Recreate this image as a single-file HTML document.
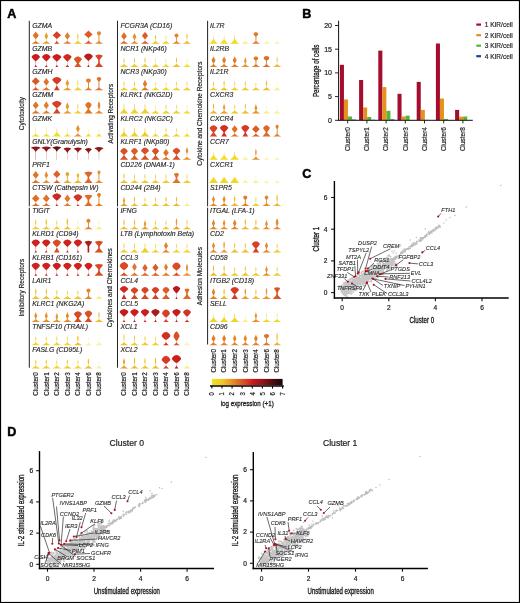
<!DOCTYPE html><html><head><meta charset="utf-8"><style>html,body{margin:0;padding:0;background:#fff}svg{display:block;will-change:transform}text{font-family:"Liberation Sans",sans-serif}</style></head><body><svg width="520" height="603" viewBox="0 0 520 603"><rect x="0.5" y="0.5" width="519" height="602" fill="#fff" stroke="#000" stroke-width="1.2"/>
<text x="7.2" y="17.8" font-size="12.6" font-weight="bold" stroke="#000" stroke-width="0.45" fill="#000">A</text>
<text x="302.3" y="17.8" font-size="12.6" font-weight="bold" stroke="#000" stroke-width="0.45" fill="#000">B</text>
<text x="302.3" y="178.2" font-size="12.6" font-weight="bold" stroke="#000" stroke-width="0.45" fill="#000">C</text>
<text x="7.2" y="435.6" font-size="12.6" font-weight="bold" stroke="#000" stroke-width="0.45" fill="#000">D</text>
<line x1="29.3" y1="20.8" x2="29.3" y2="206.3" stroke="#222" stroke-width="1"/>
<line x1="29.3" y1="207.7" x2="29.3" y2="367.7" stroke="#222" stroke-width="1"/>
<text x="24.2" y="113.6" font-size="6.5" text-anchor="middle" stroke="#2a2a2a" stroke-width="0.2" transform="rotate(-90 24.2 113.6)" fill="#2a2a2a">Cytotoxicity</text>
<text x="24.2" y="287.7" font-size="6.5" text-anchor="middle" stroke="#2a2a2a" stroke-width="0.2" transform="rotate(-90 24.2 287.7)" fill="#2a2a2a">Inhibitory Receptors</text>
<text x="32.2" y="27.7" font-size="6.9" font-style="italic" stroke="#222" stroke-width="0.12" fill="#222">GZMA</text>
<polygon points="40.1,43.8 38.9,43.2 37.9,42.6 37,42 36.4,41.4 35.9,40.7 35.9,40.1 35.9,39.5 36.1,38.9 36.6,38.3 37.1,37.7 37.6,37.1 38.1,36.5 38.6,35.8 38.9,35.6 38.6,35.2 38.1,34.6 37.7,34 37.2,33.4 36.7,32.8 36.2,32.2 35.8,31.6 35.8,31.6 35.3,32.2 34.8,32.8 34.3,33.4 33.8,34 33.4,34.6 32.9,35.2 32.6,35.6 32.9,35.8 33.4,36.5 33.9,37.1 34.4,37.7 34.9,38.3 35.4,38.9 35.6,39.5 35.6,40.1 35.6,40.7 35.1,41.4 34.5,42 33.6,42.6 32.6,43.2 31.4,43.8" fill="#e07327"/>
<polygon points="50.7,43.8 49.5,43.2 48.5,42.6 47.7,42.1 47.1,41.5 46.6,40.9 46.4,40.3 46.4,39.8 46.6,39.2 46.9,38.6 47.2,38 47.4,37.4 47.7,36.9 48,36.3 48,36.2 47.8,35.7 47.5,35.1 47.3,34.5 47,34 46.8,33.4 46.5,32.8 46.3,32.2 46.3,32.2 46,32.8 45.8,33.4 45.6,34 45.3,34.5 45.1,35.1 44.8,35.7 44.6,36.2 44.6,36.3 44.9,36.9 45.1,37.4 45.4,38 45.7,38.6 45.9,39.2 46.2,39.8 46.2,40.3 46,40.9 45.5,41.5 44.9,42.1 44,42.6 43,43.2 41.9,43.8" fill="#e99b2a"/>
<polygon points="59.5,43.8 58.8,43.2 58.1,42.5 57.6,41.9 57.2,41.3 56.9,40.7 56.9,40 56.9,39.4 57.1,38.8 57.8,38.2 58.5,37.5 59.2,36.9 59.9,36.3 60.6,35.7 61,35.3 60.8,35 60.1,34.4 59.5,33.8 58.8,33.2 58.1,32.5 57.5,31.9 56.8,31.3 56.8,31.3 56.2,31.9 55.5,32.5 54.9,33.2 54.2,33.8 53.5,34.4 52.9,35 52.6,35.3 53.1,35.7 53.8,36.3 54.5,36.9 55.2,37.5 55.9,38.2 56.6,38.8 56.7,39.4 56.7,40 56.7,40.7 56.5,41.3 56.1,41.9 55.5,42.5 54.9,43.2 54.1,43.8" fill="#d74024"/>
<polygon points="71.8,43.8 70.6,43.2 69.6,42.6 68.8,42 68.1,41.5 67.6,40.9 67.5,40.3 67.5,39.7 67.9,39.1 68.3,38.5 68.7,37.9 69.1,37.4 69.5,36.8 69.9,36.2 70,36.1 69.7,35.6 69.3,35 68.9,34.4 68.5,33.9 68.1,33.3 67.8,32.7 67.4,32.1 67.4,32.1 67,32.7 66.6,33.3 66.2,33.9 65.8,34.4 65.5,35 65.1,35.6 64.8,36.1 64.8,36.2 65.3,36.8 65.7,37.4 66.1,37.9 66.5,38.5 66.9,39.1 67.3,39.7 67.3,40.3 67.1,40.9 66.6,41.5 66,42 65.1,42.6 64.1,43.2 63,43.8" fill="#e37f28"/>
<polygon points="82.3,43.8 81.2,43.3 80.3,42.7 79.5,42.2 78.9,41.7 78.4,41.1 78,40.6 78,40.1 78.1,39.5 78.2,39 78.3,38.5 78.4,37.9 78.5,37.4 78.5,36.9 78.5,36.5 78.5,36.4 78.5,35.8 78.4,35.3 78.4,34.8 78.3,34.2 78.2,33.7 77.9,33.2 77.9,33.2 77.6,33.7 77.5,34.2 77.4,34.8 77.4,35.3 77.3,35.8 77.3,36.4 77.3,36.5 77.3,36.9 77.4,37.4 77.4,37.9 77.5,38.5 77.6,39 77.7,39.5 77.8,40.1 77.8,40.6 77.4,41.1 77,41.7 76.3,42.2 75.5,42.7 74.6,43.3 73.5,43.8" fill="#f0c928"/>
<polygon points="92.8,43.8 91.5,43.1 90.4,42.5 89.6,41.8 88.9,41.1 88.5,40.5 88.5,39.8 88.5,39.1 88.5,38.5 88.9,37.8 89.6,37.1 90.4,36.5 91.1,35.8 91.8,35.2 92.5,34.5 91.9,33.8 91.2,33.2 90.5,32.5 89.8,31.8 89.1,31.2 88.4,30.5 88.4,30.5 87.8,31.2 87.1,31.8 86.4,32.5 85.7,33.2 85,33.8 84.3,34.5 85.1,35.2 85.8,35.8 86.5,36.5 87.3,37.1 88,37.8 88.3,38.5 88.3,39.1 88.3,39.8 88.3,40.5 88,41.1 87.3,41.8 86.5,42.5 85.4,43.1 84,43.8" fill="#db5c25"/>
<polygon points="103.4,43.8 102.1,43.2 101.1,42.5 100.2,41.9 99.6,41.3 99.4,40.6 99.4,40 99.4,39.4 99.4,38.7 99.4,38.1 99.4,37.5 99.4,36.9 99.4,36.2 99.4,35.6 100.1,35 100.6,34.3 100.9,33.7 101,33.2 101,33.1 100.9,32.4 100.5,31.8 99,31.2 99,31.2 97.5,31.8 97.1,32.4 97,33.1 97,33.2 97.1,33.7 97.4,34.3 97.9,35 98.5,35.6 98.5,36.2 98.5,36.9 98.5,37.5 98.5,38.1 98.5,38.7 98.5,39.4 98.5,40 98.5,40.6 98.4,41.3 97.8,41.9 96.9,42.5 95.8,43.2 94.6,43.8" fill="#e48429"/>
<text x="32.2" y="50.9" font-size="6.9" font-style="italic" stroke="#222" stroke-width="0.12" fill="#222">GZMB</text>
<polygon points="37.1,67 36.7,66.3 36.3,65.7 35.9,65 35.9,64.4 35.9,63.7 35.9,63.1 35.9,62.4 35.9,61.8 36.2,61.1 36.9,60.5 37.6,59.8 38.2,59.2 38.8,58.5 39.3,57.9 39.8,57.2 40,56.9 39.8,56.6 39.4,55.9 38.7,55.3 37.7,54.6 35.8,54 35.8,54 33.8,54.6 32.8,55.3 32.1,55.9 31.7,56.6 31.6,56.9 31.7,57.2 32.2,57.9 32.7,58.5 33.3,59.2 33.9,59.8 34.6,60.5 35.3,61.1 35.6,61.8 35.6,62.4 35.6,63.1 35.6,63.7 35.6,64.4 35.6,65 35.2,65.7 34.8,66.3 34.4,67" fill="#cc1c1c"/>
<polygon points="47.7,67 47.2,66.3 46.8,65.7 46.5,65 46.4,64.4 46.4,63.7 46.4,63.1 46.4,62.4 46.4,61.8 46.7,61.1 47.5,60.5 48.1,59.8 48.8,59.2 49.3,58.5 49.8,57.9 50.3,57.2 50.5,56.9 50.4,56.6 49.9,55.9 49.2,55.3 48.2,54.6 46.3,54 46.3,54 44.3,54.6 43.3,55.3 42.6,55.9 42.2,56.6 42.1,56.9 42.3,57.2 42.7,57.9 43.3,58.5 43.8,59.2 44.4,59.8 45.1,60.5 45.9,61.1 46.2,61.8 46.2,62.4 46.2,63.1 46.2,63.7 46.2,64.4 46.1,65 45.7,65.7 45.3,66.3 44.9,67" fill="#cc1c1c"/>
<polygon points="58.2,67 57.8,66.3 57.4,65.7 57,65.1 56.9,64.4 56.9,63.8 56.9,63.1 56.9,62.5 56.9,61.8 57.4,61.2 58.2,60.5 58.9,59.9 59.5,59.2 60.1,58.6 60.7,58 61.2,57.3 61.3,57 61.2,56.7 60.7,56 60,55.4 58.9,54.7 56.8,54.1 56.8,54.1 54.8,54.7 53.7,55.4 52.9,56 52.5,56.7 52.3,57 52.5,57.3 53,58 53.5,58.6 54.1,59.2 54.8,59.9 55.5,60.5 56.3,61.2 56.7,61.8 56.7,62.5 56.7,63.1 56.7,63.8 56.7,64.4 56.6,65.1 56.3,65.7 55.9,66.3 55.4,67" fill="#cc1c1c"/>
<polygon points="69.4,67 68.7,66.3 68.2,65.7 67.6,65.1 67.5,64.4 67.5,63.8 67.5,63.1 67.5,62.5 67.5,61.8 67.9,61.2 68.6,60.5 69.3,59.9 69.9,59.2 70.4,58.6 71,58 71.4,57.3 71.6,57 71.5,56.7 71,56 70.3,55.4 69.3,54.7 67.4,54.1 67.4,54.1 65.4,54.7 64.4,55.4 63.7,56 63.3,56.7 63.2,57 63.3,57.3 63.8,58 64.3,58.6 64.9,59.2 65.5,59.9 66.1,60.5 66.9,61.2 67.3,61.8 67.3,62.5 67.3,63.1 67.3,63.8 67.3,64.4 67.1,65.1 66.6,65.7 66,66.3 65.4,67" fill="#d0281f"/>
<polygon points="81.7,67 81.2,66.5 80.7,65.9 80.3,65.4 79.9,64.9 79.5,64.3 79.1,63.8 78.8,63.3 79.2,62.7 79.7,62.2 80.2,61.7 80.6,61.1 81,60.6 81.4,60.1 81.8,59.5 81.9,59.3 81.8,59 81.5,58.5 81,57.9 80.4,57.4 79.5,56.9 77.9,56.3 77.9,56.3 76.3,56.9 75.4,57.4 74.8,57.9 74.3,58.5 74,59 73.9,59.3 74,59.5 74.4,60.1 74.8,60.6 75.2,61.1 75.6,61.7 76.1,62.2 76.6,62.7 77,63.3 76.7,63.8 76.3,64.3 75.9,64.9 75.5,65.4 75.1,65.9 74.6,66.5 74.1,67" fill="#da5624"/>
<polygon points="89.6,67 89.3,66.3 88.9,65.6 88.6,65 88.5,64.3 88.5,63.6 88.5,62.9 88.5,62.2 88.5,61.6 88.5,60.9 89.4,60.2 90.1,59.5 90.8,58.9 91.5,58.2 92.1,57.5 92.6,56.8 92.8,56.3 92.8,56.1 92.3,55.5 91.6,54.8 90.5,54.1 88.4,53.4 88.4,53.4 86.4,54.1 85.3,54.8 84.6,55.5 84.1,56.1 84,56.3 84.3,56.8 84.8,57.5 85.4,58.2 86.1,58.9 86.8,59.5 87.5,60.2 88.3,60.9 88.3,61.6 88.3,62.2 88.3,62.9 88.3,63.6 88.3,64.3 88.3,65 88,65.6 87.6,66.3 87.2,67" fill="#c01b1b"/>
<polygon points="103.2,67 102.6,66.4 102,65.8 101.4,65.1 100.9,64.5 100.4,63.9 100,63.3 99.8,62.7 99.8,62 99.8,61.4 99.8,60.8 99.8,60.2 99.9,59.6 100.4,59 100.9,58.3 101.3,57.7 101.8,57.1 102.3,56.5 102.7,56 102.7,55.9 102.2,55.2 99,54.6 99,54.6 95.7,55.2 95.3,55.9 95.3,56 95.7,56.5 96.2,57.1 96.7,57.7 97.1,58.3 97.6,59 98.1,59.6 98.2,60.2 98.2,60.8 98.2,61.4 98.2,62 98.2,62.7 98,63.3 97.6,63.9 97.1,64.5 96.6,65.1 96,65.8 95.4,66.4 94.8,67" fill="#d84524"/>
<text x="32.2" y="74.1" font-size="6.9" font-style="italic" stroke="#222" stroke-width="0.12" fill="#222">GZMH</text>
<polygon points="39.8,90.2 38.6,89.5 37.6,88.9 36.8,88.2 36.2,87.6 35.9,87 35.9,86.3 35.9,85.7 35.9,85 36.4,84.4 37.1,83.7 37.8,83.1 38.5,82.4 39.2,81.8 39.8,81.3 39.6,81.1 39,80.5 38.3,79.9 37.7,79.2 37,78.6 36.4,77.9 35.8,77.3 35.8,77.3 35.1,77.9 34.5,78.6 33.8,79.2 33.2,79.9 32.5,80.5 31.9,81.1 31.8,81.3 32.3,81.8 33,82.4 33.7,83.1 34.4,83.7 35.1,84.4 35.6,85 35.6,85.7 35.6,86.3 35.6,87 35.3,87.6 34.7,88.2 33.9,88.9 32.9,89.5 31.8,90.2" fill="#da5624"/>
<polygon points="50.7,90.2 49.5,89.6 48.4,89 47.6,88.3 46.9,87.7 46.5,87.1 46.4,86.5 46.4,85.9 46.6,85.3 47,84.7 47.5,84.1 47.9,83.5 48.4,82.8 48.9,82.2 49.1,81.9 48.9,81.6 48.4,81 48,80.4 47.6,79.8 47.1,79.2 46.7,78.6 46.3,77.9 46.3,77.9 45.9,78.6 45.4,79.2 45,79.8 44.6,80.4 44.1,81 43.7,81.6 43.5,81.9 43.7,82.2 44.2,82.8 44.6,83.5 45.1,84.1 45.5,84.7 46,85.3 46.2,85.9 46.2,86.5 46.1,87.1 45.6,87.7 45,88.3 44.1,89 43.1,89.6 41.9,90.2" fill="#e07327"/>
<polygon points="59.8,90.2 59.3,89.5 58.9,88.9 58.5,88.2 58.1,87.5 57.7,86.9 57.4,86.2 57.1,85.5 56.9,84.9 57.1,84.2 58,83.5 58.7,82.9 59.4,82.2 60.1,81.5 60.7,80.9 61.2,80.2 61.4,79.8 61.3,79.5 60.9,78.9 60.1,78.2 59,77.5 56.8,76.9 56.8,76.9 54.7,77.5 53.6,78.2 52.8,78.9 52.3,79.5 52.2,79.8 52.5,80.2 53,80.9 53.6,81.5 54.2,82.2 54.9,82.9 55.7,83.5 56.6,84.2 56.7,84.9 56.5,85.5 56.3,86.2 55.9,86.9 55.6,87.5 55.2,88.2 54.8,88.9 54.3,89.5 53.8,90.2" fill="#d63a24"/>
<polygon points="71.8,90.2 70.7,89.6 69.7,89.1 68.9,88.5 68.3,88 67.8,87.5 67.5,86.9 67.7,86.4 67.9,85.8 68.2,85.3 68.5,84.7 68.7,84.2 69,83.6 69.2,83.3 69.1,83.1 68.8,82.5 68.6,82 68.4,81.5 68.1,80.9 67.9,80.4 67.6,79.8 67.4,79.3 67.4,79.3 67.1,79.8 66.9,80.4 66.6,80.9 66.4,81.5 66.1,82 65.9,82.5 65.6,83.1 65.6,83.3 65.8,83.6 66,84.2 66.3,84.7 66.5,85.3 66.8,85.8 67.1,86.4 67.3,86.9 67,87.5 66.5,88 65.8,88.5 65,89.1 64.1,89.6 63,90.2" fill="#e99b2a"/>
<polygon points="82.3,90.2 81.3,89.7 80.4,89.1 79.6,88.6 78.9,88.1 78.4,87.6 78.1,87.1 78,86.5 78,86 78.1,85.5 78.2,85 78.3,84.5 78.3,84 78.3,83.4 78.3,83 78.3,82.9 78.3,82.4 78.3,81.9 78.2,81.4 78.2,80.8 78.1,80.3 77.9,79.8 77.9,79.8 77.7,80.3 77.6,80.8 77.6,81.4 77.5,81.9 77.5,82.4 77.5,82.9 77.5,83 77.5,83.4 77.5,84 77.6,84.5 77.6,85 77.7,85.5 77.8,86 77.8,86.5 77.7,87.1 77.4,87.6 76.9,88.1 76.2,88.6 75.5,89.1 74.6,89.7 73.5,90.2" fill="#f0cf26"/>
<polygon points="92.4,90.2 91.4,89.6 90.5,89 89.7,88.4 89.1,87.8 88.9,87.3 88.9,86.7 88.9,86.1 88.9,85.5 88.9,84.9 88.9,84.3 88.9,83.7 88.9,83.2 89.3,82.6 90.1,82 90.6,81.4 90.9,80.8 90.9,80.5 90.9,80.2 90.7,79.6 90.2,79.1 88.4,78.5 88.4,78.5 86.7,79.1 86.2,79.6 86,80.2 85.9,80.5 86,80.8 86.3,81.4 86.8,82 87.6,82.6 88,83.2 88,83.7 88,84.3 88,84.9 88,85.5 88,86.1 88,86.7 88,87.3 87.8,87.8 87.2,88.4 86.4,89 85.5,89.6 84.4,90.2" fill="#e37f28"/>
<polygon points="103.5,90.2 102.1,89.5 101,88.9 100.1,88.2 99.5,87.5 99.4,86.9 99.4,86.2 99.4,85.5 99.4,84.9 99.4,84.2 99.4,83.5 99.4,82.9 99.4,82.2 99.4,81.5 99.9,80.9 100.6,80.2 101,79.5 101.2,78.9 101.1,78.2 100.6,77.5 99,76.9 99,76.9 97.4,77.5 96.9,78.2 96.8,78.9 97,79.5 97.4,80.2 98.1,80.9 98.5,81.5 98.5,82.2 98.5,82.9 98.5,83.5 98.5,84.2 98.5,84.9 98.5,85.5 98.5,86.2 98.5,86.9 98.5,87.5 97.9,88.2 97,88.9 95.8,89.5 94.5,90.2" fill="#e07327"/>
<text x="32.2" y="97.3" font-size="6.9" font-style="italic" stroke="#222" stroke-width="0.12" fill="#222">GZMM</text>
<polygon points="40.1,113.4 39,112.8 37.9,112.2 37.1,111.6 36.4,111 36,110.4 35.9,109.8 35.9,109.2 36.2,108.6 36.7,108 37.1,107.4 37.6,106.8 38.1,106.2 38.6,105.6 38.8,105.4 38.5,105 38,104.4 37.6,103.8 37.1,103.2 36.6,102.6 36.2,102 35.8,101.4 35.8,101.4 35.3,102 34.9,102.6 34.4,103.2 33.9,103.8 33.5,104.4 33,105 32.8,105.4 32.9,105.6 33.4,106.2 33.9,106.8 34.4,107.4 34.8,108 35.3,108.6 35.6,109.2 35.6,109.8 35.5,110.4 35.1,111 34.4,111.6 33.6,112.2 32.5,112.8 31.4,113.4" fill="#e07327"/>
<polygon points="50.7,113.4 49.5,112.8 48.5,112.2 47.6,111.6 47,111 46.5,110.4 46.4,109.8 46.4,109.2 46.7,108.6 47.1,108 47.5,107.4 48,106.8 48.4,106.2 48.8,105.6 49,105.4 48.7,105 48.3,104.4 47.9,103.8 47.5,103.2 47.1,102.6 46.7,102 46.3,101.4 46.3,101.4 45.9,102 45.5,102.6 45.1,103.2 44.7,103.8 44.3,104.4 43.9,105 43.6,105.4 43.7,105.6 44.2,106.2 44.6,106.8 45,107.4 45.5,108 45.9,108.6 46.2,109.2 46.2,109.8 46.1,110.4 45.6,111 44.9,111.6 44.1,112.2 43.1,112.8 41.9,113.4" fill="#e37f28"/>
<polygon points="60.6,113.4 60,112.7 59.5,112.1 59,111.5 58.5,110.8 58.1,110.2 57.7,109.6 57.3,108.9 57.1,108.3 57.6,107.7 58.4,107.1 59.1,106.4 59.8,105.8 60.4,105.2 60.9,104.5 61.4,103.9 61.5,103.7 61.4,103.3 60.8,102.6 60.1,102 59,101.4 56.8,100.7 56.8,100.7 54.7,101.4 53.6,102 52.8,102.6 52.3,103.3 52.1,103.7 52.3,103.9 52.7,104.5 53.3,105.2 53.9,105.8 54.6,106.4 55.3,107.1 56.1,107.7 56.6,108.3 56.3,108.9 56,109.6 55.6,110.2 55.2,110.8 54.7,111.5 54.2,112.1 53.6,112.7 53,113.4" fill="#d74024"/>
<polygon points="71.8,113.4 70.7,112.8 69.7,112.3 68.9,111.7 68.3,111.2 67.8,110.6 67.5,110.1 67.7,109.6 67.9,109 68.2,108.5 68.5,107.9 68.7,107.4 69,106.8 69.2,106.5 69.1,106.3 68.8,105.7 68.6,105.2 68.4,104.6 68.1,104.1 67.9,103.6 67.6,103 67.4,102.5 67.4,102.5 67.1,103 66.9,103.6 66.6,104.1 66.4,104.6 66.1,105.2 65.9,105.7 65.6,106.3 65.6,106.5 65.8,106.8 66,107.4 66.3,107.9 66.5,108.5 66.8,109 67.1,109.6 67.3,110.1 67,110.6 66.5,111.2 65.8,111.7 65,112.3 64.1,112.8 63,113.4" fill="#e99b2a"/>
<polygon points="82.3,113.4 81.3,112.9 80.5,112.4 79.7,111.9 79.1,111.4 78.6,110.9 78.2,110.5 78,110 78,109.5 78.1,109 78.2,108.5 78.2,108 78.3,107.5 78.3,107.1 78.3,106.6 78.3,106.5 78.3,106.1 78.3,105.6 78.3,105.1 78.2,104.6 78.1,104.1 77.9,103.7 77.9,103.7 77.7,104.1 77.6,104.6 77.6,105.1 77.5,105.6 77.5,106.1 77.5,106.5 77.5,106.6 77.5,107.1 77.5,107.5 77.6,108 77.6,108.5 77.7,109 77.8,109.5 77.8,110 77.6,110.5 77.3,110.9 76.7,111.4 76.1,111.9 75.4,112.4 74.5,112.9 73.5,113.4" fill="#f0cc27"/>
<polygon points="92.6,113.4 92.1,112.8 91.5,112.2 91,111.7 90.5,111.1 90.1,110.5 89.6,110 89.3,109.4 89.1,108.8 89.6,108.3 90,107.7 90.4,107.2 90.8,106.6 91.1,106 91.4,105.5 91.6,105 91.6,104.9 91.4,104.3 91,103.8 90.5,103.2 89.8,102.6 88.4,102.1 88.4,102.1 87.1,102.6 86.4,103.2 85.9,103.8 85.5,104.3 85.3,104.9 85.2,105 85.5,105.5 85.8,106 86.1,106.6 86.5,107.2 86.9,107.7 87.3,108.3 87.8,108.8 87.6,109.4 87.3,110 86.8,110.5 86.4,111.1 85.9,111.7 85.4,112.2 84.8,112.8 84.2,113.4" fill="#e07327"/>
<polygon points="103.4,113.4 102.2,112.8 101.2,112.2 100.4,111.6 99.7,111 99.3,110.4 99.1,109.9 99.2,109.3 99.5,108.7 99.7,108.1 99.9,107.5 100.1,106.9 100.2,106.3 100.3,105.8 100.3,105.7 100.3,105.2 100.2,104.6 100.1,104 99.9,103.4 99.8,102.8 99.5,102.3 99,101.7 99,101.7 98.5,102.3 98.2,102.8 98,103.4 97.9,104 97.8,104.6 97.7,105.2 97.7,105.7 97.7,105.8 97.8,106.3 97.9,106.9 98.1,107.5 98.3,108.1 98.5,108.7 98.7,109.3 98.9,109.9 98.7,110.4 98.3,111 97.6,111.6 96.8,112.2 95.8,112.8 94.6,113.4" fill="#e68a29"/>
<text x="32.2" y="120.5" font-size="6.9" font-style="italic" stroke="#222" stroke-width="0.12" fill="#222">GZMK</text>
<polygon points="40,136.6 39.1,136.1 38.3,135.6 37.6,135.2 37,134.7 36.5,134.2 36.1,133.8 35.9,133.3 35.9,132.8 35.9,132.4 35.9,131.9 35.9,131.4 36,131 36,130.5 36,130 36,129.9 36,129.6 36,129.1 35.9,128.6 35.9,128.2 35.9,127.7 35.8,127.2 35.8,127.2 35.6,127.7 35.6,128.2 35.6,128.6 35.5,129.1 35.5,129.6 35.5,129.9 35.5,130 35.5,130.5 35.5,131 35.6,131.4 35.6,131.9 35.6,132.4 35.6,132.8 35.6,133.3 35.4,133.8 35,134.2 34.5,134.7 33.9,135.2 33.2,135.6 32.4,136.1 31.4,136.6" fill="#f1e021"/>
<polygon points="50.6,136.6 49.6,136 48.7,135.5 47.9,135 47.3,134.5 46.8,134 46.5,133.4 46.4,132.9 46.4,132.4 46.4,131.9 46.5,131.4 46.5,130.9 46.5,130.3 46.5,129.8 46.5,129.4 46.5,129.3 46.5,128.8 46.5,128.3 46.5,127.7 46.4,127.2 46.4,126.7 46.3,126.2 46.3,126.2 46.2,126.7 46.1,127.2 46.1,127.7 46.1,128.3 46.1,128.8 46.1,129.3 46,129.4 46.1,129.8 46.1,130.3 46.1,130.9 46.1,131.4 46.2,131.9 46.2,132.4 46.2,132.9 46.1,133.4 45.8,134 45.3,134.5 44.7,135 43.9,135.5 43,136 42,136.6" fill="#f1e021"/>
<polygon points="61.4,136.6 60.9,136.1 60.3,135.7 59.9,135.3 59.4,134.9 59,134.5 58.6,134 58.3,133.6 58,133.2 57.7,132.8 57.5,132.4 57.3,132 57.1,131.5 57.1,131.1 57.1,130.7 57.1,130.7 57.1,130.3 57.1,129.9 57.1,129.4 57.1,129 57,128.6 56.8,128.2 56.8,128.2 56.7,128.6 56.6,129 56.6,129.4 56.5,129.9 56.5,130.3 56.5,130.7 56.5,130.7 56.5,131.1 56.5,131.5 56.4,132 56.2,132.4 56,132.8 55.7,133.2 55.4,133.6 55.1,134 54.7,134.5 54.3,134.9 53.8,135.3 53.3,135.7 52.8,136.1 52.2,136.6" fill="#f1e021"/>
<polygon points="71.2,136.6 70.4,136.1 69.8,135.7 69.2,135.3 68.7,134.9 68.2,134.5 67.9,134 67.6,133.6 67.5,133.2 67.5,132.8 67.5,132.4 67.5,132 67.5,131.5 67.5,131.1 67.5,130.7 67.6,130.4 67.5,130.3 67.5,129.9 67.5,129.4 67.5,129 67.5,128.6 67.4,128.2 67.4,128.2 67.3,128.6 67.2,129 67.2,129.4 67.2,129.9 67.2,130.3 67.2,130.4 67.2,130.7 67.2,131.1 67.2,131.5 67.3,132 67.3,132.4 67.3,132.8 67.3,133.2 67.1,133.6 66.9,134 66.5,134.5 66.1,134.9 65.6,135.3 65,135.7 64.3,136.1 63.6,136.6" fill="#f1e021"/>
<polygon points="82.3,136.6 81.1,136 80.1,135.4 79.3,134.8 78.6,134.2 78.2,133.6 78,133 78,132.5 78.3,131.9 78.6,131.3 78.9,130.7 79.2,130.1 79.5,129.5 79.8,129 79.8,128.8 79.6,128.4 79.3,127.8 79,127.2 78.7,126.6 78.5,126 78.2,125.4 77.9,124.9 77.9,124.9 77.6,125.4 77.4,126 77.1,126.6 76.8,127.2 76.5,127.8 76.2,128.4 76,128.8 76.1,129 76.4,129.5 76.7,130.1 77,130.7 77.3,131.3 77.6,131.9 77.8,132.5 77.8,133 77.6,133.6 77.2,134.2 76.5,134.8 75.7,135.4 74.7,136 73.5,136.6" fill="#e7902a"/>
<polygon points="91.9,136.6 91.3,136.2 90.8,135.8 90.2,135.4 89.8,135 89.4,134.6 89.1,134.2 88.8,133.9 88.6,133.5 88.5,133.1 88.5,132.7 88.5,132.3 88.6,131.9 88.6,131.5 88.6,131.2 88.6,130.8 88.6,130.7 88.6,130.4 88.6,130 88.6,129.6 88.5,129.2 88.4,128.8 88.4,128.8 88.3,129.2 88.3,129.6 88.3,130 88.3,130.4 88.3,130.7 88.3,130.8 88.3,131.2 88.3,131.5 88.3,131.9 88.3,132.3 88.3,132.7 88.3,133.1 88.3,133.5 88.1,133.9 87.8,134.2 87.5,134.6 87.1,135 86.7,135.4 86.1,135.8 85.6,136.2 84.9,136.6" fill="#f1e021"/>
<polygon points="102.5,136.6 101.9,136.2 101.3,135.8 100.8,135.4 100.3,135 99.9,134.6 99.6,134.2 99.3,133.9 99.1,133.5 99.1,133.1 99.1,132.7 99.1,132.3 99.1,131.9 99.1,131.5 99.2,131.2 99.2,130.8 99.2,130.7 99.2,130.4 99.1,130 99.1,129.6 99.1,129.2 99,128.8 99,128.8 98.9,129.2 98.9,129.6 98.8,130 98.8,130.4 98.8,130.7 98.8,130.8 98.8,131.2 98.8,131.5 98.9,131.9 98.9,132.3 98.9,132.7 98.9,133.1 98.8,133.5 98.6,133.9 98.4,134.2 98,134.6 97.7,135 97.2,135.4 96.7,135.8 96.1,136.2 95.5,136.6" fill="#f1e021"/>
<text x="32.2" y="143.7" font-size="6.9" font-style="italic" stroke="#222" stroke-width="0.12" fill="#222">GNLY(Granulysin)</text>
<polygon points="35.9,159.8 35.9,159.1 35.9,158.4 35.9,157.8 35.9,157.1 35.9,156.4 35.9,155.8 35.9,155.1 35.9,154.4 35.9,153.8 35.9,153.1 35.9,152.4 36,151.8 36.4,151.1 36.9,150.4 37.5,149.8 38.3,149.1 39.3,148.4 40.5,148 40.4,147.8 39.2,147.1 35.8,146.4 35.8,146.4 32.3,147.1 31.1,147.8 30.9,148 32.2,148.4 33.2,149.1 34,149.8 34.6,150.4 35.1,151.1 35.5,151.8 35.6,152.4 35.6,153.1 35.6,153.8 35.6,154.4 35.6,155.1 35.6,155.8 35.6,156.4 35.6,157.1 35.6,157.8 35.6,158.4 35.6,159.1 35.6,159.8" fill="#911618"/>
<polygon points="46.4,159.8 46.4,159.1 46.4,158.4 46.4,157.8 46.4,157.1 46.4,156.4 46.4,155.8 46.4,155.1 46.4,154.4 46.4,153.8 46.4,153.1 46.4,152.4 46.5,151.8 46.9,151.1 47.4,150.4 48,149.8 48.8,149.1 49.9,148.4 51.1,148 50.9,147.8 49.7,147.1 46.3,146.4 46.3,146.4 42.9,147.1 41.7,147.8 41.5,148 42.7,148.4 43.8,149.1 44.6,149.8 45.2,150.4 45.7,151.1 46,151.8 46.2,152.4 46.2,153.1 46.2,153.8 46.2,154.4 46.2,155.1 46.2,155.8 46.2,156.4 46.2,157.1 46.2,157.8 46.2,158.4 46.2,159.1 46.2,159.8" fill="#911618"/>
<polygon points="56.9,159.8 56.9,159.1 56.9,158.4 56.9,157.7 56.9,157 56.9,156.4 56.9,155.7 56.9,155 56.9,154.3 56.9,153.6 56.9,153 56.9,152.3 57,151.6 57.4,150.9 57.8,150.3 58.4,149.6 59.1,148.9 60.1,148.2 61.3,147.8 61.2,147.5 60.1,146.9 56.8,146.2 56.8,146.2 53.6,146.9 52.5,147.5 52.3,147.8 53.5,148.2 54.5,148.9 55.3,149.6 55.8,150.3 56.3,150.9 56.6,151.6 56.7,152.3 56.7,153 56.7,153.6 56.7,154.3 56.7,155 56.7,155.7 56.7,156.4 56.7,157 56.7,157.7 56.7,158.4 56.7,159.1 56.7,159.8" fill="#6a1112"/>
<polygon points="67.5,159.8 67.5,159.1 67.5,158.5 67.5,157.9 67.5,157.3 67.5,156.7 67.5,156.1 67.5,155.5 67.5,154.9 67.5,154.2 67.5,153.6 67.5,153 67.8,152.4 68.1,151.8 68.5,151.2 69.1,150.6 69.7,150 70.7,149.3 71.4,149.1 71.1,148.7 70.1,148.1 67.4,147.5 67.4,147.5 64.7,148.1 63.6,148.7 63.4,149.1 64.1,149.3 65,150 65.7,150.6 66.2,151.2 66.6,151.8 67,152.4 67.2,153 67.3,153.6 67.3,154.2 67.3,154.9 67.3,155.5 67.3,156.1 67.3,156.7 67.3,157.3 67.3,157.9 67.3,158.5 67.3,159.1 67.3,159.8" fill="#911618"/>
<polygon points="78,159.8 78,159.1 78,158.5 78,157.9 78,157.3 78,156.7 78,156 78,155.4 78,154.8 78,154.2 78,153.6 78,152.9 78.3,152.3 78.6,151.7 79,151.1 79.6,150.5 80.2,149.9 81.2,149.2 81.9,149 81.7,148.6 80.6,148 77.9,147.4 77.9,147.4 75.2,148 74.1,148.6 73.9,149 74.7,149.2 75.6,149.9 76.3,150.5 76.8,151.1 77.2,151.7 77.5,152.3 77.8,152.9 77.8,153.6 77.8,154.2 77.8,154.8 77.8,155.4 77.8,156 77.8,156.7 77.8,157.3 77.8,157.9 77.8,158.5 77.8,159.1 77.8,159.8" fill="#911618"/>
<polygon points="88.5,159.8 88.5,159.2 88.5,158.6 88.5,158 88.5,157.4 88.5,156.8 88.5,156.2 88.5,155.7 88.5,155.1 88.5,154.5 88.5,153.9 88.7,153.3 88.9,152.7 89.2,152.1 89.6,151.6 90,151 90.6,150.4 91.5,149.8 91.9,149.6 91.7,149.2 90.8,148.6 88.4,148 88.4,148 86.1,148.6 85.2,149.2 84.9,149.6 85.4,149.8 86.3,150.4 86.9,151 87.3,151.6 87.7,152.1 88,152.7 88.2,153.3 88.3,153.9 88.3,154.5 88.3,155.1 88.3,155.7 88.3,156.2 88.3,156.8 88.3,157.4 88.3,158 88.3,158.6 88.3,159.2 88.3,159.8" fill="#8b1517"/>
<polygon points="99.1,159.8 99.1,159.1 99.1,158.5 99.1,157.8 99.1,157.2 99.1,156.6 99.1,155.9 99.1,155.3 99.1,154.6 99.1,154 99.1,153.4 99.1,152.7 99.3,152.1 99.7,151.5 100.2,150.8 100.7,150.2 101.5,149.5 102.5,148.9 103.5,148.6 103.3,148.3 102.1,147.6 99,147 99,147 95.9,147.6 94.7,148.3 94.5,148.6 95.5,148.9 96.5,149.5 97.2,150.2 97.8,150.8 98.3,151.5 98.7,152.1 98.9,152.7 98.9,153.4 98.9,154 98.9,154.6 98.9,155.3 98.9,155.9 98.9,156.6 98.9,157.2 98.9,157.8 98.9,158.5 98.9,159.1 98.9,159.8" fill="#911618"/>
<text x="32.2" y="166.8" font-size="6.9" font-style="italic" stroke="#222" stroke-width="0.12" fill="#222">PRF1</text>
<polygon points="40.1,182.9 39,182.3 37.9,181.7 37.1,181.1 36.4,180.5 36,179.9 35.9,179.3 35.9,178.8 36.2,178.2 36.7,177.6 37.1,177 37.6,176.4 38.1,175.8 38.6,175.2 38.8,175 38.5,174.6 38,174 37.6,173.4 37.1,172.8 36.6,172.2 36.2,171.6 35.8,171 35.8,171 35.3,171.6 34.9,172.2 34.4,172.8 33.9,173.4 33.5,174 33,174.6 32.8,175 32.9,175.2 33.4,175.8 33.9,176.4 34.4,177 34.8,177.6 35.3,178.2 35.6,178.8 35.6,179.3 35.5,179.9 35.1,180.5 34.4,181.1 33.6,181.7 32.5,182.3 31.4,182.9" fill="#e07327"/>
<polygon points="50.7,182.9 49.5,182.4 48.5,181.8 47.7,181.2 47,180.6 46.6,180 46.4,179.4 46.4,178.8 46.6,178.3 46.9,177.7 47.2,177.1 47.5,176.5 47.8,175.9 48,175.3 48.1,175.2 47.9,174.7 47.6,174.2 47.3,173.6 47.1,173 46.8,172.4 46.6,171.8 46.3,171.2 46.3,171.2 46,171.8 45.8,172.4 45.5,173 45.2,173.6 45,174.2 44.7,174.7 44.5,175.2 44.5,175.3 44.8,175.9 45.1,176.5 45.4,177.1 45.7,177.7 46,178.3 46.2,178.8 46.2,179.4 46,180 45.6,180.6 44.9,181.2 44.1,181.8 43.1,182.4 41.9,182.9" fill="#e7902a"/>
<polygon points="60.4,182.9 59.4,182.3 58.5,181.7 57.8,181 57.3,180.4 57,179.8 56.9,179.1 56.9,178.5 57,177.9 57.6,177.3 58.2,176.6 58.8,176 59.4,175.4 60,174.7 60.4,174.3 60.2,174.1 59.7,173.5 59.1,172.8 58.5,172.2 58,171.6 57.4,170.9 56.8,170.3 56.8,170.3 56.3,170.9 55.7,171.6 55.1,172.2 54.5,172.8 54,173.5 53.4,174.1 53.2,174.3 53.6,174.7 54.3,175.4 54.9,176 55.5,176.6 56.1,177.3 56.7,177.9 56.7,178.5 56.7,179.1 56.7,179.8 56.4,180.4 55.8,181 55.1,181.7 54.3,182.3 53.2,182.9" fill="#dd6225"/>
<polygon points="71.8,182.9 70.7,182.4 69.7,181.8 68.9,181.3 68.3,180.8 67.8,180.2 67.8,179.7 67.8,179.1 67.8,178.6 67.8,178 67.8,177.5 67.8,176.9 67.8,176.4 68.3,175.9 68.7,175.3 69,174.8 69.2,174.2 69.2,174 69.1,173.7 69,173.1 68.6,172.6 67.4,172 67.4,172 66.1,172.6 65.8,173.1 65.6,173.7 65.6,174 65.6,174.2 65.7,174.8 66,175.3 66.4,175.9 66.9,176.4 66.9,176.9 66.9,177.5 66.9,178 66.9,178.6 66.9,179.1 66.9,179.7 66.9,180.2 66.5,180.8 65.8,181.3 65,181.8 64.1,182.4 63,182.9" fill="#eba629"/>
<polygon points="82.3,182.9 81.3,182.5 80.5,182 79.7,181.5 79.1,181 78.6,180.5 78.4,180.1 78.4,179.6 78.4,179.1 78.4,178.6 78.4,178.2 78.4,177.7 78.6,177.2 78.9,176.7 79,176.2 79.2,175.8 79.2,175.4 79.2,175.3 79.2,174.8 79,174.3 78.8,173.8 77.9,173.4 77.9,173.4 77.1,173.8 76.8,174.3 76.7,174.8 76.6,175.3 76.6,175.4 76.7,175.8 76.8,176.2 77,176.7 77.2,177.2 77.5,177.7 77.5,178.2 77.5,178.6 77.5,179.1 77.5,179.6 77.5,180.1 77.2,180.5 76.7,181 76.1,181.5 75.3,182 74.5,182.5 73.5,182.9" fill="#edb729"/>
<polygon points="92.6,182.9 92.1,182.4 91.5,181.8 91,181.2 90.5,180.7 90.1,180.1 89.6,179.5 89.3,179 89.2,178.4 89.2,177.9 89.2,177.3 89.3,176.7 89.7,176.2 90.2,175.6 90.7,175 91.1,174.5 91.6,173.9 92.1,173.3 92.3,173 92.3,172.8 91.8,172.2 88.4,171.6 88.4,171.6 85.1,172.2 84.6,172.8 84.5,173 84.8,173.3 85.3,173.9 85.8,174.5 86.2,175 86.7,175.6 87.1,176.2 87.6,176.7 87.6,177.3 87.6,177.9 87.6,178.4 87.6,179 87.3,179.5 86.8,180.1 86.4,180.7 85.9,181.2 85.4,181.8 84.8,182.4 84.2,182.9" fill="#de6726"/>
<polygon points="103.4,182.9 102.1,182.3 101.1,181.7 100.2,181 99.6,180.4 99.4,179.8 99.4,179.1 99.4,178.5 99.4,177.9 99.4,177.3 99.4,176.6 99.4,176 99.4,175.4 99.4,174.7 99.8,174.1 100.2,173.5 100.4,172.8 100.5,172.3 100.5,172.2 100.4,171.6 100.1,170.9 99,170.3 99,170.3 97.9,170.9 97.6,171.6 97.5,172.2 97.5,172.3 97.6,172.8 97.8,173.5 98.2,174.1 98.5,174.7 98.5,175.4 98.5,176 98.5,176.6 98.5,177.3 98.5,177.9 98.5,178.5 98.5,179.1 98.5,179.8 98.4,180.4 97.8,181 96.9,181.7 95.8,182.3 94.6,182.9" fill="#e7902a"/>
<text x="32.2" y="190" font-size="6.9" font-style="italic" stroke="#222" stroke-width="0.12" fill="#222">CTSW (Cathepsin W)</text>
<polygon points="40.1,206.1 39,205.6 38,205 37.2,204.4 36.5,203.8 36,203.2 35.9,202.7 35.9,202.1 36.5,201.5 37.1,200.9 37.7,200.3 38.3,199.8 38.9,199.2 39.5,198.6 39.5,198.5 39.1,198 38.5,197.5 38,196.9 37.4,196.3 36.9,195.7 36.3,195.1 35.8,194.6 35.8,194.6 35.2,195.1 34.6,195.7 34.1,196.3 33.5,196.9 33,197.5 32.4,198 31.9,198.5 32,198.6 32.6,199.2 33.2,199.8 33.8,200.3 34.4,200.9 35,201.5 35.6,202.1 35.6,202.7 35.5,203.2 35,203.8 34.3,204.4 33.5,205 32.5,205.6 31.4,206.1" fill="#df6d26"/>
<polygon points="50.7,206.1 49.5,205.6 48.5,205 47.7,204.4 47.1,203.8 46.6,203.2 46.4,202.7 46.5,202.1 47,201.5 47.6,200.9 48.1,200.3 48.6,199.8 49.2,199.2 49.7,198.6 49.8,198.5 49.3,198 48.8,197.5 48.3,196.9 47.8,196.3 47.3,195.7 46.8,195.1 46.3,194.6 46.3,194.6 45.8,195.1 45.3,195.7 44.8,196.3 44.3,196.9 43.8,197.5 43.2,198 42.8,198.5 42.8,198.6 43.4,199.2 43.9,199.8 44.5,200.3 45,200.9 45.6,201.5 46.1,202.1 46.2,202.7 46,203.2 45.5,203.8 44.9,204.4 44,205 43,205.6 41.9,206.1" fill="#e07327"/>
<polygon points="58.3,206.1 57.9,205.5 57.4,204.8 57,204.2 56.9,203.5 56.9,202.9 56.9,202.3 56.9,201.6 56.9,201 57.4,200.3 58.2,199.7 58.9,199 59.5,198.4 60.1,197.7 60.7,197.1 61.2,196.5 61.3,196.2 61.2,195.8 60.7,195.2 60,194.5 58.9,193.9 56.8,193.2 56.8,193.2 54.8,193.9 53.7,194.5 52.9,195.2 52.5,195.8 52.3,196.2 52.5,196.5 53,197.1 53.5,197.7 54.1,198.4 54.8,199 55.5,199.7 56.3,200.3 56.7,201 56.7,201.6 56.7,202.3 56.7,202.9 56.7,203.5 56.6,204.2 56.2,204.8 55.8,205.5 55.3,206.1" fill="#d0281f"/>
<polygon points="71.8,206.1 70.6,205.6 69.6,205 68.8,204.4 68.1,203.8 67.7,203.2 67.5,202.7 67.5,202.1 68,201.5 68.5,200.9 68.9,200.3 69.4,199.8 69.9,199.2 70.3,198.6 70.4,198.5 70,198 69.5,197.5 69.1,196.9 68.7,196.3 68.2,195.7 67.8,195.1 67.4,194.6 67.4,194.6 66.9,195.1 66.5,195.7 66.1,196.3 65.6,196.9 65.2,197.5 64.8,198 64.4,198.5 64.4,198.6 64.9,199.2 65.4,199.8 65.8,200.3 66.3,200.9 66.7,201.5 67.2,202.1 67.3,202.7 67.1,203.2 66.6,203.8 65.9,204.4 65.1,205 64.1,205.6 63,206.1" fill="#e27928"/>
<polygon points="79.5,206.1 79,205.5 78.6,204.9 78.2,204.3 78,203.7 78,203.1 78,202.5 78,201.9 78.3,201.3 79,200.7 79.7,200.1 80.3,199.5 80.8,198.9 81.3,198.3 81.8,197.8 82.2,197.2 82.2,197.1 82,196.6 81.5,196 80.8,195.4 79.8,194.8 77.9,194.2 77.9,194.2 76,194.8 75,195.4 74.3,196 73.8,196.6 73.6,197.1 73.6,197.2 74,197.8 74.5,198.3 75,198.9 75.5,199.5 76.1,200.1 76.8,200.7 77.5,201.3 77.8,201.9 77.8,202.5 77.8,203.1 77.8,203.7 77.6,204.3 77.2,204.9 76.8,205.5 76.3,206.1" fill="#d43422"/>
<polygon points="92.7,206.1 92.1,205.6 91.6,205 91,204.4 90.5,203.8 90.1,203.3 89.6,202.7 89.3,202.1 89.2,201.6 89.2,201 89.2,200.4 89.2,199.8 89.7,199.3 90.1,198.7 90.6,198.1 91,197.6 91.5,197 91.9,196.4 92.2,196 92.2,195.8 91.7,195.3 88.4,194.7 88.4,194.7 85.2,195.3 84.7,195.8 84.6,196 85,196.4 85.4,197 85.9,197.6 86.3,198.1 86.8,198.7 87.2,199.3 87.6,199.8 87.6,200.4 87.6,201 87.6,201.6 87.6,202.1 87.3,202.7 86.8,203.3 86.4,203.8 85.9,204.4 85.3,205 84.8,205.6 84.1,206.1" fill="#df6d26"/>
<polygon points="103.4,206.1 102.1,205.5 101,204.8 100.1,204.1 99.5,203.5 99.4,202.8 99.4,202.1 99.4,201.5 99.4,200.8 99.4,200.1 99.4,199.5 99.4,198.8 99.4,198.2 99.4,197.5 99.8,196.8 100.4,196.2 100.7,195.5 100.9,194.8 100.8,194.2 100.4,193.5 99,192.8 99,192.8 97.6,193.5 97.2,194.2 97.1,194.8 97.2,195.5 97.6,196.2 98.2,196.8 98.5,197.5 98.5,198.2 98.5,198.8 98.5,199.5 98.5,200.1 98.5,200.8 98.5,201.5 98.5,202.1 98.5,202.8 98.5,203.5 97.9,204.1 97,204.8 95.9,205.5 94.6,206.1" fill="#e37f28"/>
<text x="32.2" y="213.2" font-size="6.9" font-style="italic" stroke="#222" stroke-width="0.12" fill="#222">TIGIT</text>
<polygon points="40.1,229.3 39.2,228.8 38.3,228.3 37.6,227.9 36.9,227.4 36.4,226.9 36,226.4 35.9,225.9 35.9,225.4 36,225 36.1,224.5 36.2,224 36.3,223.5 36.3,223 36.3,222.5 36.4,222.5 36.3,222 36.3,221.6 36.2,221.1 36.2,220.6 36,220.1 35.8,219.6 35.8,219.6 35.5,220.1 35.3,220.6 35.3,221.1 35.2,221.6 35.2,222 35.1,222.5 35.2,222.5 35.2,223 35.2,223.5 35.3,224 35.4,224.5 35.5,225 35.6,225.4 35.6,225.9 35.5,226.4 35.1,226.9 34.6,227.4 33.9,227.9 33.2,228.3 32.3,228.8 31.4,229.3" fill="#f0cc27"/>
<polygon points="50.7,229.3 49.6,228.8 48.7,228.3 48,227.8 47.3,227.2 46.8,226.7 46.5,226.2 46.4,225.7 46.5,225.2 46.7,224.7 46.8,224.1 46.9,223.6 47,223.1 47,222.6 47,222.1 47,222.1 47,221.5 46.9,221 46.9,220.5 46.8,220 46.6,219.5 46.3,218.9 46.3,218.9 46,219.5 45.8,220 45.7,220.5 45.6,221 45.6,221.5 45.6,222.1 45.6,222.1 45.6,222.6 45.6,223.1 45.7,223.6 45.8,224.1 45.9,224.7 46.1,225.2 46.2,225.7 46.1,226.2 45.8,226.7 45.3,227.2 44.6,227.8 43.8,228.3 42.9,228.8 41.9,229.3" fill="#f0c528"/>
<polygon points="61.2,229.3 60.3,228.9 59.5,228.4 58.8,228 58.2,227.5 57.6,227.1 57.3,226.6 57,226.2 56.9,225.7 56.9,225.3 57.1,224.8 57.2,224.3 57.2,223.9 57.3,223.4 57.3,223 57.3,222.8 57.3,222.5 57.3,222.1 57.2,221.6 57.2,221.2 57.1,220.7 56.8,220.3 56.8,220.3 56.6,220.7 56.5,221.2 56.4,221.6 56.4,222.1 56.4,222.5 56.4,222.8 56.4,223 56.4,223.4 56.4,223.9 56.5,224.3 56.6,224.8 56.7,225.3 56.7,225.7 56.7,226.2 56.4,226.6 56,227.1 55.5,227.5 54.9,228 54.2,228.4 53.3,228.9 52.4,229.3" fill="#f0cf26"/>
<polygon points="71.8,229.3 70.7,228.8 69.7,228.2 68.9,227.7 68.2,227.1 67.8,226.6 67.5,226 67.5,225.5 67.7,224.9 67.8,224.4 68,223.8 68,223.2 68.1,222.7 68.1,222.1 68.2,221.8 68.1,221.6 68.1,221 68.1,220.5 68,219.9 67.9,219.4 67.7,218.8 67.4,218.3 67.4,218.3 67,218.8 66.9,219.4 66.8,219.9 66.7,220.5 66.6,221 66.6,221.6 66.6,221.8 66.6,222.1 66.6,222.7 66.7,223.2 66.8,223.8 66.9,224.4 67.1,224.9 67.3,225.5 67.3,226 67,226.6 66.5,227.1 65.8,227.7 65,228.2 64.1,228.8 63,229.3" fill="#efc028"/>
<polygon points="81.7,229.3 80.9,228.9 80.2,228.4 79.6,228 79.1,227.5 78.6,227.1 78.3,226.6 78,226.2 78,225.7 78,225.3 78.1,224.8 78.1,224.3 78.2,223.9 78.2,223.4 78.2,223 78.2,222.8 78.2,222.5 78.2,222.1 78.2,221.6 78.1,221.2 78.1,220.7 77.9,220.3 77.9,220.3 77.8,220.7 77.7,221.2 77.7,221.6 77.6,222.1 77.6,222.5 77.6,222.8 77.6,223 77.6,223.4 77.7,223.9 77.7,224.3 77.8,224.8 77.8,225.3 77.8,225.7 77.8,226.2 77.5,226.6 77.2,227.1 76.8,227.5 76.2,228 75.6,228.4 74.9,228.9 74.1,229.3" fill="#f1e021" fill-opacity="0.55"/>
<polygon points="92.8,229.3 91.8,228.8 90.9,228.3 90.1,227.7 89.4,227.2 88.9,226.7 88.9,226.1 88.9,225.6 88.9,225.1 88.9,224.5 88.9,224 88.9,223.5 88.9,222.9 89.6,222.4 90,221.9 90.3,221.3 90.4,220.8 90.4,220.7 90.4,220.3 90.2,219.7 89.8,219.2 88.4,218.7 88.4,218.7 87.1,219.2 86.7,219.7 86.5,220.3 86.4,220.7 86.5,220.8 86.6,221.3 86.9,221.9 87.3,222.4 88,222.9 88,223.5 88,224 88,224.5 88,225.1 88,225.6 88,226.1 88,226.7 87.5,227.2 86.8,227.7 86,228.3 85.1,228.8 84,229.3" fill="#e48429"/>
<polygon points="102.8,229.3 101.9,228.8 101.1,228.3 100.4,227.8 99.9,227.2 99.4,226.7 99.1,226.2 99.1,225.7 99.1,225.2 99.1,224.7 99.2,224.1 99.2,223.6 99.3,223.1 99.3,222.6 99.3,222.1 99.3,222.1 99.3,221.5 99.3,221 99.2,220.5 99.2,220 99.1,219.5 99,218.9 99,218.9 98.9,219.5 98.8,220 98.8,220.5 98.7,221 98.7,221.5 98.7,222.1 98.7,222.1 98.7,222.6 98.7,223.1 98.7,223.6 98.8,224.1 98.8,224.7 98.9,225.2 98.9,225.7 98.8,226.2 98.5,226.7 98.1,227.2 97.6,227.8 96.9,228.3 96.1,228.8 95.2,229.3" fill="#f1e021" fill-opacity="0.55"/>
<text x="32.2" y="236.4" font-size="6.9" font-style="italic" stroke="#222" stroke-width="0.12" fill="#222">KLRD1 (CD94)</text>
<polygon points="37.1,252.5 36.7,251.9 36.3,251.2 35.9,250.6 35.9,249.9 35.9,249.3 35.9,248.6 35.9,247.9 35.9,247.3 36.2,246.6 36.9,246 37.6,245.3 38.2,244.7 38.8,244 39.3,243.4 39.8,242.7 40,242.4 39.8,242.1 39.4,241.4 38.7,240.8 37.7,240.1 35.8,239.5 35.8,239.5 33.8,240.1 32.8,240.8 32.1,241.4 31.7,242.1 31.6,242.4 31.7,242.7 32.2,243.4 32.7,244 33.3,244.7 33.9,245.3 34.6,246 35.3,246.6 35.6,247.3 35.6,247.9 35.6,248.6 35.6,249.3 35.6,249.9 35.6,250.6 35.2,251.2 34.8,251.9 34.4,252.5" fill="#ce221e"/>
<polygon points="47.7,252.5 47.2,251.9 46.8,251.2 46.5,250.6 46.4,249.9 46.4,249.3 46.4,248.6 46.4,247.9 46.4,247.3 46.7,246.6 47.5,246 48.1,245.3 48.8,244.7 49.3,244 49.8,243.4 50.3,242.7 50.5,242.4 50.4,242.1 49.9,241.4 49.2,240.8 48.2,240.1 46.3,239.5 46.3,239.5 44.3,240.1 43.3,240.8 42.6,241.4 42.2,242.1 42.1,242.4 42.3,242.7 42.7,243.4 43.3,244 43.8,244.7 44.4,245.3 45.1,246 45.9,246.6 46.2,247.3 46.2,247.9 46.2,248.6 46.2,249.3 46.2,249.9 46.1,250.6 45.7,251.2 45.3,251.9 44.9,252.5" fill="#ce221e"/>
<polygon points="59.8,252.5 59.4,251.9 58.9,251.2 58.5,250.6 58.1,249.9 57.8,249.3 57.5,248.6 57.2,248 57,247.3 57.3,246.7 58.1,246.1 58.7,245.4 59.3,244.8 59.9,244.1 60.4,243.5 60.9,242.8 61,242.5 60.9,242.2 60.5,241.5 59.8,240.9 58.8,240.3 56.8,239.6 56.8,239.6 54.9,240.3 53.9,240.9 53.2,241.5 52.7,242.2 52.6,242.5 52.8,242.8 53.2,243.5 53.8,244.1 54.3,244.8 54.9,245.4 55.6,246.1 56.3,246.7 56.7,247.3 56.5,248 56.2,248.6 55.9,249.3 55.5,249.9 55.2,250.6 54.7,251.2 54.3,251.9 53.8,252.5" fill="#d84b24"/>
<polygon points="68.8,252.5 68.3,251.9 67.9,251.2 67.6,250.6 67.5,249.9 67.5,249.3 67.5,248.6 67.5,247.9 67.5,247.3 67.8,246.6 68.6,246 69.2,245.3 69.8,244.7 70.4,244 70.9,243.4 71.4,242.7 71.6,242.4 71.5,242.1 71,241.4 70.3,240.8 69.3,240.1 67.4,239.5 67.4,239.5 65.4,240.1 64.4,240.8 63.7,241.4 63.3,242.1 63.2,242.4 63.4,242.7 63.8,243.4 64.3,244 64.9,244.7 65.5,245.3 66.2,246 67,246.6 67.3,247.3 67.3,247.9 67.3,248.6 67.3,249.3 67.3,249.9 67.2,250.6 66.8,251.2 66.4,251.9 66,252.5" fill="#ce221e"/>
<polygon points="79.3,252.5 78.9,251.9 78.5,251.2 78.1,250.6 78,249.9 78,249.3 78,248.6 78,247.9 78,247.3 78.3,246.6 79.1,246 79.8,245.3 80.4,244.7 80.9,244 81.5,243.4 81.9,242.7 82.1,242.4 82,242.1 81.6,241.4 80.9,240.8 79.9,240.1 77.9,239.5 77.9,239.5 76,240.1 75,240.8 74.3,241.4 73.8,242.1 73.7,242.4 73.9,242.7 74.4,243.4 74.9,244 75.4,244.7 76.1,245.3 76.7,246 77.5,246.6 77.8,247.3 77.8,247.9 77.8,248.6 77.8,249.3 77.8,249.9 77.7,250.6 77.4,251.2 77,251.9 76.5,252.5" fill="#ce221e"/>
<polygon points="89.2,252.5 89.2,251.9 89.2,251.3 89.2,250.8 89.2,250.2 89.2,249.6 89.2,249 89.2,248.4 89.2,247.8 89.2,247.2 89.2,246.7 89.2,246.1 89.6,245.5 90.1,244.9 90.5,244.3 91,243.7 91.4,243.1 91.9,242.6 92.2,242.1 92.2,242 91.7,241.4 88.4,240.8 88.4,240.8 85.2,241.4 84.7,242 84.6,242.1 85,242.6 85.5,243.1 85.9,243.7 86.4,244.3 86.8,244.9 87.3,245.5 87.6,246.1 87.6,246.7 87.6,247.2 87.6,247.8 87.6,248.4 87.6,249 87.6,249.6 87.6,250.2 87.6,250.8 87.6,251.3 87.6,251.9 87.6,252.5" fill="#ae191a"/>
<polygon points="103.5,252.5 102.8,251.9 102.2,251.3 101.7,250.8 101.1,250.2 100.6,249.6 100.2,249 99.8,248.4 99.8,247.8 99.8,247.2 99.8,246.7 99.8,246.1 100.2,245.5 100.7,244.9 101.2,244.3 101.7,243.7 102.1,243.1 102.6,242.6 103,242.1 103,242 102.4,241.4 99,240.8 99,240.8 95.5,241.4 95,242 95,242.1 95.3,242.6 95.8,243.1 96.3,243.7 96.8,244.3 97.3,244.9 97.8,245.5 98.2,246.1 98.2,246.7 98.2,247.2 98.2,247.8 98.2,248.4 97.8,249 97.3,249.6 96.9,250.2 96.3,250.8 95.7,251.3 95.1,251.9 94.5,252.5" fill="#d84b24"/>
<text x="32.2" y="259.6" font-size="6.9" font-style="italic" stroke="#222" stroke-width="0.12" fill="#222">KLRB1 (CD161)</text>
<polygon points="37.1,275.7 36.7,275 36.3,274.4 35.9,273.7 35.9,273.1 35.9,272.4 35.9,271.8 35.9,271.1 35.9,270.5 36.2,269.8 36.9,269.2 37.6,268.5 38.2,267.9 38.8,267.2 39.3,266.6 39.8,265.9 40,265.6 39.8,265.3 39.4,264.6 38.7,264 37.7,263.3 35.8,262.7 35.8,262.7 33.8,263.3 32.8,264 32.1,264.6 31.7,265.3 31.6,265.6 31.7,265.9 32.2,266.6 32.7,267.2 33.3,267.9 33.9,268.5 34.6,269.2 35.3,269.8 35.6,270.5 35.6,271.1 35.6,271.8 35.6,272.4 35.6,273.1 35.6,273.7 35.2,274.4 34.8,275 34.4,275.7" fill="#ce221e"/>
<polygon points="47.7,275.7 47.2,275 46.8,274.4 46.5,273.7 46.4,273.1 46.4,272.4 46.4,271.8 46.4,271.1 46.4,270.5 46.7,269.8 47.5,269.2 48.1,268.5 48.8,267.9 49.3,267.2 49.8,266.6 50.3,265.9 50.5,265.6 50.4,265.3 49.9,264.6 49.2,264 48.2,263.3 46.3,262.7 46.3,262.7 44.3,263.3 43.3,264 42.6,264.6 42.2,265.3 42.1,265.6 42.3,265.9 42.7,266.6 43.3,267.2 43.8,267.9 44.4,268.5 45.1,269.2 45.9,269.8 46.2,270.5 46.2,271.1 46.2,271.8 46.2,272.4 46.2,273.1 46.1,273.7 45.7,274.4 45.3,275 44.9,275.7" fill="#ce221e"/>
<polygon points="58.2,275.7 57.8,275 57.4,274.4 57,273.7 56.9,273.1 56.9,272.4 56.9,271.8 56.9,271.1 56.9,270.5 57.2,269.8 58,269.2 58.7,268.5 59.3,267.9 59.9,267.2 60.4,266.6 60.8,265.9 61,265.6 60.9,265.3 60.5,264.6 59.8,264 58.8,263.3 56.8,262.7 56.8,262.7 54.9,263.3 53.9,264 53.2,264.6 52.7,265.3 52.6,265.6 52.8,265.9 53.3,266.6 53.8,267.2 54.4,267.9 55,268.5 55.6,269.2 56.4,269.8 56.7,270.5 56.7,271.1 56.7,271.8 56.7,272.4 56.7,273.1 56.6,273.7 56.3,274.4 55.9,275 55.4,275.7" fill="#cc1c1c"/>
<polygon points="68.8,275.7 68.3,275 67.9,274.4 67.6,273.7 67.5,273.1 67.5,272.4 67.5,271.8 67.5,271.1 67.5,270.5 67.8,269.8 68.6,269.2 69.2,268.5 69.8,267.9 70.4,267.2 70.9,266.6 71.4,265.9 71.6,265.6 71.5,265.3 71,264.6 70.3,264 69.3,263.3 67.4,262.7 67.4,262.7 65.4,263.3 64.4,264 63.7,264.6 63.3,265.3 63.2,265.6 63.4,265.9 63.8,266.6 64.3,267.2 64.9,267.9 65.5,268.5 66.2,269.2 67,269.8 67.3,270.5 67.3,271.1 67.3,271.8 67.3,272.4 67.3,273.1 67.2,273.7 66.8,274.4 66.4,275 66,275.7" fill="#ce221e"/>
<polygon points="79.3,275.7 78.9,275 78.5,274.4 78.1,273.7 78,273.1 78,272.4 78,271.8 78,271.1 78,270.5 78.3,269.8 79.1,269.2 79.8,268.5 80.4,267.9 80.9,267.2 81.5,266.6 81.9,265.9 82.1,265.6 82,265.3 81.6,264.6 80.9,264 79.9,263.3 77.9,262.7 77.9,262.7 76,263.3 75,264 74.3,264.6 73.8,265.3 73.7,265.6 73.9,265.9 74.4,266.6 74.9,267.2 75.4,267.9 76.1,268.5 76.7,269.2 77.5,269.8 77.8,270.5 77.8,271.1 77.8,271.8 77.8,272.4 77.8,273.1 77.7,273.7 77.4,274.4 77,275 76.5,275.7" fill="#ce221e"/>
<polygon points="89.8,275.7 89.4,275 89,274.4 88.6,273.7 88.5,273.1 88.5,272.4 88.5,271.8 88.5,271.1 88.5,270.5 88.8,269.8 89.6,269.2 90.2,268.5 90.8,267.9 91.3,267.2 91.8,266.6 92.3,265.9 92.4,265.6 92.4,265.3 91.9,264.6 91.3,264 90.3,263.3 88.4,262.7 88.4,262.7 86.6,263.3 85.6,264 85,264.6 84.5,265.3 84.4,265.6 84.6,265.9 85.1,266.6 85.6,267.2 86.1,267.9 86.7,268.5 87.3,269.2 88.1,269.8 88.3,270.5 88.3,271.1 88.3,271.8 88.3,272.4 88.3,273.1 88.3,273.7 87.9,274.4 87.5,275 87,275.7" fill="#ce221e"/>
<polygon points="103.5,275.7 102.8,275.1 102.2,274.5 101.7,273.9 101.1,273.4 100.6,272.8 100.2,272.2 99.8,271.6 99.8,271 99.8,270.4 99.8,269.8 99.8,269.3 100.2,268.7 100.7,268.1 101.2,267.5 101.7,266.9 102.1,266.3 102.6,265.8 103,265.3 103,265.2 102.4,264.6 99,264 99,264 95.5,264.6 95,265.2 95,265.3 95.3,265.8 95.8,266.3 96.3,266.9 96.8,267.5 97.3,268.1 97.8,268.7 98.2,269.3 98.2,269.8 98.2,270.4 98.2,271 98.2,271.6 97.8,272.2 97.3,272.8 96.9,273.4 96.3,273.9 95.7,274.5 95.1,275.1 94.5,275.7" fill="#d84b24"/>
<text x="32.2" y="282.8" font-size="6.9" font-style="italic" stroke="#222" stroke-width="0.12" fill="#222">LAIR1</text>
<polygon points="40.1,298.9 39.1,298.4 38.2,297.9 37.4,297.3 36.8,296.8 36.3,296.3 35.9,295.8 35.9,295.3 35.9,294.7 36.1,294.2 36.2,293.7 36.3,293.2 36.4,292.7 36.4,292.1 36.4,291.7 36.4,291.6 36.4,291.1 36.3,290.6 36.3,290.1 36.2,289.6 36,289 35.8,288.5 35.8,288.5 35.5,289 35.3,289.6 35.2,290.1 35.2,290.6 35.1,291.1 35.1,291.6 35.1,291.7 35.1,292.1 35.1,292.7 35.2,293.2 35.3,293.7 35.4,294.2 35.6,294.7 35.6,295.3 35.6,295.8 35.2,296.3 34.7,296.8 34.1,297.3 33.3,297.9 32.4,298.4 31.4,298.9" fill="#efc028"/>
<polygon points="50.7,298.9 49.6,298.4 48.7,297.9 48,297.3 47.3,296.8 46.8,296.3 46.5,295.8 46.4,295.3 46.4,294.7 46.6,294.2 46.7,293.7 46.8,293.2 46.8,292.7 46.9,292.1 46.9,291.7 46.9,291.6 46.9,291.1 46.8,290.6 46.8,290.1 46.7,289.6 46.6,289 46.3,288.5 46.3,288.5 46,289 45.9,289.6 45.8,290.1 45.8,290.6 45.7,291.1 45.7,291.6 45.7,291.7 45.7,292.1 45.7,292.7 45.8,293.2 45.9,293.7 46,294.2 46.2,294.7 46.2,295.3 46.1,295.8 45.8,296.3 45.3,296.8 44.6,297.3 43.8,297.9 42.9,298.4 41.9,298.9" fill="#efc028"/>
<polygon points="61.2,298.9 60.3,298.4 59.5,298 58.8,297.5 58.2,297.1 57.6,296.6 57.3,296.2 57,295.7 56.9,295.3 56.9,294.8 57.1,294.4 57.2,293.9 57.3,293.5 57.3,293 57.4,292.6 57.4,292.4 57.4,292.1 57.3,291.7 57.3,291.2 57.2,290.8 57.1,290.3 56.8,289.8 56.8,289.8 56.6,290.3 56.5,290.8 56.4,291.2 56.3,291.7 56.3,292.1 56.3,292.4 56.3,292.6 56.3,293 56.4,293.5 56.4,293.9 56.5,294.4 56.7,294.8 56.7,295.3 56.7,295.7 56.4,296.2 56,296.6 55.5,297.1 54.9,297.5 54.2,298 53.3,298.4 52.4,298.9" fill="#f0cc27"/>
<polygon points="71.8,298.9 70.9,298.5 70.2,298.1 69.5,297.6 68.9,297.2 68.4,296.8 68,296.4 67.6,296 67.5,295.5 67.5,295.1 67.5,294.7 67.7,294.3 67.7,293.9 67.8,293.4 67.8,293 67.9,292.7 67.8,292.6 67.8,292.2 67.8,291.8 67.7,291.3 67.6,290.9 67.4,290.5 67.4,290.5 67.1,290.9 67,291.3 67,291.8 66.9,292.2 66.9,292.6 66.9,292.7 66.9,293 66.9,293.4 67,293.9 67.1,294.3 67.2,294.7 67.3,295.1 67.3,295.5 67.1,296 66.8,296.4 66.4,296.8 65.9,297.2 65.3,297.6 64.6,298.1 63.8,298.5 63,298.9" fill="#f0cc27"/>
<polygon points="82.3,298.9 81.5,298.5 80.7,298.1 80,297.6 79.4,297.2 78.9,296.8 78.5,296.4 78.2,296 78,295.5 78,295.1 78.1,294.7 78.2,294.3 78.3,293.9 78.4,293.4 78.4,293 78.5,292.7 78.4,292.6 78.4,292.2 78.4,291.8 78.3,291.3 78.2,290.9 77.9,290.5 77.9,290.5 77.6,290.9 77.5,291.3 77.4,291.8 77.4,292.2 77.4,292.6 77.4,292.7 77.4,293 77.4,293.4 77.5,293.9 77.6,294.3 77.7,294.7 77.8,295.1 77.8,295.5 77.6,296 77.3,296.4 76.9,296.8 76.4,297.2 75.8,297.6 75.1,298.1 74.4,298.5 73.5,298.9" fill="#f0c928"/>
<polygon points="92.8,298.9 91.8,298.4 90.9,297.9 90.1,297.3 89.5,296.8 89,296.3 88.9,295.8 88.9,295.3 88.9,294.7 88.9,294.2 88.9,293.7 88.9,293.2 89.1,292.7 89.7,292.1 90.1,291.6 90.3,291.1 90.4,290.6 90.4,290.5 90.4,290.1 90.2,289.6 89.8,289 88.4,288.5 88.4,288.5 87.1,289 86.7,289.6 86.5,290.1 86.4,290.5 86.5,290.6 86.6,291.1 86.8,291.6 87.2,292.1 87.8,292.7 88,293.2 88,293.7 88,294.2 88,294.7 88,295.3 88,295.8 87.9,296.3 87.4,296.8 86.8,297.3 86,297.9 85.1,298.4 84,298.9" fill="#e48429"/>
<polygon points="102.6,298.9 101.8,298.4 101.2,298 100.6,297.5 100.1,297.1 99.7,296.6 99.3,296.2 99.1,295.7 99.1,295.3 99.1,294.8 99.1,294.4 99.2,293.9 99.2,293.5 99.2,293 99.2,292.6 99.2,292.4 99.2,292.1 99.2,291.7 99.2,291.2 99.2,290.8 99.1,290.3 99,289.8 99,289.8 98.9,290.3 98.8,290.8 98.8,291.2 98.8,291.7 98.8,292.1 98.8,292.4 98.8,292.6 98.8,293 98.8,293.5 98.8,293.9 98.9,294.4 98.9,294.8 98.9,295.3 98.9,295.7 98.6,296.2 98.3,296.6 97.9,297.1 97.4,297.5 96.8,298 96.1,298.4 95.4,298.9" fill="#f1e021" fill-opacity="0.55"/>
<text x="32.2" y="306" font-size="6.9" font-style="italic" stroke="#222" stroke-width="0.12" fill="#222">KLRC1 (NKG2A)</text>
<polygon points="40.1,322.1 39.1,321.6 38.3,321.1 37.5,320.6 36.9,320.1 36.3,319.6 36,319.1 36.2,318.6 36.4,318.1 36.6,317.6 36.8,317.1 37,316.6 37.2,316.1 37.1,315.6 36.9,315.1 36.7,314.6 36.5,314.1 36.3,313.6 36.1,313.1 35.9,312.6 35.8,312.1 35.8,312.1 35.6,312.6 35.4,313.1 35.2,313.6 35,314.1 34.8,314.6 34.6,315.1 34.4,315.6 34.2,316.1 34.5,316.6 34.7,317.1 34.9,317.6 35.1,318.1 35.3,318.6 35.5,319.1 35.2,319.6 34.6,320.1 34,320.6 33.2,321.1 32.4,321.6 31.4,322.1" fill="#e7902a"/>
<polygon points="50.7,322.1 49.7,321.6 48.8,321.1 48,320.6 47.4,320.1 46.9,319.6 46.6,319.1 46.8,318.6 47,318.1 47.2,317.6 47.4,317.1 47.6,316.6 47.8,316.1 47.6,315.6 47.4,315.1 47.2,314.6 47,314.1 46.9,313.6 46.7,313.1 46.5,312.6 46.3,312.1 46.3,312.1 46.1,312.6 45.9,313.1 45.7,313.6 45.5,314.1 45.4,314.6 45.2,315.1 45,315.6 44.8,316.1 45,316.6 45.2,317.1 45.4,317.6 45.6,318.1 45.8,318.6 46,319.1 45.7,319.6 45.2,320.1 44.5,320.6 43.8,321.1 42.9,321.6 41.9,322.1" fill="#e7902a"/>
<polygon points="61.2,322.1 60.3,321.6 59.5,321.1 58.7,320.7 58.1,320.2 57.6,319.8 57.2,319.3 57.4,318.8 57.6,318.4 57.7,317.9 57.9,317.4 58.1,317 58.1,316.8 58,316.5 57.9,316 57.7,315.6 57.6,315.1 57.4,314.6 57.3,314.2 57.1,313.7 57,313.2 56.8,312.8 56.8,312.8 56.7,313.2 56.5,313.7 56.4,314.2 56.2,314.6 56.1,315.1 55.9,315.6 55.8,316 55.6,316.5 55.5,316.8 55.6,317 55.8,317.4 55.9,317.9 56.1,318.4 56.2,318.8 56.4,319.3 56.1,319.8 55.6,320.2 54.9,320.7 54.2,321.1 53.4,321.6 52.4,322.1" fill="#e8962a"/>
<polygon points="71.8,322.1 70.8,321.6 69.9,321.1 69.1,320.6 68.5,320.1 68,319.6 67.7,319.1 67.9,318.6 68.1,318.1 68.3,317.6 68.5,317.1 68.8,316.6 69,316.1 68.8,315.6 68.6,315.1 68.4,314.6 68.2,314.1 68,313.6 67.8,313.1 67.6,312.6 67.4,312.1 67.4,312.1 67.2,312.6 67,313.1 66.8,313.6 66.6,314.1 66.4,314.6 66.2,315.1 66,315.6 65.8,316.1 66,316.6 66.2,317.1 66.4,317.6 66.6,318.1 66.8,318.6 67.1,319.1 66.8,319.6 66.3,320.1 65.6,320.6 64.9,321.1 64,321.6 63,322.1" fill="#e68a29"/>
<polygon points="81.9,322.1 81.4,321.5 80.9,321 80.4,320.4 79.9,319.9 79.5,319.4 79.1,318.8 78.8,318.3 79,317.7 79.6,317.2 80.1,316.6 80.5,316.1 81,315.5 81.4,315 81.7,314.4 81.9,314.1 81.9,313.9 81.6,313.4 81.1,312.8 80.4,312.3 79.6,311.7 77.9,311.2 77.9,311.2 76.3,311.7 75.4,312.3 74.7,312.8 74.3,313.4 74,313.9 73.9,314.1 74.1,314.4 74.5,315 74.9,315.5 75.3,316.1 75.8,316.6 76.3,317.2 76.8,317.7 77,318.3 76.7,318.8 76.3,319.4 75.9,319.9 75.4,320.4 75,321 74.4,321.5 73.9,322.1" fill="#d84b24"/>
<polygon points="92.4,322.1 91.9,321.5 91.3,320.9 90.8,320.3 90.4,319.8 89.9,319.2 89.5,318.6 89.2,318 89.1,317.5 89.7,316.9 90.2,316.3 90.7,315.7 91.1,315.1 91.6,314.6 92,314 92.2,313.4 92.2,313.4 92,312.8 91.6,312.2 90.9,311.7 90.1,311.1 88.4,310.5 88.4,310.5 86.8,311.1 86,311.7 85.3,312.2 84.9,312.8 84.7,313.4 84.6,313.4 84.9,314 85.3,314.6 85.8,315.1 86.2,315.7 86.7,316.3 87.2,316.9 87.8,317.5 87.7,318 87.4,318.6 87,319.2 86.5,319.8 86.1,320.3 85.6,320.9 85,321.5 84.4,322.1" fill="#d95024"/>
<polygon points="103.4,322.1 102.3,321.6 101.4,321 100.7,320.5 100,320 99.5,319.5 99.2,319 99.1,318.4 99.1,317.9 99.3,317.4 99.4,316.9 99.5,316.4 99.5,315.9 99.6,315.3 99.6,314.9 99.6,314.8 99.6,314.3 99.5,313.8 99.5,313.3 99.4,312.7 99.3,312.2 99,311.7 99,311.7 98.7,312.2 98.6,312.7 98.5,313.3 98.5,313.8 98.4,314.3 98.4,314.8 98.4,314.9 98.4,315.3 98.4,315.9 98.5,316.4 98.6,316.9 98.7,317.4 98.9,317.9 98.9,318.4 98.8,319 98.5,319.5 98,320 97.3,320.5 96.5,321 95.6,321.6 94.6,322.1" fill="#eeba28"/>
<text x="32.2" y="329.2" font-size="6.9" font-style="italic" stroke="#222" stroke-width="0.12" fill="#222">TNFSF10 (TRAIL)</text>
<polygon points="40.1,345.3 39.2,344.8 38.4,344.4 37.7,343.9 37.1,343.5 36.6,343 36.2,342.6 35.9,342.1 35.9,341.7 35.9,341.2 36,340.7 36.1,340.3 36.2,339.8 36.2,339.4 36.2,338.9 36.2,338.8 36.2,338.5 36.2,338 36.1,337.6 36.1,337.1 36,336.7 35.8,336.2 35.8,336.2 35.5,336.7 35.4,337.1 35.4,337.6 35.3,338 35.3,338.5 35.3,338.8 35.3,338.9 35.3,339.4 35.3,339.8 35.4,340.3 35.5,340.7 35.6,341.2 35.6,341.7 35.6,342.1 35.3,342.6 34.9,343 34.4,343.5 33.8,343.9 33.1,344.4 32.3,344.8 31.4,345.3" fill="#f0d524"/>
<polygon points="50.7,345.3 49.8,344.8 49,344.4 48.2,343.9 47.6,343.5 47.1,343 46.7,342.6 46.4,342.1 46.4,341.7 46.4,341.2 46.5,340.7 46.6,340.3 46.7,339.8 46.7,339.4 46.8,338.9 46.8,338.8 46.8,338.5 46.7,338 46.7,337.6 46.6,337.1 46.5,336.7 46.3,336.2 46.3,336.2 46.1,336.7 46,337.1 45.9,337.6 45.8,338 45.8,338.5 45.8,338.8 45.8,338.9 45.8,339.4 45.9,339.8 45.9,340.3 46,340.7 46.2,341.2 46.2,341.7 46.1,342.1 45.9,342.6 45.5,343 45,343.5 44.3,343.9 43.6,344.4 42.8,344.8 41.9,345.3" fill="#f0d225"/>
<polygon points="61.2,345.3 60.3,344.8 59.5,344.4 58.8,343.9 58.2,343.5 57.6,343 57.3,342.6 57,342.1 56.9,341.7 56.9,341.2 57.1,340.7 57.2,340.3 57.2,339.8 57.3,339.4 57.3,338.9 57.3,338.8 57.3,338.5 57.3,338 57.2,337.6 57.2,337.1 57.1,336.7 56.8,336.2 56.8,336.2 56.6,336.7 56.5,337.1 56.4,337.6 56.4,338 56.4,338.5 56.4,338.8 56.4,338.9 56.4,339.4 56.4,339.8 56.5,340.3 56.6,340.7 56.7,341.2 56.7,341.7 56.7,342.1 56.4,342.6 56,343 55.5,343.5 54.9,343.9 54.2,344.4 53.3,344.8 52.4,345.3" fill="#f0d524"/>
<polygon points="71.8,345.3 70.9,344.8 70,344.4 69.3,343.9 68.7,343.5 68.2,343 67.8,342.6 67.5,342.1 67.5,341.7 67.5,341.2 67.6,340.7 67.7,340.3 67.8,339.8 67.8,339.4 67.8,338.9 67.9,338.8 67.8,338.5 67.8,338 67.8,337.6 67.7,337.1 67.6,336.7 67.4,336.2 67.4,336.2 67.1,336.7 67,337.1 67,337.6 66.9,338 66.9,338.5 66.9,338.8 66.9,338.9 66.9,339.4 67,339.8 67,340.3 67.1,340.7 67.3,341.2 67.3,341.7 67.2,342.1 66.9,342.6 66.6,343 66,343.5 65.4,343.9 64.7,344.4 63.9,344.8 63,345.3" fill="#f0d524"/>
<polygon points="82.3,345.3 81.3,344.8 80.5,344.3 79.7,343.8 79.1,343.3 78.6,342.8 78.2,342.4 78,341.9 78,341.4 78.2,340.9 78.4,340.4 78.5,339.9 78.6,339.4 78.6,339 78.6,338.5 78.6,338.4 78.6,338 78.6,337.5 78.5,337 78.4,336.5 78.2,336 77.9,335.6 77.9,335.6 77.6,336 77.4,336.5 77.3,337 77.3,337.5 77.2,338 77.2,338.4 77.2,338.5 77.2,339 77.3,339.4 77.3,339.9 77.5,340.4 77.6,340.9 77.8,341.4 77.8,341.9 77.6,342.4 77.3,342.8 76.7,343.3 76.1,343.8 75.4,344.3 74.5,344.8 73.5,345.3" fill="#efc028"/>
<polygon points="92,345.3 91.4,344.9 90.7,344.4 90.2,344 89.7,343.6 89.3,343.2 88.9,342.8 88.7,342.3 88.5,341.9 88.5,341.5 88.5,341.1 88.6,340.7 88.6,340.2 88.7,339.8 88.7,339.4 88.7,339.1 88.7,339 88.7,338.6 88.7,338.1 88.6,337.7 88.6,337.3 88.4,336.9 88.4,336.9 88.3,337.3 88.3,337.7 88.2,338.1 88.2,338.6 88.2,339 88.2,339.1 88.2,339.4 88.2,339.8 88.3,340.2 88.3,340.7 88.3,341.1 88.3,341.5 88.3,341.9 88.2,342.3 88,342.8 87.6,343.2 87.2,343.6 86.7,344 86.2,344.4 85.5,344.9 84.8,345.3" fill="#f1e021" fill-opacity="0.42"/>
<polygon points="102.6,345.3 101.9,344.9 101.3,344.4 100.7,344 100.2,343.6 99.8,343.2 99.5,342.8 99.2,342.3 99.1,341.9 99.1,341.5 99.1,341.1 99.1,340.7 99.2,340.2 99.2,339.8 99.2,339.4 99.2,339.1 99.2,339 99.2,338.6 99.2,338.1 99.2,337.7 99.1,337.3 99,336.9 99,336.9 98.9,337.3 98.8,337.7 98.8,338.1 98.8,338.6 98.8,339 98.8,339.1 98.8,339.4 98.8,339.8 98.8,340.2 98.8,340.7 98.9,341.1 98.9,341.5 98.9,341.9 98.8,342.3 98.5,342.8 98.2,343.2 97.8,343.6 97.3,344 96.7,344.4 96.1,344.9 95.4,345.3" fill="#f1e021" fill-opacity="0.42"/>
<text x="32.2" y="352.4" font-size="6.9" font-style="italic" stroke="#222" stroke-width="0.12" fill="#222">FASLG (CD95L)</text>
<polygon points="40.1,368.5 39.2,368 38.4,367.6 37.7,367.1 37.1,366.7 36.6,366.2 36.2,365.7 35.9,365.3 35.9,364.8 35.9,364.4 36.1,363.9 36.2,363.5 36.3,363 36.3,362.6 36.3,362.1 36.4,361.9 36.3,361.7 36.3,361.2 36.2,360.8 36.2,360.3 36,359.9 35.8,359.4 35.8,359.4 35.5,359.9 35.3,360.3 35.3,360.8 35.2,361.2 35.2,361.7 35.1,361.9 35.2,362.1 35.2,362.6 35.2,363 35.3,363.5 35.4,363.9 35.6,364.4 35.6,364.8 35.6,365.3 35.3,365.7 34.9,366.2 34.4,366.7 33.8,367.1 33.1,367.6 32.3,368 31.4,368.5" fill="#f0cf26"/>
<polygon points="50.7,368.5 49.8,368 49,367.6 48.2,367.1 47.6,366.7 47.1,366.2 46.7,365.7 46.4,365.3 46.4,364.8 46.4,364.4 46.6,363.9 46.7,363.5 46.8,363 46.9,362.6 46.9,362.1 46.9,361.9 46.9,361.7 46.8,361.2 46.8,360.8 46.7,360.3 46.6,359.9 46.3,359.4 46.3,359.4 46,359.9 45.9,360.3 45.8,360.8 45.7,361.2 45.7,361.7 45.7,361.9 45.7,362.1 45.7,362.6 45.8,363 45.9,363.5 46,363.9 46.2,364.4 46.2,364.8 46.1,365.3 45.9,365.7 45.5,366.2 45,366.7 44.3,367.1 43.6,367.6 42.8,368 41.9,368.5" fill="#f0cc27"/>
<polygon points="61.2,368.5 60.4,368 59.6,367.6 58.9,367.2 58.3,366.8 57.8,366.4 57.4,365.9 57.1,365.5 56.9,365.1 56.9,364.7 57,364.3 57.1,363.9 57.2,363.4 57.3,363 57.3,362.6 57.3,362.3 57.3,362.2 57.3,361.8 57.2,361.3 57.2,360.9 57.1,360.5 56.8,360.1 56.8,360.1 56.6,360.5 56.5,360.9 56.4,361.3 56.4,361.8 56.4,362.2 56.4,362.3 56.4,362.6 56.4,363 56.5,363.4 56.5,363.9 56.7,364.3 56.7,364.7 56.7,365.1 56.6,365.5 56.2,365.9 55.8,366.4 55.3,366.8 54.7,367.2 54,367.6 53.3,368 52.4,368.5" fill="#f1d724"/>
<polygon points="71.8,368.5 70.9,368 70,367.6 69.3,367.1 68.7,366.7 68.2,366.2 67.8,365.7 67.5,365.3 67.5,364.8 67.5,364.4 67.7,363.9 67.8,363.5 67.9,363 67.9,362.6 68,362.1 68,361.9 68,361.7 67.9,361.2 67.9,360.8 67.8,360.3 67.7,359.9 67.4,359.4 67.4,359.4 67.1,359.9 67,360.3 66.9,360.8 66.8,361.2 66.8,361.7 66.8,361.9 66.8,362.1 66.8,362.6 66.9,363 66.9,363.5 67.1,363.9 67.3,364.4 67.3,364.8 67.2,365.3 66.9,365.7 66.6,366.2 66,366.7 65.4,367.1 64.7,367.6 63.9,368 63,368.5" fill="#f0cc27"/>
<polygon points="82.3,368.5 81.5,368 80.7,367.6 80,367.2 79.4,366.8 78.9,366.4 78.5,365.9 78.2,365.5 78,365.1 78,364.7 78.1,364.3 78.2,363.9 78.3,363.4 78.3,363 78.4,362.6 78.4,362.3 78.4,362.2 78.4,361.8 78.3,361.3 78.3,360.9 78.1,360.5 77.9,360.1 77.9,360.1 77.7,360.5 77.6,360.9 77.5,361.3 77.5,361.8 77.4,362.2 77.4,362.3 77.4,362.6 77.5,363 77.5,363.4 77.6,363.9 77.8,364.3 77.8,364.7 77.8,365.1 77.6,365.5 77.3,365.9 76.9,366.4 76.4,366.8 75.8,367.2 75.1,367.6 74.4,368 73.5,368.5" fill="#f0d524"/>
<polygon points="92.8,368.5 91.9,368 91,367.5 90.3,367 89.6,366.5 89.1,366 88.7,365.5 88.5,365.1 88.5,364.6 88.8,364.1 88.9,363.6 89.1,363.1 89.1,362.6 89.2,362.1 89.2,361.7 89.2,361.6 89.2,361.2 89.2,360.7 89.1,360.2 89,359.7 88.8,359.2 88.4,358.8 88.4,358.8 88.1,359.2 87.9,359.7 87.8,360.2 87.7,360.7 87.7,361.2 87.7,361.6 87.7,361.7 87.7,362.1 87.8,362.6 87.8,363.1 88,363.6 88.1,364.1 88.3,364.6 88.3,365.1 88.2,365.5 87.8,366 87.3,366.5 86.6,367 85.9,367.5 85,368 84,368.5" fill="#efc028"/>
<polygon points="102.6,368.5 101.9,368.1 101.4,367.7 100.8,367.3 100.4,366.9 100,366.5 99.6,366.1 99.3,365.8 99.1,365.4 99.1,365 99.1,364.6 99.1,364.2 99.2,363.8 99.2,363.4 99.2,363.1 99.2,362.7 99.2,362.6 99.2,362.3 99.2,361.9 99.2,361.5 99.1,361.1 99,360.7 99,360.7 98.9,361.1 98.8,361.5 98.8,361.9 98.8,362.3 98.8,362.6 98.8,362.7 98.8,363.1 98.8,363.4 98.8,363.8 98.9,364.2 98.9,364.6 98.9,365 98.8,365.4 98.6,365.8 98.4,366.1 98,366.5 97.6,366.9 97.1,367.3 96.6,367.7 96,368.1 95.4,368.5" fill="#f1e021" fill-opacity="0.42"/>
<text x="38" y="372.3" font-size="7" text-anchor="end" textLength="23.5" lengthAdjust="spacingAndGlyphs" stroke="#1a1a1a" stroke-width="0.2" transform="rotate(-90 38 372.3)" fill="#1a1a1a">Cluster0</text>
<text x="48.6" y="372.3" font-size="7" text-anchor="end" textLength="23.5" lengthAdjust="spacingAndGlyphs" stroke="#1a1a1a" stroke-width="0.2" transform="rotate(-90 48.6 372.3)" fill="#1a1a1a">Cluster1</text>
<text x="59.1" y="372.3" font-size="7" text-anchor="end" textLength="23.5" lengthAdjust="spacingAndGlyphs" stroke="#1a1a1a" stroke-width="0.2" transform="rotate(-90 59.1 372.3)" fill="#1a1a1a">Cluster2</text>
<text x="69.7" y="372.3" font-size="7" text-anchor="end" textLength="23.5" lengthAdjust="spacingAndGlyphs" stroke="#1a1a1a" stroke-width="0.2" transform="rotate(-90 69.7 372.3)" fill="#1a1a1a">Cluster3</text>
<text x="80.2" y="372.3" font-size="7" text-anchor="end" textLength="23.5" lengthAdjust="spacingAndGlyphs" stroke="#1a1a1a" stroke-width="0.2" transform="rotate(-90 80.2 372.3)" fill="#1a1a1a">Cluster4</text>
<text x="90.7" y="372.3" font-size="7" text-anchor="end" textLength="23.5" lengthAdjust="spacingAndGlyphs" stroke="#1a1a1a" stroke-width="0.2" transform="rotate(-90 90.7 372.3)" fill="#1a1a1a">Cluster6</text>
<text x="101.3" y="372.3" font-size="7" text-anchor="end" textLength="23.5" lengthAdjust="spacingAndGlyphs" stroke="#1a1a1a" stroke-width="0.2" transform="rotate(-90 101.3 372.3)" fill="#1a1a1a">Cluster8</text>
<line x1="117.5" y1="20.8" x2="117.5" y2="206.3" stroke="#222" stroke-width="1"/>
<line x1="117.5" y1="207.7" x2="117.5" y2="367.7" stroke="#222" stroke-width="1"/>
<text x="112.7" y="113.6" font-size="6.5" text-anchor="middle" stroke="#2a2a2a" stroke-width="0.2" transform="rotate(-90 112.7 113.6)" fill="#2a2a2a">Activating Receptors</text>
<text x="112.5" y="287.7" font-size="6.5" text-anchor="middle" stroke="#2a2a2a" stroke-width="0.2" transform="rotate(-90 112.5 287.7)" fill="#2a2a2a">Cytokines and Chemokines</text>
<text x="120.4" y="27.7" font-size="6.9" font-style="italic" stroke="#222" stroke-width="0.12" fill="#222">FCGR3A (CD16)</text>
<polygon points="128.4,43.8 127.2,43.2 126.3,42.6 125.4,42.1 124.8,41.5 124.3,40.9 124.1,40.3 124.1,39.8 124.6,39.2 125,38.6 125.5,38 125.9,37.4 126.3,36.9 126.8,36.3 126.8,36.2 126.4,35.7 126,35.1 125.6,34.5 125.2,34 124.8,33.4 124.4,32.8 124,32.2 124,32.2 123.6,32.8 123.2,33.4 122.8,34 122.4,34.5 122,35.1 121.6,35.7 121.2,36.2 121.2,36.3 121.7,36.9 122.1,37.4 122.5,38 123,38.6 123.4,39.2 123.9,39.8 123.9,40.3 123.7,40.9 123.2,41.5 122.6,42.1 121.7,42.6 120.8,43.2 119.6,43.8" fill="#df6d26"/>
<polygon points="138.9,43.8 137.8,43.3 136.9,42.7 136.1,42.2 135.4,41.6 134.9,41.1 134.6,40.5 134.8,40 135.1,39.4 135.3,38.9 135.6,38.3 135.9,37.8 136.1,37.3 136.3,36.9 136.2,36.7 136,36.2 135.7,35.6 135.5,35.1 135.2,34.5 135,34 134.7,33.4 134.5,32.9 134.5,32.9 134.3,33.4 134,34 133.8,34.5 133.5,35.1 133.3,35.6 133,36.2 132.8,36.7 132.7,36.9 132.9,37.3 133.1,37.8 133.4,38.3 133.7,38.9 133.9,39.4 134.2,40 134.4,40.5 134.1,41.1 133.6,41.6 132.9,42.2 132.1,42.7 131.2,43.3 130.1,43.8" fill="#e7902a"/>
<polygon points="149.4,43.8 148.2,43.2 147.2,42.6 146.3,42 145.7,41.4 145.2,40.8 145.1,40.2 145.1,39.6 145.4,39 145.9,38.4 146.4,37.8 146.9,37.2 147.4,36.6 147.9,36 148.1,35.8 147.8,35.4 147.3,34.8 146.9,34.2 146.4,33.6 145.9,33 145.5,32.4 145,31.8 145,31.8 144.5,32.4 144.1,33 143.6,33.6 143.1,34.2 142.7,34.8 142.2,35.4 141.9,35.8 142.1,36 142.6,36.6 143.1,37.2 143.6,37.8 144.1,38.4 144.6,39 144.9,39.6 144.9,40.2 144.8,40.8 144.3,41.4 143.7,42 142.8,42.6 141.8,43.2 140.6,43.8" fill="#db5c25"/>
<polygon points="159.9,43.8 159,43.3 158.2,42.9 157.4,42.4 156.8,42 156.3,41.5 155.9,41.1 155.6,40.6 155.6,40.2 155.6,39.7 155.8,39.3 155.9,38.8 156,38.4 156.1,37.9 156.1,37.5 156.1,37.3 156.1,37 156.1,36.6 156,36.1 155.9,35.7 155.8,35.2 155.5,34.8 155.5,34.8 155.2,35.2 155.1,35.7 155,36.1 154.9,36.6 154.9,37 154.9,37.3 154.9,37.5 154.9,37.9 155,38.4 155.1,38.8 155.2,39.3 155.4,39.7 155.4,40.2 155.4,40.6 155.1,41.1 154.7,41.5 154.2,42 153.6,42.4 152.8,42.9 152,43.3 151.1,43.8" fill="#f0c528"/>
<polygon points="170,43.8 169.2,43.4 168.5,43 167.9,42.5 167.4,42.1 166.9,41.7 166.5,41.3 166.2,40.9 166.1,40.4 166.1,40 166.1,39.6 166.2,39.2 166.3,38.8 166.3,38.4 166.4,37.9 166.4,37.6 166.4,37.5 166.3,37.1 166.3,36.7 166.3,36.3 166.2,35.8 166,35.4 166,35.4 165.8,35.8 165.7,36.3 165.7,36.7 165.7,37.1 165.6,37.5 165.6,37.6 165.6,37.9 165.7,38.4 165.7,38.8 165.8,39.2 165.9,39.6 165.9,40 165.9,40.4 165.8,40.9 165.5,41.3 165.1,41.7 164.6,42.1 164.1,42.5 163.5,43 162.8,43.4 162,43.8" fill="#f0cf26"/>
<polygon points="180.9,43.8 179.9,43.3 178.9,42.8 178.2,42.2 177.5,41.7 177,41.2 176.9,40.7 176.9,40.2 176.9,39.7 176.9,39.1 176.9,38.6 176.9,38.1 177.1,37.6 177.7,37.1 178.1,36.5 178.4,36 178.5,35.5 178.5,35.4 178.5,35 178.3,34.5 177.8,33.9 176.5,33.4 176.5,33.4 175.2,33.9 174.7,34.5 174.5,35 174.5,35.4 174.5,35.5 174.6,36 174.9,36.5 175.3,37.1 175.9,37.6 176.1,38.1 176.1,38.6 176.1,39.1 176.1,39.7 176.1,40.2 176.1,40.7 176,41.2 175.5,41.7 174.8,42.2 174.1,42.8 173.1,43.3 172.1,43.8" fill="#e48429"/>
<polygon points="191.4,43.8 190.4,43.3 189.4,42.8 188.7,42.2 188,41.7 187.5,41.2 187.2,40.7 187.1,40.2 187.1,39.7 187.3,39.1 187.4,38.6 187.4,38.1 187.5,37.6 187.5,37.1 187.5,36.6 187.5,36.5 187.5,36 187.5,35.5 187.4,35 187.4,34.5 187.2,33.9 187,33.4 187,33.4 186.8,33.9 186.6,34.5 186.6,35 186.5,35.5 186.5,36 186.5,36.5 186.5,36.6 186.5,37.1 186.5,37.6 186.6,38.1 186.6,38.6 186.7,39.1 186.9,39.7 186.9,40.2 186.8,40.7 186.5,41.2 186,41.7 185.3,42.2 184.6,42.8 183.6,43.3 182.6,43.8" fill="#eeba28"/>
<text x="120.4" y="50.9" font-size="6.9" font-style="italic" stroke="#222" stroke-width="0.12" fill="#222">NCR1 (NKp46)</text>
<polygon points="128.4,67 127.5,66.5 126.7,66.1 125.9,65.6 125.3,65.2 124.8,64.7 124.4,64.3 124.1,63.8 124.1,63.4 124.1,62.9 124.3,62.5 124.4,62 124.5,61.6 124.5,61.1 124.5,60.7 124.5,60.5 124.5,60.2 124.5,59.8 124.4,59.3 124.4,58.9 124.3,58.4 124,57.9 124,57.9 123.7,58.4 123.6,58.9 123.6,59.3 123.5,59.8 123.5,60.2 123.5,60.5 123.5,60.7 123.5,61.1 123.5,61.6 123.6,62 123.7,62.5 123.9,62.9 123.9,63.4 123.9,63.8 123.6,64.3 123.2,64.7 122.7,65.2 122.1,65.6 121.3,66.1 120.5,66.5 119.6,67" fill="#f0c928"/>
<polygon points="138.9,67 138,66.5 137.2,66.1 136.4,65.6 135.8,65.2 135.3,64.7 134.9,64.3 134.6,63.8 134.6,63.4 134.6,62.9 134.8,62.5 134.9,62 135,61.6 135,61.1 135,60.7 135,60.5 135,60.2 135,59.8 134.9,59.3 134.9,58.9 134.8,58.4 134.5,57.9 134.5,57.9 134.2,58.4 134.1,58.9 134.1,59.3 134,59.8 134,60.2 134,60.5 134,60.7 134,61.1 134,61.6 134.1,62 134.2,62.5 134.4,62.9 134.4,63.4 134.4,63.8 134.1,64.3 133.7,64.7 133.2,65.2 132.6,65.6 131.8,66.1 131,66.5 130.1,67" fill="#f0c928"/>
<polygon points="149.4,67 148.4,66.5 147.6,66 146.8,65.5 146.2,65 145.7,64.6 145.3,64.1 145.1,63.6 145.1,63.1 145.2,62.6 145.4,62.1 145.5,61.7 145.5,61.2 145.6,60.7 145.6,60.2 145.6,60.1 145.6,59.7 145.5,59.2 145.5,58.7 145.4,58.3 145.3,57.8 145,57.3 145,57.3 144.7,57.8 144.6,58.3 144.5,58.7 144.5,59.2 144.4,59.7 144.4,60.1 144.4,60.2 144.4,60.7 144.5,61.2 144.5,61.7 144.6,62.1 144.8,62.6 144.9,63.1 144.9,63.6 144.7,64.1 144.3,64.6 143.8,65 143.2,65.5 142.4,66 141.6,66.5 140.6,67" fill="#f0c928"/>
<polygon points="159.7,67 158.8,66.5 158,66.1 157.4,65.6 156.8,65.2 156.3,64.7 155.9,64.3 155.6,63.8 155.6,63.4 155.6,62.9 155.7,62.5 155.7,62 155.8,61.6 155.8,61.1 155.8,60.7 155.8,60.5 155.8,60.2 155.8,59.8 155.7,59.3 155.7,58.9 155.6,58.4 155.5,57.9 155.5,57.9 155.4,58.4 155.3,58.9 155.3,59.3 155.2,59.8 155.2,60.2 155.2,60.5 155.2,60.7 155.2,61.1 155.2,61.6 155.3,62 155.3,62.5 155.4,62.9 155.4,63.4 155.4,63.8 155.1,64.3 154.7,64.7 154.2,65.2 153.6,65.6 153,66.1 152.2,66.5 151.3,67" fill="#f0d225"/>
<polygon points="170,67 169.2,66.6 168.5,66.2 167.9,65.7 167.4,65.3 166.9,64.9 166.5,64.5 166.2,64.1 166.1,63.6 166.1,63.2 166.1,62.8 166.2,62.4 166.2,62 166.3,61.5 166.3,61.1 166.3,60.8 166.3,60.7 166.3,60.3 166.3,59.9 166.2,59.4 166.1,59 166,58.6 166,58.6 165.9,59 165.8,59.4 165.7,59.9 165.7,60.3 165.7,60.7 165.7,60.8 165.7,61.1 165.7,61.5 165.8,62 165.8,62.4 165.9,62.8 165.9,63.2 165.9,63.6 165.8,64.1 165.5,64.5 165.1,64.9 164.6,65.3 164.1,65.7 163.5,66.2 162.8,66.6 162,67" fill="#f0d524"/>
<polygon points="180.9,67 179.9,66.5 179.1,66 178.3,65.5 177.7,65 177.2,64.6 176.8,64.1 176.6,63.6 176.6,63.1 176.7,62.6 176.8,62.1 176.9,61.7 177,61.2 177,60.7 177,60.2 177,60.1 177,59.7 177,59.2 176.9,58.7 176.9,58.3 176.8,57.8 176.5,57.3 176.5,57.3 176.2,57.8 176.1,58.3 176.1,58.7 176,59.2 176,59.7 176,60.1 176,60.2 176,60.7 176,61.2 176.1,61.7 176.2,62.1 176.3,62.6 176.4,63.1 176.4,63.6 176.2,64.1 175.8,64.6 175.3,65 174.7,65.5 173.9,66 173.1,66.5 172.1,67" fill="#efc028"/>
<polygon points="190.8,67 190.1,66.6 189.4,66.2 188.8,65.7 188.3,65.3 187.9,64.9 187.5,64.5 187.2,64.1 187.1,63.6 187.1,63.2 187.1,62.8 187.1,62.4 187.2,62 187.2,61.5 187.2,61.1 187.2,60.8 187.2,60.7 187.2,60.3 187.2,59.9 187.2,59.4 187.1,59 187,58.6 187,58.6 186.9,59 186.8,59.4 186.8,59.9 186.8,60.3 186.8,60.7 186.8,60.8 186.8,61.1 186.8,61.5 186.8,62 186.9,62.4 186.9,62.8 186.9,63.2 186.9,63.6 186.8,64.1 186.5,64.5 186.1,64.9 185.7,65.3 185.2,65.7 184.6,66.2 183.9,66.6 183.2,67" fill="#f1dd22"/>
<text x="120.4" y="74.1" font-size="6.9" font-style="italic" stroke="#222" stroke-width="0.12" fill="#222">NCR3 (NKp30)</text>
<polygon points="128.4,90.2 127.5,89.7 126.7,89.3 125.9,88.8 125.3,88.4 124.8,87.9 124.4,87.5 124.1,87 124.1,86.6 124.1,86.1 124.3,85.7 124.3,85.2 124.4,84.8 124.5,84.3 124.5,83.8 124.5,83.7 124.5,83.4 124.4,82.9 124.4,82.5 124.3,82 124.2,81.6 124,81.1 124,81.1 123.8,81.6 123.7,82 123.6,82.5 123.6,82.9 123.5,83.4 123.5,83.7 123.5,83.8 123.5,84.3 123.6,84.8 123.7,85.2 123.7,85.7 123.9,86.1 123.9,86.6 123.9,87 123.6,87.5 123.2,87.9 122.7,88.4 122.1,88.8 121.3,89.3 120.5,89.7 119.6,90.2" fill="#f0cc27"/>
<polygon points="138.9,90.2 138,89.7 137.2,89.3 136.4,88.8 135.8,88.4 135.3,87.9 134.9,87.5 134.6,87 134.6,86.6 134.6,86.1 134.8,85.7 134.8,85.2 134.9,84.8 135,84.3 135,83.8 135,83.7 135,83.4 134.9,82.9 134.9,82.5 134.8,82 134.7,81.6 134.5,81.1 134.5,81.1 134.3,81.6 134.2,82 134.1,82.5 134.1,82.9 134,83.4 134,83.7 134,83.8 134,84.3 134.1,84.8 134.2,85.2 134.2,85.7 134.4,86.1 134.4,86.6 134.4,87 134.1,87.5 133.7,87.9 133.2,88.4 132.6,88.8 131.8,89.3 131,89.7 130.1,90.2" fill="#f0cc27"/>
<polygon points="149.4,90.2 148.4,89.7 147.4,89.1 146.7,88.6 146,88.1 145.5,87.6 145.3,87.1 145.6,86.5 145.9,86 146.2,85.5 146.5,85 146.8,84.5 147.1,84 147.2,83.8 147,83.4 146.7,82.9 146.4,82.4 146.1,81.9 145.9,81.4 145.6,80.8 145.3,80.3 145,79.8 145,79.8 144.7,80.3 144.4,80.8 144.1,81.4 143.9,81.9 143.6,82.4 143.3,82.9 143,83.4 142.8,83.8 142.9,84 143.2,84.5 143.5,85 143.8,85.5 144.1,86 144.4,86.5 144.7,87.1 144.5,87.6 144,88.1 143.3,88.6 142.6,89.1 141.6,89.7 140.6,90.2" fill="#e27928"/>
<polygon points="159.7,90.2 158.9,89.8 158.2,89.3 157.5,88.9 156.9,88.5 156.4,88.1 156.1,87.7 155.8,87.2 155.6,86.8 155.6,86.4 155.6,86 155.7,85.6 155.7,85.2 155.8,84.7 155.8,84.3 155.8,84 155.8,83.9 155.8,83.5 155.8,83.1 155.7,82.6 155.6,82.2 155.5,81.8 155.5,81.8 155.4,82.2 155.3,82.6 155.2,83.1 155.2,83.5 155.2,83.9 155.2,84 155.2,84.3 155.2,84.7 155.3,85.2 155.3,85.6 155.4,86 155.4,86.4 155.4,86.8 155.2,87.2 154.9,87.7 154.6,88.1 154.1,88.5 153.5,88.9 152.8,89.3 152.1,89.8 151.3,90.2" fill="#f0d524"/>
<polygon points="170.2,90.2 169.4,89.8 168.7,89.3 168,88.9 167.4,88.5 166.9,88.1 166.6,87.7 166.3,87.2 166.1,86.8 166.1,86.4 166.1,86 166.2,85.6 166.2,85.2 166.3,84.7 166.3,84.3 166.3,84 166.3,83.9 166.3,83.5 166.3,83.1 166.2,82.6 166.1,82.2 166,81.8 166,81.8 165.9,82.2 165.8,82.6 165.7,83.1 165.7,83.5 165.7,83.9 165.7,84 165.7,84.3 165.7,84.7 165.8,85.2 165.8,85.6 165.9,86 165.9,86.4 165.9,86.8 165.7,87.2 165.4,87.7 165.1,88.1 164.6,88.5 164,88.9 163.3,89.3 162.6,89.8 161.8,90.2" fill="#f0d524"/>
<polygon points="180.9,90.2 180,89.7 179.2,89.3 178.4,88.8 177.8,88.4 177.3,87.9 176.9,87.5 176.6,87 176.6,86.6 176.6,86.1 176.7,85.7 176.8,85.2 176.9,84.8 176.9,84.3 176.9,83.8 176.9,83.7 176.9,83.4 176.9,82.9 176.8,82.5 176.8,82 176.7,81.6 176.5,81.1 176.5,81.1 176.3,81.6 176.2,82 176.2,82.5 176.1,82.9 176.1,83.4 176.1,83.7 176.1,83.8 176.1,84.3 176.1,84.8 176.2,85.2 176.3,85.7 176.4,86.1 176.4,86.6 176.4,87 176.1,87.5 175.7,87.9 175.2,88.4 174.6,88.8 173.8,89.3 173,89.7 172.1,90.2" fill="#f0cf26"/>
<polygon points="191.4,90.2 190.5,89.7 189.7,89.3 188.9,88.8 188.3,88.4 187.8,87.9 187.4,87.5 187.1,87 187.1,86.6 187.1,86.1 187.2,85.7 187.3,85.2 187.4,84.8 187.4,84.3 187.4,83.8 187.4,83.7 187.4,83.4 187.4,82.9 187.3,82.5 187.3,82 187.2,81.6 187,81.1 187,81.1 186.8,81.6 186.7,82 186.7,82.5 186.6,82.9 186.6,83.4 186.6,83.7 186.6,83.8 186.6,84.3 186.6,84.8 186.7,85.2 186.8,85.7 186.9,86.1 186.9,86.6 186.9,87 186.6,87.5 186.2,87.9 185.7,88.4 185.1,88.8 184.3,89.3 183.5,89.7 182.6,90.2" fill="#f0cf26"/>
<text x="120.4" y="97.3" font-size="6.9" font-style="italic" stroke="#222" stroke-width="0.12" fill="#222">KLRK1 (NKG2D)</text>
<polygon points="128.5,113.4 127.9,112.9 127.3,112.4 126.7,111.9 126.3,111.4 125.8,110.9 125.4,110.5 125.1,110 124.8,109.5 124.5,109 124.3,108.5 124.3,108 124.4,107.5 124.4,107.1 124.4,106.9 124.4,106.6 124.3,106.1 124.3,105.6 124.3,105.1 124.3,104.6 124.2,104.1 124,103.7 124,103.7 123.8,104.1 123.7,104.6 123.7,105.1 123.7,105.6 123.7,106.1 123.6,106.6 123.6,106.9 123.6,107.1 123.6,107.5 123.7,108 123.7,108.5 123.5,109 123.2,109.5 122.9,110 122.6,110.5 122.2,110.9 121.7,111.4 121.3,111.9 120.7,112.4 120.1,112.9 119.5,113.4" fill="#f0cf26"/>
<polygon points="139,113.4 138.4,112.9 137.8,112.4 137.2,111.9 136.8,111.4 136.3,110.9 135.9,110.5 135.6,110 135.3,109.5 135,109 134.8,108.5 134.8,108 134.9,107.5 134.9,107.1 134.9,106.9 134.9,106.6 134.8,106.1 134.8,105.6 134.8,105.1 134.8,104.6 134.7,104.1 134.5,103.7 134.5,103.7 134.3,104.1 134.2,104.6 134.2,105.1 134.2,105.6 134.2,106.1 134.1,106.6 134.1,106.9 134.1,107.1 134.1,107.5 134.2,108 134.2,108.5 134,109 133.7,109.5 133.4,110 133.1,110.5 132.7,110.9 132.2,111.4 131.8,111.9 131.2,112.4 130.6,112.9 130,113.4" fill="#f0cf26"/>
<polygon points="149.8,113.4 149.1,112.9 148.5,112.4 147.9,111.9 147.4,111.4 146.9,110.9 146.5,110.5 146.1,110 145.8,109.5 145.6,109 145.3,108.5 145.3,108 145.4,107.5 145.4,107.1 145.4,106.9 145.4,106.6 145.3,106.1 145.3,105.6 145.3,105.1 145.3,104.6 145.2,104.1 145,103.7 145,103.7 144.8,104.1 144.7,104.6 144.7,105.1 144.7,105.6 144.7,106.1 144.6,106.6 144.6,106.9 144.6,107.1 144.6,107.5 144.7,108 144.7,108.5 144.4,109 144.2,109.5 143.9,110 143.5,110.5 143.1,110.9 142.6,111.4 142.1,111.9 141.5,112.4 140.9,112.9 140.2,113.4" fill="#f0cc27"/>
<polygon points="159.7,113.4 158.9,113 158.2,112.5 157.5,112.1 156.9,111.7 156.4,111.3 156.1,110.9 155.8,110.4 155.6,110 155.6,109.6 155.6,109.2 155.6,108.8 155.7,108.3 155.7,107.9 155.7,107.5 155.7,107.2 155.7,107.1 155.7,106.7 155.7,106.2 155.7,105.8 155.6,105.4 155.5,105 155.5,105 155.4,105.4 155.3,105.8 155.3,106.2 155.3,106.7 155.3,107.1 155.3,107.2 155.3,107.5 155.3,107.9 155.3,108.3 155.4,108.8 155.4,109.2 155.4,109.6 155.4,110 155.2,110.4 154.9,110.9 154.6,111.3 154.1,111.7 153.5,112.1 152.8,112.5 152.1,113 151.3,113.4" fill="#f0d524"/>
<polygon points="170.4,113.4 169.5,112.9 168.7,112.5 167.9,112 167.3,111.6 166.8,111.1 166.4,110.7 166.1,110.2 166.1,109.8 166.1,109.3 166.3,108.8 166.3,108.4 166.4,107.9 166.5,107.5 166.5,107 166.5,106.9 166.5,106.6 166.4,106.1 166.4,105.7 166.3,105.2 166.2,104.8 166,104.3 166,104.3 165.8,104.8 165.7,105.2 165.6,105.7 165.6,106.1 165.5,106.6 165.5,106.9 165.5,107 165.5,107.5 165.6,107.9 165.7,108.4 165.7,108.8 165.9,109.3 165.9,109.8 165.9,110.2 165.6,110.7 165.2,111.1 164.7,111.6 164.1,112 163.3,112.5 162.5,112.9 161.6,113.4" fill="#f0cc27"/>
<polygon points="180.9,113.4 180,112.9 179.2,112.5 178.4,112 177.8,111.6 177.3,111.1 176.9,110.7 176.6,110.2 176.6,109.8 176.6,109.3 176.7,108.8 176.8,108.4 176.8,107.9 176.8,107.5 176.9,107 176.9,106.9 176.9,106.6 176.8,106.1 176.8,105.7 176.7,105.2 176.7,104.8 176.5,104.3 176.5,104.3 176.3,104.8 176.3,105.2 176.2,105.7 176.2,106.1 176.1,106.6 176.1,106.9 176.1,107 176.2,107.5 176.2,107.9 176.2,108.4 176.3,108.8 176.4,109.3 176.4,109.8 176.4,110.2 176.1,110.7 175.7,111.1 175.2,111.6 174.6,112 173.8,112.5 173,112.9 172.1,113.4" fill="#f0cf26"/>
<polygon points="190.8,113.4 190.1,113 189.4,112.5 188.8,112.1 188.3,111.7 187.9,111.3 187.5,110.9 187.2,110.4 187.1,110 187.1,109.6 187.1,109.2 187.1,108.8 187.2,108.3 187.2,107.9 187.2,107.5 187.2,107.2 187.2,107.1 187.2,106.7 187.2,106.2 187.2,105.8 187.1,105.4 187,105 187,105 186.9,105.4 186.8,105.8 186.8,106.2 186.8,106.7 186.8,107.1 186.8,107.2 186.8,107.5 186.8,107.9 186.8,108.3 186.9,108.8 186.9,109.2 186.9,109.6 186.9,110 186.8,110.4 186.5,110.9 186.1,111.3 185.7,111.7 185.2,112.1 184.6,112.5 183.9,113 183.2,113.4" fill="#f1da23"/>
<text x="120.4" y="120.5" font-size="6.9" font-style="italic" stroke="#222" stroke-width="0.12" fill="#222">KLRC2 (NKG2C)</text>
<polygon points="128.5,136.6 127.9,136.1 127.4,135.7 126.9,135.2 126.4,134.8 126,134.3 125.6,133.8 125.2,133.4 124.9,132.9 124.7,132.5 124.5,132 124.3,131.6 124.3,131.1 124.4,130.7 124.4,130.4 124.4,130.2 124.4,129.8 124.3,129.3 124.3,128.9 124.3,128.4 124.2,128 124,127.5 124,127.5 123.8,128 123.7,128.4 123.7,128.9 123.7,129.3 123.6,129.8 123.6,130.2 123.6,130.4 123.6,130.7 123.7,131.1 123.7,131.6 123.5,132 123.3,132.5 123.1,132.9 122.8,133.4 122.4,133.8 122,134.3 121.6,134.8 121.1,135.2 120.6,135.7 120.1,136.1 119.5,136.6" fill="#f0cf26"/>
<polygon points="139,136.6 138.4,136.1 137.9,135.7 137.4,135.2 136.9,134.8 136.5,134.3 136.1,133.8 135.7,133.4 135.4,132.9 135.2,132.5 135,132 134.8,131.6 134.8,131.1 134.9,130.7 134.9,130.4 134.9,130.2 134.9,129.8 134.8,129.3 134.8,128.9 134.8,128.4 134.7,128 134.5,127.5 134.5,127.5 134.3,128 134.2,128.4 134.2,128.9 134.2,129.3 134.1,129.8 134.1,130.2 134.1,130.4 134.1,130.7 134.2,131.1 134.2,131.6 134,132 133.8,132.5 133.6,132.9 133.3,133.4 132.9,133.8 132.5,134.3 132.1,134.8 131.6,135.2 131.1,135.7 130.6,136.1 130,136.6" fill="#f0cf26"/>
<polygon points="149.8,136.6 149.2,136.1 148.6,135.7 148,135.2 147.5,134.8 147.1,134.3 146.7,133.8 146.3,133.4 146,132.9 145.7,132.5 145.5,132 145.3,131.6 145.3,131.1 145.4,130.7 145.4,130.4 145.4,130.2 145.4,129.8 145.3,129.3 145.3,128.9 145.3,128.4 145.2,128 145,127.5 145,127.5 144.8,128 144.7,128.4 144.7,128.9 144.7,129.3 144.6,129.8 144.6,130.2 144.6,130.4 144.6,130.7 144.7,131.1 144.7,131.6 144.5,132 144.3,132.5 144,132.9 143.7,133.4 143.3,133.8 142.9,134.3 142.5,134.8 142,135.2 141.4,135.7 140.8,136.1 140.2,136.6" fill="#f0cc27"/>
<polygon points="159.5,136.6 158.8,136.2 158.1,135.8 157.5,135.4 157,135 156.6,134.6 156.2,134.2 155.9,133.9 155.7,133.5 155.6,133.1 155.6,132.7 155.6,132.3 155.7,131.9 155.7,131.5 155.7,131.2 155.7,130.8 155.7,130.7 155.7,130.4 155.7,130 155.7,129.6 155.6,129.2 155.5,128.8 155.5,128.8 155.4,129.2 155.3,129.6 155.3,130 155.3,130.4 155.3,130.7 155.3,130.8 155.3,131.2 155.3,131.5 155.3,131.9 155.4,132.3 155.4,132.7 155.4,133.1 155.3,133.5 155.1,133.9 154.8,134.2 154.4,134.6 154,135 153.5,135.4 152.9,135.8 152.2,136.2 151.5,136.6" fill="#f1d724"/>
<polygon points="170.4,136.6 169.5,136.1 168.7,135.7 167.9,135.2 167.3,134.8 166.8,134.3 166.4,133.8 166.1,133.4 166.1,132.9 166.1,132.5 166.3,132 166.3,131.6 166.4,131.1 166.5,130.7 166.5,130.2 166.5,130 166.5,129.8 166.4,129.3 166.4,128.9 166.3,128.4 166.2,128 166,127.5 166,127.5 165.8,128 165.7,128.4 165.6,128.9 165.6,129.3 165.5,129.8 165.5,130 165.5,130.2 165.5,130.7 165.6,131.1 165.7,131.6 165.7,132 165.9,132.5 165.9,132.9 165.9,133.4 165.6,133.8 165.2,134.3 164.7,134.8 164.1,135.2 163.3,135.7 162.5,136.1 161.6,136.6" fill="#f0cc27"/>
<polygon points="180.9,136.6 180,136.1 179.2,135.7 178.4,135.2 177.8,134.8 177.3,134.3 176.9,133.8 176.6,133.4 176.6,132.9 176.6,132.5 176.7,132 176.8,131.6 176.8,131.1 176.8,130.7 176.9,130.2 176.9,130 176.9,129.8 176.8,129.3 176.8,128.9 176.7,128.4 176.7,128 176.5,127.5 176.5,127.5 176.3,128 176.3,128.4 176.2,128.9 176.2,129.3 176.1,129.8 176.1,130 176.1,130.2 176.2,130.7 176.2,131.1 176.2,131.6 176.3,132 176.4,132.5 176.4,132.9 176.4,133.4 176.1,133.8 175.7,134.3 175.2,134.8 174.6,135.2 173.8,135.7 173,136.1 172.1,136.6" fill="#f0d225"/>
<polygon points="190.8,136.6 190.1,136.1 189.4,135.7 188.8,135.3 188.3,134.9 187.9,134.5 187.5,134 187.2,133.6 187.1,133.2 187.1,132.8 187.1,132.4 187.1,132 187.2,131.5 187.2,131.1 187.2,130.7 187.2,130.4 187.2,130.3 187.2,129.9 187.2,129.4 187.2,129 187.1,128.6 187,128.2 187,128.2 186.9,128.6 186.8,129 186.8,129.4 186.8,129.9 186.8,130.3 186.8,130.4 186.8,130.7 186.8,131.1 186.8,131.5 186.9,132 186.9,132.4 186.9,132.8 186.9,133.2 186.8,133.6 186.5,134 186.1,134.5 185.7,134.9 185.2,135.3 184.6,135.7 183.9,136.1 183.2,136.6" fill="#f1da23"/>
<text x="120.4" y="143.7" font-size="6.9" font-style="italic" stroke="#222" stroke-width="0.12" fill="#222">KLRF1 (NKp80)</text>
<polygon points="128.3,159.8 127.6,159.2 127,158.6 126.4,158 125.9,157.4 125.4,156.8 125,156.2 124.6,155.7 124.3,155.1 124.7,154.5 125.3,153.9 125.9,153.3 126.5,152.7 127.1,152.1 127.6,151.6 127.8,151.4 127.7,151 127.3,150.4 126.9,149.8 126.2,149.2 125.4,148.6 124,148 124,148 122.6,148.6 121.8,149.2 121.1,149.8 120.7,150.4 120.3,151 120.2,151.4 120.4,151.6 120.9,152.1 121.5,152.7 122.1,153.3 122.7,153.9 123.3,154.5 123.7,155.1 123.4,155.7 123,156.2 122.6,156.8 122.1,157.4 121.6,158 121,158.6 120.4,159.2 119.7,159.8" fill="#d95024"/>
<polygon points="138.8,159.8 138.1,159.2 137.5,158.6 136.9,158 136.4,157.4 135.9,156.8 135.5,156.2 135.1,155.7 134.8,155.1 135.2,154.5 135.7,153.9 136.3,153.3 136.8,152.7 137.4,152.1 137.9,151.6 138,151.4 137.9,151 137.6,150.4 137.1,149.8 136.6,149.2 135.8,148.6 134.5,148 134.5,148 133.2,148.6 132.4,149.2 131.9,149.8 131.4,150.4 131.1,151 131,151.4 131.1,151.6 131.6,152.1 132.2,152.7 132.7,153.3 133.3,153.9 133.8,154.5 134.2,155.1 133.9,155.7 133.5,156.2 133.1,156.8 132.6,157.4 132.1,158 131.5,158.6 130.9,159.2 130.2,159.8" fill="#db5c25"/>
<polygon points="149.3,159.8 148.6,159.1 148,158.5 147.4,157.9 146.8,157.3 146.3,156.7 145.9,156.1 145.5,155.5 145.2,154.9 145.4,154.2 146.1,153.6 146.8,153 147.4,152.4 148.1,151.8 148.7,151.2 149,150.8 148.9,150.6 148.6,150 148.1,149.3 147.4,148.7 146.6,148.1 145,147.5 145,147.5 143.4,148.1 142.6,148.7 141.9,149.3 141.4,150 141.1,150.6 141,150.8 141.3,151.2 141.9,151.8 142.6,152.4 143.2,153 143.9,153.6 144.6,154.2 144.8,154.9 144.5,155.5 144.1,156.1 143.7,156.7 143.2,157.3 142.6,157.9 142,158.5 141.4,159.1 140.7,159.8" fill="#d95024"/>
<polygon points="159.8,159.8 159.1,159.2 158.5,158.6 157.9,158 157.4,157.4 156.9,156.8 156.5,156.2 156.1,155.7 155.8,155.1 156.2,154.5 156.7,153.9 157.3,153.3 157.8,152.7 158.4,152.1 158.9,151.6 159,151.4 158.9,151 158.6,150.4 158.1,149.8 157.6,149.2 156.8,148.6 155.5,148 155.5,148 154.2,148.6 153.4,149.2 152.9,149.8 152.4,150.4 152.1,151 152,151.4 152.1,151.6 152.6,152.1 153.2,152.7 153.7,153.3 154.3,153.9 154.8,154.5 155.2,155.1 154.9,155.7 154.5,156.2 154.1,156.8 153.6,157.4 153.1,158 152.5,158.6 151.9,159.2 151.2,159.8" fill="#d95024"/>
<polygon points="170.4,159.8 169.3,159.2 168.4,158.7 167.6,158.1 166.9,157.6 166.4,157 166.1,156.5 166.5,155.9 166.9,155.4 167.3,154.8 167.7,154.3 168.1,153.8 168.5,153.2 168.8,152.8 168.7,152.7 168.3,152.1 167.9,151.6 167.5,151 167.1,150.5 166.8,149.9 166.4,149.4 166,148.8 166,148.8 165.6,149.4 165.2,149.9 164.9,150.5 164.5,151 164.1,151.6 163.7,152.1 163.3,152.7 163.2,152.8 163.5,153.2 163.9,153.8 164.3,154.3 164.7,154.8 165.1,155.4 165.5,155.9 165.9,156.5 165.6,157 165.1,157.6 164.4,158.1 163.6,158.7 162.7,159.2 161.6,159.8" fill="#e07327"/>
<polygon points="180.8,159.8 180.1,159.2 179.5,158.6 178.9,158 178.4,157.4 177.9,156.8 177.4,156.2 177,155.6 176.7,155 177,154.4 177.7,153.8 178.3,153.2 178.9,152.6 179.5,152 180.1,151.4 180.3,151.1 180.2,150.8 179.9,150.2 179.4,149.6 178.8,149 178,148.4 176.5,147.8 176.5,147.8 175,148.4 174.2,149 173.6,149.6 173.1,150.2 172.8,150.8 172.7,151.1 172.9,151.4 173.5,152 174.1,152.6 174.7,153.2 175.3,153.8 176,154.4 176.3,155 176,155.6 175.6,156.2 175.1,156.8 174.6,157.4 174.1,158 173.5,158.6 172.9,159.2 172.2,159.8" fill="#d95024"/>
<polygon points="191.4,159.8 190.1,159.1 189,158.5 188.2,157.8 187.5,157.2 187.1,156.5 187.1,155.9 187.1,155.2 187.1,154.6 187.2,153.9 187.4,153.3 187.7,152.7 187.9,152 188.1,151.4 188.3,150.8 188.3,150.7 188.1,150.1 187.8,149.4 187.6,148.8 187.4,148.1 187.2,147.5 187,146.8 187,146.8 186.8,147.5 186.6,148.1 186.4,148.8 186.2,149.4 185.9,150.1 185.7,150.7 185.7,150.8 185.9,151.4 186.1,152 186.3,152.7 186.6,153.3 186.8,153.9 186.9,154.6 186.9,155.2 186.9,155.9 186.9,156.5 186.5,157.2 185.8,157.8 185,158.5 183.9,159.1 182.6,159.8" fill="#e7902a"/>
<text x="120.4" y="166.8" font-size="6.9" font-style="italic" stroke="#222" stroke-width="0.12" fill="#222">CD226 (DNAM-1)</text>
<polygon points="128.4,182.9 127.4,182.5 126.6,182 125.8,181.5 125.2,181 124.7,180.5 124.3,180 124.1,179.5 124.1,179.1 124.2,178.6 124.4,178.1 124.5,177.6 124.5,177.1 124.6,176.6 124.6,176.1 124.6,176.1 124.6,175.7 124.5,175.2 124.5,174.7 124.4,174.2 124.3,173.7 124,173.2 124,173.2 123.7,173.7 123.6,174.2 123.5,174.7 123.5,175.2 123.4,175.7 123.4,176.1 123.4,176.1 123.4,176.6 123.5,177.1 123.5,177.6 123.6,178.1 123.8,178.6 123.9,179.1 123.9,179.5 123.7,180 123.3,180.5 122.8,181 122.2,181.5 121.4,182 120.6,182.5 119.6,182.9" fill="#efc028"/>
<polygon points="138.9,182.9 138,182.5 137.2,182 136.4,181.6 135.8,181.1 135.3,180.7 134.9,180.2 134.6,179.8 134.6,179.3 134.6,178.9 134.8,178.4 134.8,178 134.9,177.5 135,177.1 135,176.6 135,176.4 135,176.2 134.9,175.7 134.9,175.3 134.8,174.8 134.7,174.3 134.5,173.9 134.5,173.9 134.3,174.3 134.2,174.8 134.1,175.3 134.1,175.7 134,176.2 134,176.4 134,176.6 134,177.1 134.1,177.5 134.2,178 134.2,178.4 134.4,178.9 134.4,179.3 134.4,179.8 134.1,180.2 133.7,180.7 133.2,181.1 132.6,181.6 131.8,182 131,182.5 130.1,182.9" fill="#f0cc27"/>
<polygon points="149.4,182.9 148.5,182.5 147.7,182 146.9,181.6 146.3,181.1 145.8,180.7 145.4,180.2 145.1,179.8 145.1,179.3 145.1,178.9 145.3,178.4 145.3,178 145.4,177.5 145.5,177.1 145.5,176.6 145.5,176.4 145.5,176.2 145.4,175.7 145.4,175.3 145.3,174.8 145.2,174.3 145,173.9 145,173.9 144.8,174.3 144.7,174.8 144.6,175.3 144.6,175.7 144.5,176.2 144.5,176.4 144.5,176.6 144.5,177.1 144.6,177.5 144.7,178 144.7,178.4 144.9,178.9 144.9,179.3 144.9,179.8 144.6,180.2 144.2,180.7 143.7,181.1 143.1,181.6 142.3,182 141.5,182.5 140.6,182.9" fill="#f0c928"/>
<polygon points="159.9,182.9 159,182.5 158.2,182 157.4,181.6 156.8,181.1 156.3,180.7 155.9,180.2 155.6,179.8 155.6,179.3 155.6,178.9 155.8,178.4 155.8,178 155.9,177.5 156,177.1 156,176.6 156,176.4 156,176.2 155.9,175.7 155.9,175.3 155.8,174.8 155.7,174.3 155.5,173.9 155.5,173.9 155.3,174.3 155.2,174.8 155.1,175.3 155.1,175.7 155,176.2 155,176.4 155,176.6 155,177.1 155.1,177.5 155.2,178 155.2,178.4 155.4,178.9 155.4,179.3 155.4,179.8 155.1,180.2 154.7,180.7 154.2,181.1 153.6,181.6 152.8,182 152,182.5 151.1,182.9" fill="#f0cc27"/>
<polygon points="170.4,182.9 169.5,182.5 168.7,182 167.9,181.6 167.3,181.1 166.8,180.7 166.4,180.2 166.1,179.8 166.1,179.3 166.1,178.9 166.3,178.4 166.3,178 166.4,177.5 166.5,177.1 166.5,176.6 166.5,176.4 166.5,176.2 166.4,175.7 166.4,175.3 166.3,174.8 166.2,174.3 166,173.9 166,173.9 165.8,174.3 165.7,174.8 165.6,175.3 165.6,175.7 165.5,176.2 165.5,176.4 165.5,176.6 165.5,177.1 165.6,177.5 165.7,178 165.7,178.4 165.9,178.9 165.9,179.3 165.9,179.8 165.6,180.2 165.2,180.7 164.7,181.1 164.1,181.6 163.3,182 162.5,182.5 161.6,182.9" fill="#f0c928"/>
<polygon points="180.8,182.9 180.3,182.4 179.8,181.9 179.3,181.4 178.8,180.9 178.4,180.4 178,179.9 177.7,179.4 177.3,178.9 177.3,178.5 177.3,178 177.4,177.5 177.6,177 177.9,176.5 178.1,176 178.4,175.5 178.7,175 178.9,174.5 179,174.3 178.9,174 178.5,173.5 176.5,173 176.5,173 174.5,173.5 174.1,174 174,174.3 174.1,174.5 174.3,175 174.6,175.5 174.9,176 175.1,176.5 175.4,177 175.6,177.5 175.7,178 175.7,178.5 175.7,178.9 175.3,179.4 175,179.9 174.6,180.4 174.2,180.9 173.7,181.4 173.2,181.9 172.7,182.4 172.2,182.9" fill="#e07327"/>
<polygon points="191.4,182.9 190.5,182.5 189.7,182 188.9,181.6 188.3,181.1 187.8,180.7 187.4,180.2 187.1,179.8 187.1,179.3 187.1,178.9 187.2,178.4 187.3,178 187.4,177.5 187.4,177.1 187.4,176.6 187.4,176.4 187.4,176.2 187.4,175.7 187.3,175.3 187.3,174.8 187.2,174.3 187,173.9 187,173.9 186.8,174.3 186.7,174.8 186.7,175.3 186.6,175.7 186.6,176.2 186.6,176.4 186.6,176.6 186.6,177.1 186.6,177.5 186.7,178 186.8,178.4 186.9,178.9 186.9,179.3 186.9,179.8 186.6,180.2 186.2,180.7 185.7,181.1 185.1,181.6 184.3,182 183.5,182.5 182.6,182.9" fill="#f0cc27"/>
<text x="120.4" y="190" font-size="6.9" font-style="italic" stroke="#222" stroke-width="0.12" fill="#222">CD244 (2B4)</text>
<polygon points="128.4,206.1 127.5,205.7 126.6,205.2 125.9,204.7 125.3,204.3 124.8,203.8 124.4,203.3 124.5,202.9 124.7,202.4 124.8,201.9 125,201.5 125.1,201 125.2,200.8 125.1,200.5 125,200.1 124.8,199.6 124.7,199.1 124.6,198.7 124.4,198.2 124.3,197.8 124.1,197.3 124,196.8 124,196.8 123.9,197.3 123.7,197.8 123.6,198.2 123.4,198.7 123.3,199.1 123.2,199.6 123,200.1 122.9,200.5 122.8,200.8 122.9,201 123,201.5 123.2,201.9 123.3,202.4 123.5,202.9 123.6,203.3 123.2,203.8 122.7,204.3 122.1,204.7 121.4,205.2 120.5,205.7 119.6,206.1" fill="#eaa129"/>
<polygon points="138.9,206.1 137.9,205.6 137.1,205.2 136.3,204.7 135.7,204.2 135.2,203.7 134.8,203.2 134.6,202.7 134.6,202.2 134.7,201.8 134.9,201.3 135,200.8 135,200.3 135.1,199.8 135.1,199.3 135.1,199.3 135.1,198.8 135,198.4 135,197.9 134.9,197.4 134.8,196.9 134.5,196.4 134.5,196.4 134.2,196.9 134.1,197.4 134,197.9 134,198.4 133.9,198.8 133.9,199.3 133.9,199.3 133.9,199.8 134,200.3 134,200.8 134.1,201.3 134.3,201.8 134.4,202.2 134.4,202.7 134.2,203.2 133.8,203.7 133.3,204.2 132.7,204.7 131.9,205.2 131.1,205.6 130.1,206.1" fill="#efc028"/>
<polygon points="149.4,206.1 148.5,205.7 147.7,205.2 146.9,204.8 146.3,204.3 145.8,203.9 145.4,203.4 145.1,203 145.1,202.5 145.1,202.1 145.3,201.6 145.3,201.2 145.4,200.7 145.5,200.3 145.5,199.8 145.5,199.6 145.5,199.3 145.4,198.9 145.4,198.4 145.3,198 145.2,197.5 145,197.1 145,197.1 144.8,197.5 144.7,198 144.6,198.4 144.6,198.9 144.5,199.3 144.5,199.6 144.5,199.8 144.5,200.3 144.6,200.7 144.7,201.2 144.7,201.6 144.9,202.1 144.9,202.5 144.9,203 144.6,203.4 144.2,203.9 143.7,204.3 143.1,204.8 142.3,205.2 141.5,205.7 140.6,206.1" fill="#f0c928"/>
<polygon points="159.9,206.1 159,205.7 158.2,205.2 157.4,204.8 156.8,204.3 156.3,203.9 155.9,203.4 155.6,203 155.6,202.5 155.6,202.1 155.8,201.6 155.8,201.2 155.9,200.7 156,200.3 156,199.8 156,199.6 156,199.3 155.9,198.9 155.9,198.4 155.8,198 155.7,197.5 155.5,197.1 155.5,197.1 155.3,197.5 155.2,198 155.1,198.4 155.1,198.9 155,199.3 155,199.6 155,199.8 155,200.3 155.1,200.7 155.2,201.2 155.2,201.6 155.4,202.1 155.4,202.5 155.4,203 155.1,203.4 154.7,203.9 154.2,204.3 153.6,204.8 152.8,205.2 152,205.7 151.1,206.1" fill="#f0c928"/>
<polygon points="170.4,206.1 169.4,205.6 168.6,205.2 167.8,204.7 167.2,204.2 166.7,203.7 166.3,203.2 166.1,202.7 166.1,202.2 166.2,201.8 166.4,201.3 166.5,200.8 166.5,200.3 166.6,199.8 166.6,199.3 166.6,199.3 166.6,198.8 166.5,198.4 166.5,197.9 166.4,197.4 166.3,196.9 166,196.4 166,196.4 165.7,196.9 165.6,197.4 165.5,197.9 165.5,198.4 165.4,198.8 165.4,199.3 165.4,199.3 165.4,199.8 165.5,200.3 165.5,200.8 165.6,201.3 165.8,201.8 165.9,202.2 165.9,202.7 165.7,203.2 165.3,203.7 164.8,204.2 164.2,204.7 163.4,205.2 162.6,205.6 161.6,206.1" fill="#efc028"/>
<polygon points="180.9,206.1 179.9,205.6 179.1,205.2 178.3,204.7 177.7,204.2 177.2,203.7 176.8,203.2 176.6,202.7 176.6,202.2 176.7,201.8 176.9,201.3 177,200.8 177,200.3 177.1,199.8 177.1,199.3 177.1,199.3 177.1,198.8 177,198.4 177,197.9 176.9,197.4 176.8,196.9 176.5,196.4 176.5,196.4 176.2,196.9 176.1,197.4 176,197.9 176,198.4 175.9,198.8 175.9,199.3 175.9,199.3 175.9,199.8 176,200.3 176,200.8 176.1,201.3 176.3,201.8 176.4,202.2 176.4,202.7 176.2,203.2 175.8,203.7 175.3,204.2 174.7,204.7 173.9,205.2 173.1,205.6 172.1,206.1" fill="#eeba28"/>
<polygon points="190.6,206.1 189.9,205.7 189.3,205.3 188.7,204.9 188.2,204.5 187.8,204 187.5,203.6 187.2,203.2 187.1,202.8 187.1,202.4 187.1,201.9 187.1,201.5 187.2,201.1 187.2,200.7 187.2,200.3 187.2,199.9 187.2,199.8 187.2,199.4 187.2,199 187.2,198.6 187.1,198.2 187,197.8 187,197.8 186.9,198.2 186.8,198.6 186.8,199 186.8,199.4 186.8,199.8 186.8,199.9 186.8,200.3 186.8,200.7 186.8,201.1 186.9,201.5 186.9,201.9 186.9,202.4 186.9,202.8 186.8,203.2 186.5,203.6 186.2,204 185.8,204.5 185.3,204.9 184.7,205.3 184.1,205.7 183.4,206.1" fill="#f1e021" fill-opacity="0.5"/>
<text x="120.4" y="213.2" font-size="6.9" font-style="italic" stroke="#222" stroke-width="0.12" fill="#222">IFNG</text>
<polygon points="128.4,229.3 127.4,228.8 126.6,228.3 125.8,227.9 125.2,227.4 124.7,226.9 124.3,226.4 124.1,225.9 124.1,225.4 124.2,225 124.4,224.5 124.5,224 124.5,223.5 124.6,223 124.6,222.5 124.6,222.5 124.6,222 124.5,221.6 124.5,221.1 124.4,220.6 124.3,220.1 124,219.6 124,219.6 123.7,220.1 123.6,220.6 123.5,221.1 123.5,221.6 123.4,222 123.4,222.5 123.4,222.5 123.4,223 123.5,223.5 123.5,224 123.6,224.5 123.8,225 123.9,225.4 123.9,225.9 123.7,226.4 123.3,226.9 122.8,227.4 122.2,227.9 121.4,228.3 120.6,228.8 119.6,229.3" fill="#eeba28"/>
<polygon points="138.9,229.3 137.9,228.8 137.1,228.3 136.3,227.9 135.7,227.4 135.2,226.9 134.8,226.4 134.6,225.9 134.6,225.4 134.7,225 134.9,224.5 135,224 135,223.5 135.1,223 135.1,222.5 135.1,222.5 135.1,222 135,221.6 135,221.1 134.9,220.6 134.8,220.1 134.5,219.6 134.5,219.6 134.2,220.1 134.1,220.6 134,221.1 134,221.6 133.9,222 133.9,222.5 133.9,222.5 133.9,223 134,223.5 134,224 134.1,224.5 134.3,225 134.4,225.4 134.4,225.9 134.2,226.4 133.8,226.9 133.3,227.4 132.7,227.9 131.9,228.3 131.1,228.8 130.1,229.3" fill="#eeba28"/>
<polygon points="149.4,229.3 148.5,228.9 147.6,228.4 146.9,227.9 146.3,227.5 145.8,227 145.4,226.5 145.6,226.1 145.7,225.6 145.9,225.1 146.1,224.7 146.2,224.2 146.3,224 146.2,223.7 146.1,223.3 145.9,222.8 145.8,222.3 145.6,221.9 145.5,221.4 145.3,220.9 145.2,220.5 145,220 145,220 144.8,220.5 144.7,220.9 144.5,221.4 144.4,221.9 144.2,222.3 144.1,222.8 143.9,223.3 143.8,223.7 143.7,224 143.8,224.2 143.9,224.7 144.1,225.1 144.3,225.6 144.4,226.1 144.6,226.5 144.2,227 143.7,227.5 143.1,227.9 142.4,228.4 141.5,228.9 140.6,229.3" fill="#e99b2a"/>
<polygon points="159.9,229.3 159,228.9 158.2,228.4 157.4,228 156.8,227.5 156.3,227.1 155.9,226.6 155.6,226.2 155.6,225.7 155.6,225.3 155.8,224.8 155.8,224.3 155.9,223.9 156,223.4 156,223 156,222.8 156,222.5 155.9,222.1 155.9,221.6 155.8,221.2 155.7,220.7 155.5,220.3 155.5,220.3 155.3,220.7 155.2,221.2 155.1,221.6 155.1,222.1 155,222.5 155,222.8 155,223 155,223.4 155.1,223.9 155.2,224.3 155.2,224.8 155.4,225.3 155.4,225.7 155.4,226.2 155.1,226.6 154.7,227.1 154.2,227.5 153.6,228 152.8,228.4 152,228.9 151.1,229.3" fill="#f0c928"/>
<polygon points="170.4,229.3 169.5,228.9 168.7,228.4 167.9,228 167.3,227.5 166.8,227.1 166.4,226.6 166.1,226.2 166.1,225.7 166.1,225.3 166.3,224.8 166.3,224.3 166.4,223.9 166.5,223.4 166.5,223 166.5,222.8 166.5,222.5 166.4,222.1 166.4,221.6 166.3,221.2 166.2,220.7 166,220.3 166,220.3 165.8,220.7 165.7,221.2 165.6,221.6 165.6,222.1 165.5,222.5 165.5,222.8 165.5,223 165.5,223.4 165.6,223.9 165.7,224.3 165.7,224.8 165.9,225.3 165.9,225.7 165.9,226.2 165.6,226.6 165.2,227.1 164.7,227.5 164.1,228 163.3,228.4 162.5,228.9 161.6,229.3" fill="#f0c928"/>
<polygon points="180.9,229.3 179.8,228.8 178.8,228.2 178,227.7 177.4,227.1 176.9,226.6 176.6,226 176.6,225.5 176.8,224.9 177,224.4 177.1,223.8 177.1,223.2 177.2,222.7 177.2,222.1 177.2,221.8 177.2,221.6 177.2,221 177.2,220.5 177.1,219.9 177,219.4 176.8,218.8 176.5,218.3 176.5,218.3 176.2,218.8 176,219.4 175.9,219.9 175.8,220.5 175.8,221 175.8,221.6 175.8,221.8 175.8,222.1 175.8,222.7 175.9,223.2 175.9,223.8 176,224.4 176.2,224.9 176.4,225.5 176.4,226 176.1,226.6 175.6,227.1 175,227.7 174.2,228.2 173.2,228.8 172.1,229.3" fill="#e99b2a"/>
<polygon points="191.4,229.3 190.4,228.8 189.6,228.3 188.8,227.9 188.2,227.4 187.7,226.9 187.3,226.4 187.1,225.9 187.1,225.4 187.2,225 187.3,224.5 187.4,224 187.4,223.5 187.5,223 187.5,222.5 187.5,222.5 187.5,222 187.4,221.6 187.4,221.1 187.3,220.6 187.2,220.1 187,219.6 187,219.6 186.8,220.1 186.7,220.6 186.6,221.1 186.6,221.6 186.5,222 186.5,222.5 186.5,222.5 186.5,223 186.6,223.5 186.6,224 186.7,224.5 186.8,225 186.9,225.4 186.9,225.9 186.7,226.4 186.3,226.9 185.8,227.4 185.2,227.9 184.4,228.3 183.6,228.8 182.6,229.3" fill="#efc028"/>
<text x="120.4" y="236.4" font-size="6.9" font-style="italic" stroke="#222" stroke-width="0.12" fill="#222">LTB (Lymphotoxin Beta)</text>
<polygon points="128.4,252.5 127.4,252 126.6,251.5 125.8,251.1 125.2,250.6 124.7,250.1 124.3,249.6 124.1,249.1 124.1,248.6 124.2,248.1 124.3,247.7 124.4,247.2 124.4,246.7 124.5,246.2 124.5,245.7 124.5,245.7 124.5,245.2 124.4,244.7 124.4,244.3 124.3,243.8 124.2,243.3 124,242.8 124,242.8 123.8,243.3 123.7,243.8 123.6,244.3 123.6,244.7 123.5,245.2 123.5,245.7 123.5,245.7 123.5,246.2 123.6,246.7 123.6,247.2 123.7,247.7 123.8,248.1 123.9,248.6 123.9,249.1 123.7,249.6 123.3,250.1 122.8,250.6 122.2,251.1 121.4,251.5 120.6,252 119.6,252.5" fill="#f0cc27"/>
<polygon points="138.9,252.5 137.9,252 137.1,251.5 136.3,251.1 135.7,250.6 135.2,250.1 134.8,249.6 134.6,249.1 134.6,248.6 134.7,248.1 134.8,247.7 134.9,247.2 134.9,246.7 135,246.2 135,245.7 135,245.7 135,245.2 134.9,244.7 134.9,244.3 134.8,243.8 134.7,243.3 134.5,242.8 134.5,242.8 134.3,243.3 134.2,243.8 134.1,244.3 134.1,244.7 134,245.2 134,245.7 134,245.7 134,246.2 134.1,246.7 134.1,247.2 134.2,247.7 134.3,248.1 134.4,248.6 134.4,249.1 134.2,249.6 133.8,250.1 133.3,250.6 132.7,251.1 131.9,251.5 131.1,252 130.1,252.5" fill="#f0cc27"/>
<polygon points="149.6,252.5 149,252 148.4,251.5 147.8,251.1 147.3,250.6 146.9,250.1 146.5,249.6 146.1,249.1 145.8,248.6 145.5,248.1 145.3,247.7 145.3,247.2 145.4,246.7 145.4,246.2 145.4,246 145.4,245.7 145.3,245.2 145.3,244.7 145.3,244.3 145.3,243.8 145.2,243.3 145,242.8 145,242.8 144.8,243.3 144.7,243.8 144.7,244.3 144.7,244.7 144.7,245.2 144.6,245.7 144.6,246 144.6,246.2 144.6,246.7 144.7,247.2 144.7,247.7 144.5,248.1 144.2,248.6 143.9,249.1 143.5,249.6 143.1,250.1 142.7,250.6 142.2,251.1 141.6,251.5 141,252 140.4,252.5" fill="#f0cc27"/>
<polygon points="159.9,252.5 159,252.1 158.2,251.6 157.4,251.2 156.8,250.7 156.3,250.2 155.9,249.8 155.6,249.3 155.6,248.9 155.6,248.4 155.7,248 155.8,247.5 155.9,247.1 155.9,246.6 155.9,246.2 155.9,246 155.9,245.7 155.9,245.3 155.8,244.8 155.8,244.4 155.7,243.9 155.5,243.5 155.5,243.5 155.3,243.9 155.2,244.4 155.2,244.8 155.1,245.3 155.1,245.7 155.1,246 155.1,246.2 155.1,246.6 155.1,247.1 155.2,247.5 155.3,248 155.4,248.4 155.4,248.9 155.4,249.3 155.1,249.8 154.7,250.2 154.2,250.7 153.6,251.2 152.8,251.6 152,252.1 151.1,252.5" fill="#f0cf26"/>
<polygon points="170.4,252.5 169.3,252 168.4,251.4 167.6,250.9 167,250.4 166.5,249.8 166.1,249.3 166.4,248.8 166.7,248.3 167,247.7 167.3,247.2 167.6,246.7 167.9,246.1 168,245.9 167.9,245.6 167.6,245.1 167.3,244.5 167.1,244 166.8,243.5 166.5,242.9 166.3,242.4 166,241.9 166,241.9 165.7,242.4 165.5,242.9 165.2,243.5 164.9,244 164.7,244.5 164.4,245.1 164.1,245.6 164,245.9 164.1,246.1 164.4,246.7 164.7,247.2 165,247.7 165.3,248.3 165.6,248.8 165.9,249.3 165.5,249.8 165,250.4 164.4,250.9 163.6,251.4 162.7,252 161.6,252.5" fill="#e48429"/>
<polygon points="180.9,252.5 180,252.1 179.2,251.6 178.4,251.2 177.8,250.7 177.3,250.2 176.9,249.8 176.6,249.3 176.6,248.9 176.6,248.4 176.7,248 176.8,247.5 176.9,247.1 176.9,246.6 176.9,246.2 176.9,246 176.9,245.7 176.9,245.3 176.8,244.8 176.8,244.4 176.7,243.9 176.5,243.5 176.5,243.5 176.3,243.9 176.2,244.4 176.2,244.8 176.1,245.3 176.1,245.7 176.1,246 176.1,246.2 176.1,246.6 176.1,247.1 176.2,247.5 176.3,248 176.4,248.4 176.4,248.9 176.4,249.3 176.1,249.8 175.7,250.2 175.2,250.7 174.6,251.2 173.8,251.6 173,252.1 172.1,252.5" fill="#f0cf26"/>
<polygon points="191.4,252.5 190.5,252.1 189.7,251.6 188.9,251.2 188.3,250.7 187.8,250.2 187.4,249.8 187.1,249.3 187.1,248.9 187.1,248.4 187.2,248 187.3,247.5 187.4,247.1 187.4,246.6 187.4,246.2 187.4,246 187.4,245.7 187.4,245.3 187.3,244.8 187.3,244.4 187.2,243.9 187,243.5 187,243.5 186.8,243.9 186.7,244.4 186.7,244.8 186.6,245.3 186.6,245.7 186.6,246 186.6,246.2 186.6,246.6 186.6,247.1 186.7,247.5 186.8,248 186.9,248.4 186.9,248.9 186.9,249.3 186.6,249.8 186.2,250.2 185.7,250.7 185.1,251.2 184.3,251.6 183.5,252.1 182.6,252.5" fill="#f0d225"/>
<text x="120.4" y="259.6" font-size="6.9" font-style="italic" stroke="#222" stroke-width="0.12" fill="#222">CCL3</text>
<polygon points="128.3,275.7 127,275 125.9,274.3 125,273.6 124.4,273 124.1,272.3 124.1,271.6 124.1,270.9 124.1,270.2 125,269.5 125.9,268.9 126.7,268.2 127.3,267.5 127.9,266.8 128.3,266.1 128.3,266 128.2,265.4 127.9,264.7 127.4,264.1 126.8,263.4 125.9,262.7 124,262 124,262 122.1,262.7 121.2,263.4 120.6,264.1 120.1,264.7 119.8,265.4 119.7,266 119.7,266.1 120.1,266.8 120.7,267.5 121.3,268.2 122.1,268.9 123,269.5 123.9,270.2 123.9,270.9 123.9,271.6 123.9,272.3 123.6,273 123,273.6 122.1,274.3 121,275 119.7,275.7" fill="#d84b24"/>
<polygon points="138.9,275.7 137.6,275.1 136.6,274.4 135.7,273.8 135.1,273.2 134.6,272.5 134.6,271.9 134.6,271.3 134.6,270.6 135,270 135.4,269.4 135.8,268.8 136.2,268.1 136.6,267.5 136.9,267.1 136.8,266.9 136.4,266.2 136,265.6 135.6,265 135.3,264.3 134.9,263.7 134.5,263.1 134.5,263.1 134.1,263.7 133.7,264.3 133.4,265 133,265.6 132.6,266.2 132.2,266.9 132.1,267.1 132.4,267.5 132.8,268.1 133.2,268.8 133.6,269.4 134,270 134.4,270.6 134.4,271.3 134.4,271.9 134.4,272.5 133.9,273.2 133.3,273.8 132.4,274.4 131.4,275.1 130.1,275.7" fill="#e07327"/>
<polygon points="149.4,275.7 148.2,275.1 147.2,274.5 146.4,273.9 145.7,273.4 145.3,272.8 145.1,272.2 145.1,271.6 145.5,271 145.9,270.4 146.3,269.8 146.8,269.3 147.2,268.7 147.6,268.1 147.7,268 147.4,267.5 147,266.9 146.6,266.3 146.2,265.8 145.8,265.2 145.4,264.6 145,264 145,264 144.6,264.6 144.2,265.2 143.8,265.8 143.4,266.3 143,266.9 142.6,267.5 142.3,268 142.4,268.1 142.8,268.7 143.2,269.3 143.7,269.8 144.1,270.4 144.5,271 144.9,271.6 144.9,272.2 144.7,272.8 144.3,273.4 143.6,273.9 142.8,274.5 141.8,275.1 140.6,275.7" fill="#dd6225"/>
<polygon points="159.9,275.7 158.7,275.1 157.7,274.5 156.8,273.9 156.2,273.3 155.7,272.7 155.6,272.1 155.6,271.5 155.9,270.9 156.4,270.3 156.9,269.7 157.4,269.1 157.9,268.5 158.4,267.9 158.6,267.7 158.3,267.3 157.8,266.7 157.4,266.1 156.9,265.5 156.4,264.9 156,264.3 155.5,263.7 155.5,263.7 155,264.3 154.6,264.9 154.1,265.5 153.6,266.1 153.2,266.7 152.7,267.3 152.4,267.7 152.6,267.9 153.1,268.5 153.6,269.1 154.1,269.7 154.6,270.3 155.1,270.9 155.4,271.5 155.4,272.1 155.3,272.7 154.8,273.3 154.2,273.9 153.3,274.5 152.3,275.1 151.1,275.7" fill="#db5c25"/>
<polygon points="170.4,275.7 169.2,275.1 168.1,274.5 167.3,273.8 166.6,273.2 166.2,272.6 166.1,272 166.1,271.4 166.1,270.8 166.5,270.1 166.8,269.5 167.1,268.9 167.4,268.3 167.7,267.7 167.9,267.3 167.8,267 167.5,266.4 167.2,265.8 166.9,265.2 166.6,264.6 166.3,263.9 166,263.3 166,263.3 165.7,263.9 165.4,264.6 165.1,265.2 164.8,265.8 164.5,266.4 164.2,267 164.1,267.3 164.3,267.7 164.6,268.3 164.9,268.9 165.2,269.5 165.5,270.1 165.9,270.8 165.9,271.4 165.9,272 165.8,272.6 165.4,273.2 164.7,273.8 163.9,274.5 162.8,275.1 161.6,275.7" fill="#e27928"/>
<polygon points="180.8,275.7 179.5,275 178.4,274.4 177.6,273.7 177,273 176.6,272.4 176.6,271.7 176.6,271 176.6,270.4 177.8,269.7 178.6,269.1 179.3,268.4 179.9,267.7 180.4,267.1 180.7,266.4 180.5,265.7 180.2,265.1 179.8,264.4 179.1,263.7 178.3,263.1 176.5,262.4 176.5,262.4 174.7,263.1 173.9,263.7 173.2,264.4 172.8,265.1 172.5,265.7 172.3,266.4 172.6,267.1 173.1,267.7 173.7,268.4 174.4,269.1 175.2,269.7 176.4,270.4 176.4,271 176.4,271.7 176.4,272.4 176,273 175.4,273.7 174.6,274.4 173.5,275 172.2,275.7" fill="#d84b24"/>
<polygon points="191.4,275.7 190.2,275.1 189.2,274.5 188.4,273.9 187.7,273.4 187.3,272.8 187.1,272.2 187.2,271.6 187.5,271 187.6,270.4 187.8,269.8 187.9,269.3 187.9,268.7 188,268.1 188,267.9 188,267.5 187.9,266.9 187.9,266.3 187.8,265.8 187.6,265.2 187.4,264.6 187,264 187,264 186.6,264.6 186.4,265.2 186.2,265.8 186.1,266.3 186.1,266.9 186,267.5 186,267.9 186,268.1 186.1,268.7 186.1,269.3 186.2,269.8 186.4,270.4 186.5,271 186.8,271.6 186.9,272.2 186.7,272.8 186.3,273.4 185.6,273.9 184.8,274.5 183.8,275.1 182.6,275.7" fill="#e7902a"/>
<text x="120.4" y="282.8" font-size="6.9" font-style="italic" stroke="#222" stroke-width="0.12" fill="#222">CCL4</text>
<polygon points="126.5,298.9 126.1,298.2 125.7,297.6 125.3,296.9 125,296.3 124.7,295.6 124.4,295 124.2,294.3 124.1,293.7 124.1,293 124.7,292.4 125.5,291.7 126.3,291.1 127,290.4 127.7,289.8 128.3,289.2 128.3,289.1 128,288.5 127.4,287.8 126.7,287.2 125.7,286.5 124,285.9 124,285.9 122.3,286.5 121.3,287.2 120.6,287.8 120,288.5 119.7,289.1 119.7,289.2 120.3,289.8 121,290.4 121.7,291.1 122.5,291.7 123.3,292.4 123.9,293 123.9,293.7 123.8,294.3 123.6,295 123.3,295.6 123,296.3 122.7,296.9 122.3,297.6 121.9,298.2 121.5,298.9" fill="#d0281f"/>
<polygon points="138,298.9 137.5,298.3 137,297.7 136.5,297.1 136,296.5 135.7,296 135.3,295.4 135,294.8 134.7,294.2 135.2,293.6 135.8,293 136.4,292.5 137,291.9 137.6,291.3 138.1,290.7 138.3,290.5 138.2,290.1 137.8,289.5 137.4,288.9 136.7,288.4 135.9,287.8 134.5,287.2 134.5,287.2 133.1,287.8 132.3,288.4 131.6,288.9 131.2,289.5 130.8,290.1 130.7,290.5 130.9,290.7 131.4,291.3 132,291.9 132.6,292.5 133.2,293 133.8,293.6 134.3,294.2 134,294.8 133.7,295.4 133.3,296 133,296.5 132.5,297.1 132,297.7 131.5,298.3 131,298.9" fill="#d84524"/>
<polygon points="149,298.9 148.4,298.3 147.8,297.7 147.2,297.1 146.7,296.5 146.3,295.9 145.9,295.3 145.5,294.7 145.2,294.1 145.5,293.5 146.2,292.9 146.8,292.3 147.4,291.7 148,291.1 148.6,290.5 148.8,290.2 148.7,289.9 148.4,289.3 147.9,288.7 147.3,288.1 146.5,287.5 145,286.9 145,286.9 143.5,287.5 142.7,288.1 142.1,288.7 141.6,289.3 141.3,289.9 141.2,290.2 141.4,290.5 142,291.1 142.6,291.7 143.2,292.3 143.8,292.9 144.5,293.5 144.8,294.1 144.5,294.7 144.1,295.3 143.7,295.9 143.3,296.5 142.8,297.1 142.2,297.7 141.6,298.3 141,298.9" fill="#d84524"/>
<polygon points="159.1,298.9 158.5,298.3 158,297.7 157.5,297.1 157.1,296.5 156.6,295.9 156.3,295.3 155.9,294.7 155.7,294.1 156,293.5 156.7,292.9 157.3,292.3 157.9,291.7 158.5,291.1 159.1,290.5 159.3,290.2 159.2,289.9 158.9,289.3 158.4,288.7 157.8,288.1 157,287.5 155.5,286.9 155.5,286.9 154,287.5 153.2,288.1 152.6,288.7 152.1,289.3 151.8,289.9 151.7,290.2 151.9,290.5 152.5,291.1 153.1,291.7 153.7,292.3 154.3,292.9 155,293.5 155.3,294.1 155.1,294.7 154.7,295.3 154.4,295.9 153.9,296.5 153.5,297.1 153,297.7 152.5,298.3 151.9,298.9" fill="#d74024"/>
<polygon points="170.2,298.9 169.5,298.3 168.9,297.7 168.3,297.1 167.8,296.5 167.3,295.9 166.9,295.3 166.5,294.7 166.2,294.1 166.5,293.5 167.1,292.9 167.7,292.3 168.3,291.7 168.9,291.1 169.4,290.5 169.6,290.2 169.5,289.9 169.2,289.3 168.7,288.7 168.2,288.1 167.4,287.5 166,286.9 166,286.9 164.6,287.5 163.8,288.1 163.3,288.7 162.8,289.3 162.5,289.9 162.4,290.2 162.6,290.5 163.1,291.1 163.7,291.7 164.3,292.3 164.9,292.9 165.5,293.5 165.8,294.1 165.5,294.7 165.1,295.3 164.7,295.9 164.2,296.5 163.7,297.1 163.1,297.7 162.5,298.3 161.8,298.9" fill="#db5c25"/>
<polygon points="177.5,298.9 177.2,298.2 176.9,297.6 176.6,296.9 176.6,296.3 176.6,295.6 176.6,295 176.6,294.3 176.6,293.7 176.9,293 177.6,292.4 178.2,291.7 178.7,291.1 179.2,290.4 179.7,289.8 180.1,289.1 180.3,288.8 180.2,288.5 179.8,287.8 179.2,287.2 178.3,286.5 176.5,285.9 176.5,285.9 174.7,286.5 173.8,287.2 173.2,287.8 172.8,288.5 172.7,288.8 172.9,289.1 173.3,289.8 173.8,290.4 174.3,291.1 174.8,291.7 175.4,292.4 176.1,293 176.4,293.7 176.4,294.3 176.4,295 176.4,295.6 176.4,296.3 176.4,296.9 176.1,297.6 175.8,298.2 175.5,298.9" fill="#ba1a1b"/>
<polygon points="191.3,298.9 190.8,298.4 190.2,297.9 189.7,297.3 189.3,296.8 188.8,296.3 188.4,295.8 188.1,295.3 187.8,294.7 187.8,294.2 187.8,293.7 187.8,293.2 188,292.7 188.2,292.1 188.5,291.6 188.8,291.1 189,290.6 189.3,290.1 189.4,289.8 189.4,289.6 189,289 187,288.5 187,288.5 185,289 184.6,289.6 184.6,289.8 184.7,290.1 185,290.6 185.2,291.1 185.5,291.6 185.8,292.1 186,292.7 186.2,293.2 186.2,293.7 186.2,294.2 186.2,294.7 185.9,295.3 185.6,295.8 185.2,296.3 184.7,296.8 184.3,297.3 183.8,297.9 183.2,298.4 182.7,298.9" fill="#df6d26"/>
<text x="120.4" y="306" font-size="6.9" font-style="italic" stroke="#222" stroke-width="0.12" fill="#222">CCL5</text>
<polygon points="125.4,322.1 125,321.4 124.5,320.8 124.2,320.1 124.1,319.5 124.1,318.8 124.1,318.2 124.1,317.5 124.1,316.9 124.4,316.2 125.3,315.6 126,314.9 126.6,314.3 127.3,313.6 127.8,313 128.3,312.3 128.5,312 128.4,311.7 127.9,311 127.2,310.3 126.1,309.7 124,309 124,309 121.9,309.7 120.8,310.3 120.1,311 119.6,311.7 119.5,312 119.7,312.3 120.2,313 120.7,313.6 121.4,314.3 122,314.9 122.7,315.6 123.6,316.2 123.9,316.9 123.9,317.5 123.9,318.2 123.9,318.8 123.9,319.5 123.8,320.1 123.5,320.8 123,321.4 122.6,322.1" fill="#c61b1c"/>
<polygon points="135.9,322.1 135.5,321.4 135,320.8 134.7,320.1 134.6,319.5 134.6,318.8 134.6,318.2 134.6,317.5 134.6,316.9 134.9,316.2 135.7,315.6 136.4,314.9 137,314.3 137.6,313.6 138.1,313 138.6,312.3 138.8,312 138.7,311.7 138.2,311 137.5,310.3 136.5,309.7 134.5,309 134.5,309 132.5,309.7 131.5,310.3 130.8,311 130.3,311.7 130.2,312 130.4,312.3 130.9,313 131.4,313.6 132,314.3 132.6,314.9 133.3,315.6 134.1,316.2 134.4,316.9 134.4,317.5 134.4,318.2 134.4,318.8 134.4,319.5 134.3,320.1 134,320.8 133.5,321.4 133.1,322.1" fill="#cc1c1c"/>
<polygon points="146.4,322.1 146,321.4 145.5,320.8 145.2,320.1 145.1,319.5 145.1,318.8 145.1,318.2 145.1,317.5 145.1,316.9 145.4,316.2 146.2,315.6 146.9,314.9 147.5,314.3 148.1,313.6 148.6,313 149.1,312.3 149.3,312 149.2,311.7 148.7,311 148,310.3 147,309.7 145,309 145,309 143,309.7 142,310.3 141.3,311 140.8,311.7 140.7,312 140.9,312.3 141.4,313 141.9,313.6 142.5,314.3 143.1,314.9 143.8,315.6 144.6,316.2 144.9,316.9 144.9,317.5 144.9,318.2 144.9,318.8 144.9,319.5 144.8,320.1 144.5,320.8 144,321.4 143.6,322.1" fill="#cc1c1c"/>
<polygon points="156.9,322.1 156.5,321.4 156,320.8 155.7,320.1 155.6,319.5 155.6,318.8 155.6,318.2 155.6,317.5 155.6,316.9 155.9,316.2 156.7,315.6 157.4,314.9 158,314.3 158.6,313.6 159.1,313 159.6,312.3 159.8,312 159.7,311.7 159.2,311 158.5,310.3 157.5,309.7 155.5,309 155.5,309 153.5,309.7 152.5,310.3 151.8,311 151.3,311.7 151.2,312 151.4,312.3 151.9,313 152.4,313.6 153,314.3 153.6,314.9 154.3,315.6 155.1,316.2 155.4,316.9 155.4,317.5 155.4,318.2 155.4,318.8 155.4,319.5 155.3,320.1 155,320.8 154.5,321.4 154.1,322.1" fill="#a9181a"/>
<polygon points="169,322.1 168.1,321.4 167.4,320.8 166.8,320.2 166.4,319.6 166.1,318.9 166.1,318.3 166.1,317.7 166.8,317 167.6,316.4 168.3,315.8 168.9,315.1 169.3,314.5 169.7,313.9 169.9,313.4 169.9,313.2 169.7,312.6 169.4,312 169,311.3 168.4,310.7 167.6,310.1 166,309.4 166,309.4 164.4,310.1 163.6,310.7 163,311.3 162.6,312 162.3,312.6 162.1,313.2 162.1,313.4 162.3,313.9 162.7,314.5 163.1,315.1 163.7,315.8 164.4,316.4 165.2,317 165.9,317.7 165.9,318.3 165.9,318.9 165.6,319.6 165.2,320.2 164.6,320.8 163.9,321.4 163,322.1" fill="#d74024"/>
<polygon points="177.9,322.1 177.5,321.4 177,320.8 176.7,320.1 176.6,319.5 176.6,318.8 176.6,318.2 176.6,317.5 176.6,316.9 176.9,316.2 177.7,315.6 178.4,314.9 179,314.3 179.6,313.6 180.1,313 180.6,312.3 180.8,312 180.7,311.7 180.2,311 179.5,310.3 178.5,309.7 176.5,309 176.5,309 174.5,309.7 173.5,310.3 172.8,311 172.3,311.7 172.2,312 172.4,312.3 172.9,313 173.4,313.6 174,314.3 174.6,314.9 175.3,315.6 176.1,316.2 176.4,316.9 176.4,317.5 176.4,318.2 176.4,318.8 176.4,319.5 176.3,320.1 176,320.8 175.5,321.4 175.1,322.1" fill="#c61b1c"/>
<polygon points="189.6,322.1 188.8,321.4 188,320.8 187.4,320.2 187.1,319.5 187.1,318.9 187.1,318.2 187.1,317.6 187.1,317 187.6,316.3 188.3,315.7 188.9,315.1 189.4,314.4 190,313.8 190.4,313.1 190.9,312.5 191,312.2 190.9,311.9 190.4,311.2 189.8,310.6 188.8,310 187,309.3 187,309.3 185.2,310 184.2,310.6 183.6,311.2 183.1,311.9 183,312.2 183.1,312.5 183.6,313.1 184,313.8 184.6,314.4 185.1,315.1 185.7,315.7 186.4,316.3 186.9,317 186.9,317.6 186.9,318.2 186.9,318.9 186.9,319.5 186.6,320.2 186,320.8 185.2,321.4 184.4,322.1" fill="#d43422"/>
<text x="120.4" y="329.2" font-size="6.9" font-style="italic" stroke="#222" stroke-width="0.12" fill="#222">XCL1</text>
<polygon points="128.4,345.3 127.2,344.7 126.2,344.1 125.4,343.5 124.7,342.9 124.3,342.3 124.1,341.8 124.1,341.2 124.2,340.6 124.3,340 124.4,339.4 124.4,338.8 124.5,338.2 124.5,337.7 124.5,337.4 124.5,337.1 124.5,336.5 124.4,335.9 124.4,335.3 124.3,334.7 124.2,334.2 124,333.6 124,333.6 123.8,334.2 123.7,334.7 123.6,335.3 123.6,335.9 123.5,336.5 123.5,337.1 123.5,337.4 123.5,337.7 123.5,338.2 123.6,338.8 123.6,339.4 123.7,340 123.8,340.6 123.9,341.2 123.9,341.8 123.7,342.3 123.3,342.9 122.6,343.5 121.8,344.1 120.8,344.7 119.6,345.3" fill="#f0c528"/>
<polygon points="138.9,345.3 137.9,344.8 136.9,344.2 136.2,343.7 135.5,343.2 135,342.7 134.7,342.2 134.6,341.6 134.6,341.1 134.8,340.6 134.8,340.1 134.9,339.6 134.9,339 135,338.5 135,338.1 135,338 135,337.5 134.9,337 134.9,336.5 134.8,335.9 134.7,335.4 134.5,334.9 134.5,334.9 134.3,335.4 134.2,335.9 134.1,336.5 134.1,337 134,337.5 134,338 134,338.1 134,338.5 134.1,339 134.1,339.6 134.2,340.1 134.2,340.6 134.4,341.1 134.4,341.6 134.3,342.2 134,342.7 133.5,343.2 132.8,343.7 132.1,344.2 131.1,344.8 130.1,345.3" fill="#f0c928"/>
<polygon points="149.4,345.3 148.4,344.8 147.6,344.3 146.8,343.8 146.2,343.3 145.7,342.8 145.3,342.4 145.1,341.9 145.1,341.4 145.2,340.9 145.3,340.4 145.4,339.9 145.4,339.4 145.5,339 145.5,338.5 145.5,338.4 145.5,338 145.4,337.5 145.4,337 145.3,336.5 145.2,336 145,335.6 145,335.6 144.8,336 144.7,336.5 144.6,337 144.6,337.5 144.5,338 144.5,338.4 144.5,338.5 144.5,339 144.6,339.4 144.6,339.9 144.7,340.4 144.8,340.9 144.9,341.4 144.9,341.9 144.7,342.4 144.3,342.8 143.8,343.3 143.2,343.8 142.4,344.3 141.6,344.8 140.6,345.3" fill="#f0c928"/>
<polygon points="159.9,345.3 159,344.8 158.2,344.4 157.4,343.9 156.8,343.5 156.3,343 155.9,342.6 155.6,342.1 155.6,341.7 155.6,341.2 155.7,340.7 155.8,340.3 155.8,339.8 155.8,339.4 155.9,338.9 155.9,338.8 155.9,338.5 155.8,338 155.8,337.6 155.7,337.1 155.7,336.7 155.5,336.2 155.5,336.2 155.3,336.7 155.3,337.1 155.2,337.6 155.2,338 155.1,338.5 155.1,338.8 155.1,338.9 155.2,339.4 155.2,339.8 155.2,340.3 155.3,340.7 155.4,341.2 155.4,341.7 155.4,342.1 155.1,342.6 154.7,343 154.2,343.5 153.6,343.9 152.8,344.4 152,344.8 151.1,345.3" fill="#f0cf26"/>
<polygon points="168.8,345.3 168,344.6 167.3,343.9 166.7,343.3 166.3,342.6 166.1,341.9 166.1,341.3 166.1,340.6 166.1,340 167.3,339.3 168.2,338.6 168.9,338 169.6,337.3 170.1,336.6 170.4,336 170.2,335.3 169.9,334.6 169.4,334 168.8,333.3 167.9,332.6 166,332 166,332 164.1,332.6 163.2,333.3 162.6,334 162.1,334.6 161.8,335.3 161.6,336 161.9,336.6 162.4,337.3 163.1,338 163.8,338.6 164.7,339.3 165.9,340 165.9,340.6 165.9,341.3 165.9,341.9 165.7,342.6 165.3,343.3 164.7,343.9 164,344.6 163.2,345.3" fill="#d22e21"/>
<polygon points="179.8,345.3 178.8,344.6 177.9,343.9 177.2,343.2 176.8,342.5 176.6,341.8 176.6,341.1 177.1,340.4 177.7,339.7 178.2,339 178.6,338.3 179,337.6 179.3,336.9 179.5,336.2 179.5,336.1 179.4,335.5 179.1,334.8 178.8,334.1 178.5,333.4 178,332.7 177.4,332 176.5,331.3 176.5,331.3 175.6,332 175,332.7 174.5,333.4 174.2,334.1 173.9,334.8 173.6,335.5 173.5,336.1 173.5,336.2 173.7,336.9 174,337.6 174.4,338.3 174.8,339 175.3,339.7 175.9,340.4 176.4,341.1 176.4,341.8 176.2,342.5 175.8,343.2 175.1,343.9 174.2,344.6 173.2,345.3" fill="#d95024"/>
<polygon points="190.6,345.3 190.2,345 189.8,344.8 189.4,344.5 189,344.3 188.7,344 188.4,343.8 188.1,343.5 187.9,343.2 187.7,343 187.5,342.7 187.3,342.5 187.2,342.2 187.2,342 187.2,341.7 187.2,341.5 187.2,341.5 187.2,341.2 187.2,341 187.1,340.7 187.1,340.5 187,340.2 187,340.2 186.9,340.5 186.9,340.7 186.8,341 186.8,341.2 186.8,341.5 186.8,341.5 186.8,341.7 186.8,342 186.8,342.2 186.7,342.5 186.5,342.7 186.3,343 186.1,343.2 185.9,343.5 185.6,343.8 185.3,344 185,344.3 184.6,344.5 184.2,344.8 183.8,345 183.4,345.3" fill="#f1e021" fill-opacity="0.38"/>
<text x="120.4" y="352.4" font-size="6.9" font-style="italic" stroke="#222" stroke-width="0.12" fill="#222">XCL2</text>
<polygon points="128.4,368.5 127.3,367.9 126.4,367.4 125.6,366.9 125,366.3 124.5,365.8 124.1,365.3 124.3,364.7 124.4,364.2 124.6,363.7 124.8,363.1 124.9,362.6 125.1,362.1 125.2,361.8 125.1,361.5 125,361 124.8,360.5 124.6,359.9 124.5,359.4 124.3,358.9 124.2,358.4 124,357.8 124,357.8 123.8,358.4 123.7,358.9 123.5,359.4 123.4,359.9 123.2,360.5 123,361 122.9,361.5 122.8,361.8 122.9,362.1 123.1,362.6 123.2,363.1 123.4,363.7 123.6,364.2 123.7,364.7 123.9,365.3 123.5,365.8 123,366.3 122.4,366.9 121.6,367.4 120.7,367.9 119.6,368.5" fill="#eaa129"/>
<polygon points="138.9,368.5 137.8,367.9 136.8,367.4 136,366.8 135.4,366.3 134.9,365.7 134.6,365.1 134.6,364.6 134.7,364 134.9,363.5 135,362.9 135,362.4 135.1,361.8 135.1,361.3 135.1,360.9 135.1,360.7 135.1,360.2 135,359.6 135,359.1 134.9,358.5 134.8,358 134.5,357.4 134.5,357.4 134.2,358 134.1,358.5 134,359.1 134,359.6 133.9,360.2 133.9,360.7 133.9,360.9 133.9,361.3 133.9,361.8 134,362.4 134,362.9 134.1,363.5 134.3,364 134.4,364.6 134.4,365.1 134.1,365.7 133.6,366.3 133,366.8 132.2,367.4 131.2,367.9 130.1,368.5" fill="#eeba28"/>
<polygon points="149.4,368.5 148.4,367.9 147.4,367.4 146.7,366.9 146,366.4 145.5,365.9 145.2,365.3 145.1,364.8 145.1,364.3 145.3,363.8 145.4,363.3 145.5,362.8 145.6,362.2 145.6,361.7 145.6,361.3 145.6,361.2 145.6,360.7 145.5,360.2 145.5,359.6 145.4,359.1 145.3,358.6 145,358.1 145,358.1 144.7,358.6 144.6,359.1 144.5,359.6 144.5,360.2 144.4,360.7 144.4,361.2 144.4,361.3 144.4,361.7 144.4,362.2 144.5,362.8 144.6,363.3 144.7,363.8 144.9,364.3 144.9,364.8 144.8,365.3 144.5,365.9 144,366.4 143.3,366.9 142.6,367.4 141.6,367.9 140.6,368.5" fill="#efc028"/>
<polygon points="159.9,368.5 158.8,367.9 157.8,367.4 157,366.8 156.4,366.3 155.9,365.7 155.6,365.1 155.6,364.6 155.7,364 155.9,363.5 156,362.9 156,362.4 156.1,361.8 156.1,361.3 156.1,360.9 156.1,360.7 156.1,360.2 156,359.6 156,359.1 155.9,358.5 155.8,358 155.5,357.4 155.5,357.4 155.2,358 155.1,358.5 155,359.1 155,359.6 154.9,360.2 154.9,360.7 154.9,360.9 154.9,361.3 154.9,361.8 155,362.4 155,362.9 155.1,363.5 155.3,364 155.4,364.6 155.4,365.1 155.1,365.7 154.6,366.3 154,366.8 153.2,367.4 152.2,367.9 151.1,368.5" fill="#eeba28"/>
<polygon points="169,368.5 168.1,367.8 167.4,367.2 166.8,366.6 166.4,365.9 166.1,365.3 166.1,364.7 166.1,364 166.9,363.4 167.8,362.8 168.5,362.1 169.2,361.5 169.7,360.9 170.1,360.2 170.3,359.8 170.3,359.6 170.1,359 169.7,358.4 169.3,357.7 168.6,357.1 167.8,356.5 166,355.8 166,355.8 164.2,356.5 163.4,357.1 162.7,357.7 162.3,358.4 161.9,359 161.7,359.6 161.7,359.8 161.9,360.2 162.3,360.9 162.8,361.5 163.5,362.1 164.2,362.8 165.1,363.4 165.9,364 165.9,364.7 165.9,365.3 165.6,365.9 165.2,366.6 164.6,367.2 163.9,367.8 163,368.5" fill="#d63a24"/>
<polygon points="178.5,368.5 177.9,367.8 177.4,367.1 177,366.4 176.7,365.7 176.6,365.1 176.6,364.4 176.6,363.7 176.6,363 177.7,362.4 178.6,361.7 179.5,361 180.1,360.3 180.7,359.6 181.1,359 181.1,358.9 181,358.3 180.6,357.6 180.1,356.9 179.4,356.3 178.5,355.6 176.5,354.9 176.5,354.9 174.5,355.6 173.6,356.3 172.9,356.9 172.4,357.6 172,358.3 171.9,358.9 171.9,359 172.3,359.6 172.9,360.3 173.5,361 174.4,361.7 175.3,362.4 176.4,363 176.4,363.7 176.4,364.4 176.4,365.1 176.3,365.7 176,366.4 175.6,367.1 175.1,367.8 174.5,368.5" fill="#cc1c1c"/>
<polygon points="190.6,368.5 189.9,368 189.2,367.6 188.6,367.1 188.1,366.7 187.7,366.2 187.3,365.7 187.1,365.3 187.1,364.8 187.1,364.4 187.1,363.9 187.2,363.5 187.2,363 187.2,362.6 187.2,362.1 187.2,361.9 187.2,361.7 187.2,361.2 187.2,360.8 187.2,360.3 187.1,359.9 187,359.4 187,359.4 186.9,359.9 186.8,360.3 186.8,360.8 186.8,361.2 186.8,361.7 186.8,361.9 186.8,362.1 186.8,362.6 186.8,363 186.8,363.5 186.9,363.9 186.9,364.4 186.9,364.8 186.9,365.3 186.7,365.7 186.3,366.2 185.9,366.7 185.4,367.1 184.8,367.6 184.1,368 183.4,368.5" fill="#f1e021" fill-opacity="0.55"/>
<text x="126.3" y="372.3" font-size="7" text-anchor="end" textLength="23.5" lengthAdjust="spacingAndGlyphs" stroke="#1a1a1a" stroke-width="0.2" transform="rotate(-90 126.3 372.3)" fill="#1a1a1a">Cluster0</text>
<text x="136.8" y="372.3" font-size="7" text-anchor="end" textLength="23.5" lengthAdjust="spacingAndGlyphs" stroke="#1a1a1a" stroke-width="0.2" transform="rotate(-90 136.8 372.3)" fill="#1a1a1a">Cluster1</text>
<text x="147.3" y="372.3" font-size="7" text-anchor="end" textLength="23.5" lengthAdjust="spacingAndGlyphs" stroke="#1a1a1a" stroke-width="0.2" transform="rotate(-90 147.3 372.3)" fill="#1a1a1a">Cluster2</text>
<text x="157.8" y="372.3" font-size="7" text-anchor="end" textLength="23.5" lengthAdjust="spacingAndGlyphs" stroke="#1a1a1a" stroke-width="0.2" transform="rotate(-90 157.8 372.3)" fill="#1a1a1a">Cluster3</text>
<text x="168.3" y="372.3" font-size="7" text-anchor="end" textLength="23.5" lengthAdjust="spacingAndGlyphs" stroke="#1a1a1a" stroke-width="0.2" transform="rotate(-90 168.3 372.3)" fill="#1a1a1a">Cluster4</text>
<text x="178.8" y="372.3" font-size="7" text-anchor="end" textLength="23.5" lengthAdjust="spacingAndGlyphs" stroke="#1a1a1a" stroke-width="0.2" transform="rotate(-90 178.8 372.3)" fill="#1a1a1a">Cluster6</text>
<text x="189.3" y="372.3" font-size="7" text-anchor="end" textLength="23.5" lengthAdjust="spacingAndGlyphs" stroke="#1a1a1a" stroke-width="0.2" transform="rotate(-90 189.3 372.3)" fill="#1a1a1a">Cluster8</text>
<line x1="207.6" y1="20.8" x2="207.6" y2="206.3" stroke="#222" stroke-width="1"/>
<line x1="207.6" y1="207.7" x2="207.6" y2="344.5" stroke="#222" stroke-width="1"/>
<text x="202.4" y="113.6" font-size="6.5" text-anchor="middle" stroke="#2a2a2a" stroke-width="0.2" transform="rotate(-90 202.4 113.6)" fill="#2a2a2a">Cytokine and Chemokine Receptors</text>
<text x="202.4" y="276.1" font-size="6.5" text-anchor="middle" stroke="#2a2a2a" stroke-width="0.2" transform="rotate(-90 202.4 276.1)" fill="#2a2a2a">Adhesion Molecules</text>
<text x="210" y="27.7" font-size="6.9" font-style="italic" stroke="#222" stroke-width="0.12" fill="#222">IL7R</text>
<polygon points="218,43.8 217.4,43.3 216.9,42.9 216.4,42.4 215.9,42 215.5,41.5 215.1,41.1 214.7,40.6 214.4,40.2 214.2,39.7 214,39.3 213.8,38.8 213.7,38.4 213.7,37.9 213.7,37.6 213.7,37.5 213.7,37 213.7,36.6 213.7,36.1 213.7,35.7 213.6,35.2 213.5,34.8 213.5,34.8 213.4,35.2 213.3,35.7 213.3,36.1 213.3,36.6 213.3,37 213.3,37.5 213.3,37.6 213.3,37.9 213.3,38.4 213.2,38.8 213,39.3 212.8,39.7 212.6,40.2 212.3,40.6 211.9,41.1 211.5,41.5 211.1,42 210.6,42.4 210.1,42.9 209.6,43.3 209,43.8" fill="#f1dd22"/>
<polygon points="228.6,43.8 228,43.3 227.5,42.9 227,42.4 226.5,42 226.1,41.5 225.7,41.1 225.3,40.6 225,40.2 224.8,39.7 224.6,39.3 224.4,38.8 224.3,38.4 224.3,37.9 224.3,37.6 224.3,37.5 224.3,37 224.3,36.6 224.3,36.1 224.3,35.7 224.2,35.2 224.1,34.8 224.1,34.8 224,35.2 223.9,35.7 223.9,36.1 223.9,36.6 223.9,37 223.9,37.5 223.9,37.6 223.9,37.9 223.9,38.4 223.8,38.8 223.6,39.3 223.4,39.7 223.2,40.2 222.9,40.6 222.5,41.1 222.1,41.5 221.7,42 221.2,42.4 220.7,42.9 220.2,43.3 219.6,43.8" fill="#f1dd22"/>
<polygon points="239.4,43.8 238.8,43.3 238.2,42.9 237.6,42.4 237.1,41.9 236.7,41.5 236.3,41 235.9,40.5 235.6,40.1 235.3,39.6 235.1,39.1 235,38.7 235,38.2 235,37.7 235,37.5 235,37.3 235,36.8 235,36.4 235,35.9 234.9,35.4 234.9,35 234.7,34.5 234.7,34.5 234.5,35 234.5,35.4 234.4,35.9 234.4,36.4 234.4,36.8 234.4,37.3 234.4,37.5 234.4,37.7 234.4,38.2 234.4,38.7 234.3,39.1 234.1,39.6 233.8,40.1 233.5,40.5 233.1,41 232.7,41.5 232.3,41.9 231.8,42.4 231.2,42.9 230.6,43.3 230,43.8" fill="#f1da23"/>
<polygon points="248.9,43.8 248.3,43.4 247.7,43 247.1,42.6 246.7,42.3 246.3,41.9 245.9,41.5 245.7,41.1 245.5,40.7 245.4,40.3 245.4,39.9 245.4,39.6 245.4,39.2 245.5,38.8 245.5,38.4 245.5,38 245.5,37.9 245.5,37.6 245.5,37.2 245.4,36.9 245.4,36.5 245.3,36.1 245.3,36.1 245.2,36.5 245.2,36.9 245.1,37.2 245.1,37.6 245.1,37.9 245.1,38 245.1,38.4 245.1,38.8 245.2,39.2 245.2,39.6 245.2,39.9 245.2,40.3 245.1,40.7 244.9,41.1 244.7,41.5 244.3,41.9 243.9,42.3 243.5,42.6 242.9,43 242.3,43.4 241.7,43.8" fill="#f1e021" fill-opacity="0.55"/>
<polygon points="260.2,43.8 259.1,43.2 258.1,42.6 257.3,42 256.6,41.5 256.4,40.9 256.4,40.3 256.4,39.7 256.4,39.1 256.4,38.5 256.4,37.9 256.4,37.4 256.4,36.8 256.7,36.2 257.4,35.6 257.9,35 258.1,34.4 258.2,34.1 258.2,33.9 258,33.3 257.5,32.7 255.9,32.1 255.9,32.1 254.3,32.7 253.8,33.3 253.6,33.9 253.6,34.1 253.7,34.4 253.9,35 254.4,35.6 255.1,36.2 255.5,36.8 255.5,37.4 255.5,37.9 255.5,38.5 255.5,39.1 255.5,39.7 255.5,40.3 255.5,40.9 255.2,41.5 254.5,42 253.7,42.6 252.7,43.2 251.6,43.8" fill="#e27928"/>
<polygon points="269.9,43.8 269.3,43.4 268.8,43.1 268.4,42.7 267.9,42.4 267.6,42 267.3,41.7 267,41.3 266.8,41 266.6,40.6 266.6,40.3 266.6,39.9 266.6,39.6 266.6,39.2 266.7,38.9 266.7,38.5 266.7,38.3 266.7,38.2 266.7,37.8 266.6,37.5 266.6,37.1 266.5,36.8 266.5,36.8 266.4,37.1 266.4,37.5 266.3,37.8 266.3,38.2 266.3,38.3 266.3,38.5 266.3,38.9 266.4,39.2 266.4,39.6 266.4,39.9 266.4,40.3 266.4,40.6 266.2,41 266,41.3 265.7,41.7 265.4,42 265.1,42.4 264.6,42.7 264.2,43.1 263.7,43.4 263.1,43.8" fill="#f1e021" fill-opacity="0.42"/>
<polygon points="280.1,43.8 279.7,43.5 279.4,43.3 279.1,43 278.8,42.8 278.5,42.5 278.3,42.3 278,42 277.8,41.8 277.6,41.5 277.5,41.3 277.4,41 277.2,40.8 277.2,40.5 277.2,40.3 277.2,40.1 277.2,40 277.2,39.8 277.2,39.5 277.2,39.3 277.2,39 277.1,38.7 277.1,38.7 277,39 277,39.3 277,39.5 277,39.8 277,40 277,40.1 277,40.3 277,40.5 277,40.8 276.8,41 276.7,41.3 276.6,41.5 276.4,41.8 276.2,42 275.9,42.3 275.7,42.5 275.4,42.8 275.1,43 274.8,43.3 274.5,43.5 274.1,43.8" fill="#f1e021" fill-opacity="0.35"/>
<text x="210" y="50.9" font-size="6.9" font-style="italic" stroke="#222" stroke-width="0.12" fill="#222">IL2RB</text>
<polygon points="217.9,67 216.8,66.5 215.9,65.9 215.1,65.4 214.5,64.9 214,64.3 213.6,63.8 213.9,63.3 214.2,62.7 214.5,62.2 214.8,61.7 215.1,61.1 215.4,60.6 215.5,60.3 215.4,60.1 215.1,59.5 214.8,59 214.6,58.5 214.3,57.9 214,57.4 213.8,56.9 213.5,56.3 213.5,56.3 213.2,56.9 213,57.4 212.7,57.9 212.4,58.5 212.2,59 211.9,59.5 211.6,60.1 211.5,60.3 211.6,60.6 211.9,61.1 212.2,61.7 212.5,62.2 212.8,62.7 213.1,63.3 213.4,63.8 213,64.3 212.5,64.9 211.9,65.4 211.1,65.9 210.2,66.5 209.1,67" fill="#e37f28"/>
<polygon points="228.5,67 227.4,66.5 226.5,65.9 225.7,65.4 225.1,64.9 224.6,64.3 224.2,63.8 224.5,63.3 224.8,62.7 225.1,62.2 225.4,61.7 225.7,61.1 226,60.6 226.1,60.3 226,60.1 225.7,59.5 225.4,59 225.2,58.5 224.9,57.9 224.6,57.4 224.4,56.9 224.1,56.3 224.1,56.3 223.8,56.9 223.6,57.4 223.3,57.9 223,58.5 222.8,59 222.5,59.5 222.2,60.1 222.1,60.3 222.2,60.6 222.5,61.1 222.8,61.7 223.1,62.2 223.4,62.7 223.7,63.3 224,63.8 223.6,64.3 223.1,64.9 222.5,65.4 221.7,65.9 220.8,66.5 219.7,67" fill="#e37f28"/>
<polygon points="239.1,67 238,66.5 237.1,65.9 236.3,65.4 235.7,64.9 235.2,64.3 234.8,63.8 235.1,63.3 235.4,62.7 235.7,62.2 236,61.7 236.3,61.1 236.6,60.6 236.7,60.3 236.6,60.1 236.3,59.5 236,59 235.8,58.5 235.5,57.9 235.2,57.4 235,56.9 234.7,56.3 234.7,56.3 234.4,56.9 234.2,57.4 233.9,57.9 233.6,58.5 233.4,59 233.1,59.5 232.8,60.1 232.7,60.3 232.8,60.6 233.1,61.1 233.4,61.7 233.7,62.2 234,62.7 234.3,63.3 234.6,63.8 234.2,64.3 233.7,64.9 233.1,65.4 232.3,65.9 231.4,66.5 230.3,67" fill="#e27928"/>
<polygon points="249.7,67 248.7,66.5 247.8,66 247,65.5 246.4,65 245.9,64.5 245.6,64 245.7,63.5 245.9,63 246.1,62.5 246.3,62 246.4,61.5 246.6,61 246.4,60.5 246.3,60 246.1,59.5 246,59 245.8,58.5 245.6,58 245.5,57.5 245.3,57 245.3,57 245.1,57.5 245,58 244.8,58.5 244.7,59 244.5,59.5 244.3,60 244.2,60.5 244,61 244.2,61.5 244.3,62 244.5,62.5 244.7,63 244.9,63.5 245,64 244.7,64.5 244.2,65 243.6,65.5 242.8,66 241.9,66.5 240.9,67" fill="#e8962a"/>
<polygon points="260.3,67 259.2,66.5 258.3,65.9 257.5,65.4 256.9,64.9 256.4,64.3 256.4,63.8 256.4,63.3 256.4,62.7 256.4,62.2 256.4,61.7 256.4,61.1 256.4,60.6 257.2,60.1 257.7,59.5 258,59 258.2,58.5 258.2,58.3 258.2,57.9 257.9,57.4 257.5,56.9 255.9,56.3 255.9,56.3 254.3,56.9 253.9,57.4 253.6,57.9 253.6,58.3 253.6,58.5 253.8,59 254.1,59.5 254.6,60.1 255.4,60.6 255.5,61.1 255.5,61.7 255.5,62.2 255.5,62.7 255.5,63.3 255.5,63.8 255.4,64.3 254.9,64.9 254.3,65.4 253.5,65.9 252.6,66.5 251.5,67" fill="#e27928"/>
<polygon points="270.8,67 269.7,66.4 268.8,65.9 268,65.4 267.4,64.8 266.9,64.3 266.9,63.7 266.9,63.2 266.9,62.6 266.9,62.1 266.9,61.5 266.9,61 266.9,60.4 268,59.9 268.6,59.4 269,58.8 269.3,58.3 269.3,58.1 269.3,57.7 269,57.2 268.4,56.6 266.5,56.1 266.5,56.1 264.6,56.6 264,57.2 263.7,57.7 263.7,58.1 263.7,58.3 264,58.8 264.4,59.4 265,59.9 266.1,60.4 266.1,61 266.1,61.5 266.1,62.1 266.1,62.6 266.1,63.2 266.1,63.7 266.1,64.3 265.6,64.8 265,65.4 264.2,65.9 263.3,66.4 262.2,67" fill="#df6d26"/>
<polygon points="281.5,67 280.5,66.5 279.5,66 278.8,65.4 278.1,64.9 277.6,64.4 277.3,63.9 277.2,63.4 277.2,62.8 277.4,62.3 277.4,61.8 277.5,61.3 277.5,60.8 277.6,60.2 277.6,59.8 277.6,59.7 277.6,59.2 277.5,58.7 277.5,58.2 277.4,57.7 277.3,57.1 277.1,56.6 277.1,56.6 276.9,57.1 276.8,57.7 276.7,58.2 276.7,58.7 276.6,59.2 276.6,59.7 276.6,59.8 276.6,60.2 276.7,60.8 276.7,61.3 276.8,61.8 276.8,62.3 277,62.8 277,63.4 276.9,63.9 276.6,64.4 276.1,64.9 275.4,65.4 274.7,66 273.7,66.5 272.7,67" fill="#eeba28"/>
<text x="210" y="74.1" font-size="6.9" font-style="italic" stroke="#222" stroke-width="0.12" fill="#222">IL21R</text>
<polygon points="217.9,90.2 217,89.7 216.2,89.3 215.4,88.8 214.8,88.4 214.3,87.9 213.9,87.5 213.6,87 213.6,86.6 213.6,86.1 213.8,85.7 213.8,85.2 213.9,84.8 214,84.3 214,83.8 214,83.7 214,83.4 213.9,82.9 213.9,82.5 213.8,82 213.7,81.6 213.5,81.1 213.5,81.1 213.3,81.6 213.2,82 213.1,82.5 213.1,82.9 213,83.4 213,83.7 213,83.8 213,84.3 213.1,84.8 213.2,85.2 213.2,85.7 213.4,86.1 213.4,86.6 213.4,87 213.1,87.5 212.7,87.9 212.2,88.4 211.6,88.8 210.8,89.3 210,89.7 209.1,90.2" fill="#f0cc27"/>
<polygon points="228.5,90.2 227.5,89.7 226.7,89.2 225.9,88.7 225.3,88.2 224.8,87.8 224.4,87.3 224.2,86.8 224.2,86.3 224.3,85.8 224.5,85.3 224.6,84.8 224.6,84.4 224.7,83.9 224.7,83.4 224.7,83.3 224.7,82.9 224.6,82.4 224.6,81.9 224.5,81.4 224.4,81 224.1,80.5 224.1,80.5 223.8,81 223.7,81.4 223.6,81.9 223.6,82.4 223.5,82.9 223.5,83.3 223.5,83.4 223.5,83.9 223.6,84.4 223.6,84.8 223.7,85.3 223.9,85.8 224,86.3 224,86.8 223.8,87.3 223.4,87.8 222.9,88.2 222.3,88.7 221.5,89.2 220.7,89.7 219.7,90.2" fill="#f0c528"/>
<polygon points="239.1,90.2 238.2,89.7 237.4,89.3 236.6,88.8 236,88.4 235.5,87.9 235.1,87.5 234.8,87 234.8,86.6 234.8,86.1 234.9,85.7 235,85.2 235.1,84.8 235.1,84.3 235.1,83.8 235.1,83.7 235.1,83.4 235.1,82.9 235,82.5 235,82 234.9,81.6 234.7,81.1 234.7,81.1 234.5,81.6 234.4,82 234.4,82.5 234.3,82.9 234.3,83.4 234.3,83.7 234.3,83.8 234.3,84.3 234.3,84.8 234.4,85.2 234.5,85.7 234.6,86.1 234.6,86.6 234.6,87 234.3,87.5 233.9,87.9 233.4,88.4 232.8,88.8 232,89.3 231.2,89.7 230.3,90.2" fill="#f0cf26"/>
<polygon points="249.7,90.2 248.8,89.7 248,89.3 247.2,88.8 246.6,88.4 246.1,87.9 245.7,87.5 245.4,87 245.4,86.6 245.4,86.1 245.6,85.7 245.7,85.2 245.8,84.8 245.8,84.3 245.8,83.8 245.8,83.7 245.8,83.4 245.8,82.9 245.7,82.5 245.7,82 245.6,81.6 245.3,81.1 245.3,81.1 245,81.6 244.9,82 244.9,82.5 244.8,82.9 244.8,83.4 244.8,83.7 244.8,83.8 244.8,84.3 244.8,84.8 244.9,85.2 245,85.7 245.2,86.1 245.2,86.6 245.2,87 244.9,87.5 244.5,87.9 244,88.4 243.4,88.8 242.6,89.3 241.8,89.7 240.9,90.2" fill="#f0c928"/>
<polygon points="260.3,90.2 259.5,89.8 258.8,89.4 258.2,89 257.6,88.6 257.1,88.3 256.7,87.9 256.3,87.5 256.1,87.1 256,86.7 256,86.3 256.1,85.9 256.2,85.6 256.3,85.2 256.3,84.8 256.3,84.4 256.3,84.3 256.3,84 256.3,83.6 256.2,83.2 256.1,82.9 255.9,82.5 255.9,82.5 255.7,82.9 255.6,83.2 255.5,83.6 255.5,84 255.5,84.3 255.5,84.4 255.5,84.8 255.5,85.2 255.6,85.6 255.7,85.9 255.8,86.3 255.8,86.7 255.7,87.1 255.5,87.5 255.1,87.9 254.7,88.3 254.2,88.6 253.6,89 253,89.4 252.3,89.8 251.5,90.2" fill="#f0cc27"/>
<polygon points="270.9,90.2 269.9,89.7 269.1,89.2 268.3,88.7 267.7,88.2 267.2,87.8 266.8,87.3 266.6,86.8 266.6,86.3 266.8,85.8 266.9,85.3 267,84.8 267.1,84.4 267.1,83.9 267.2,83.4 267.2,83.3 267.1,82.9 267.1,82.4 267,81.9 266.9,81.4 266.8,81 266.5,80.5 266.5,80.5 266.2,81 266.1,81.4 266,81.9 265.9,82.4 265.9,82.9 265.8,83.3 265.8,83.4 265.9,83.9 265.9,84.4 266,84.8 266.1,85.3 266.2,85.8 266.4,86.3 266.4,86.8 266.2,87.3 265.8,87.8 265.3,88.2 264.7,88.7 263.9,89.2 263.1,89.7 262.1,90.2" fill="#eeba28"/>
<polygon points="280.9,90.2 280.1,89.7 279.4,89.3 278.8,88.8 278.2,88.4 277.8,87.9 277.5,87.5 277.2,87 277.2,86.6 277.2,86.1 277.2,85.7 277.3,85.2 277.3,84.8 277.3,84.3 277.3,83.8 277.3,83.7 277.3,83.4 277.3,82.9 277.3,82.5 277.3,82 277.2,81.6 277.1,81.1 277.1,81.1 277,81.6 276.9,82 276.9,82.5 276.9,82.9 276.9,83.4 276.9,83.7 276.9,83.8 276.9,84.3 276.9,84.8 276.9,85.2 277,85.7 277,86.1 277,86.6 277,87 276.7,87.5 276.4,87.9 276,88.4 275.4,88.8 274.8,89.3 274.1,89.7 273.3,90.2" fill="#f1e021" fill-opacity="0.55"/>
<text x="210" y="97.3" font-size="6.9" font-style="italic" stroke="#222" stroke-width="0.12" fill="#222">CXCR3</text>
<polygon points="217.9,113.4 216.9,112.9 216.1,112.4 215.3,111.9 214.7,111.4 214.2,110.9 213.8,110.5 213.6,110 213.6,109.5 213.7,109 213.9,108.5 214,108 214,107.5 214.1,107.1 214.1,106.6 214.1,106.5 214.1,106.1 214,105.6 214,105.1 213.9,104.6 213.8,104.1 213.5,103.7 213.5,103.7 213.2,104.1 213.1,104.6 213,105.1 213,105.6 212.9,106.1 212.9,106.5 212.9,106.6 212.9,107.1 213,107.5 213,108 213.1,108.5 213.3,109 213.4,109.5 213.4,110 213.2,110.5 212.8,110.9 212.3,111.4 211.7,111.9 210.9,112.4 210.1,112.9 209.1,113.4" fill="#edb429"/>
<polygon points="228.5,113.4 227.5,112.9 226.6,112.4 225.8,111.9 225.2,111.4 224.7,110.9 224.3,110.4 224.5,109.9 224.7,109.4 224.8,108.9 225,108.4 225.1,107.9 225.3,107.4 225.2,106.9 225,106.4 224.8,105.9 224.7,105.4 224.5,104.9 224.4,104.4 224.2,103.9 224.1,103.4 224.1,103.4 223.9,103.9 223.8,104.4 223.7,104.9 223.5,105.4 223.3,105.9 223.2,106.4 223,106.9 222.9,107.4 223.1,107.9 223.2,108.4 223.4,108.9 223.5,109.4 223.7,109.9 223.9,110.4 223.5,110.9 223,111.4 222.4,111.9 221.6,112.4 220.7,112.9 219.7,113.4" fill="#e99b2a"/>
<polygon points="239.1,113.4 238.2,112.9 237.4,112.5 236.6,112 236,111.6 235.5,111.1 235.1,110.7 234.8,110.2 234.8,109.8 234.8,109.3 235,108.8 235,108.4 235.1,107.9 235.2,107.5 235.2,107 235.2,106.9 235.2,106.6 235.1,106.1 235.1,105.7 235,105.2 234.9,104.8 234.7,104.3 234.7,104.3 234.5,104.8 234.4,105.2 234.3,105.7 234.3,106.1 234.2,106.6 234.2,106.9 234.2,107 234.2,107.5 234.3,107.9 234.4,108.4 234.4,108.8 234.6,109.3 234.6,109.8 234.6,110.2 234.3,110.7 233.9,111.1 233.4,111.6 232.8,112 232,112.5 231.2,112.9 230.3,113.4" fill="#f0c928"/>
<polygon points="249.7,113.4 248.7,112.9 247.9,112.4 247.1,111.9 246.5,111.4 246,110.9 245.6,110.5 245.4,110 245.4,109.5 245.5,109 245.6,108.5 245.7,108 245.8,107.5 245.8,107.1 245.8,106.6 245.8,106.5 245.8,106.1 245.8,105.6 245.7,105.1 245.7,104.6 245.6,104.1 245.3,103.7 245.3,103.7 245,104.1 244.9,104.6 244.9,105.1 244.8,105.6 244.8,106.1 244.8,106.5 244.8,106.6 244.8,107.1 244.8,107.5 244.9,108 245,108.5 245.1,109 245.2,109.5 245.2,110 245,110.5 244.6,110.9 244.1,111.4 243.5,111.9 242.7,112.4 241.9,112.9 240.9,113.4" fill="#eeba28"/>
<polygon points="260.3,113.4 259.4,112.9 258.5,112.4 257.8,112 257.2,111.5 256.7,111 256.4,110.6 256.5,110.1 256.7,109.6 256.9,109.2 257.1,108.7 257.2,108.2 257.3,108.1 257.2,107.8 257,107.3 256.9,106.9 256.7,106.4 256.6,105.9 256.4,105.5 256.2,105 256.1,104.5 255.9,104.1 255.9,104.1 255.7,104.5 255.6,105 255.4,105.5 255.2,105.9 255.1,106.4 254.9,106.9 254.8,107.3 254.6,107.8 254.5,108.1 254.6,108.2 254.8,108.7 254.9,109.2 255.1,109.6 255.3,110.1 255.5,110.6 255.1,111 254.6,111.5 254,112 253.3,112.4 252.4,112.9 251.5,113.4" fill="#e7902a"/>
<polygon points="270.3,113.4 269.6,113 268.9,112.5 268.3,112.1 267.8,111.7 267.4,111.3 267,110.9 266.7,110.4 266.6,110 266.6,109.6 266.6,109.2 266.6,108.8 266.7,108.3 266.7,107.9 266.7,107.5 266.7,107.2 266.7,107.1 266.7,106.7 266.7,106.2 266.7,105.8 266.6,105.4 266.5,105 266.5,105 266.4,105.4 266.3,105.8 266.3,106.2 266.3,106.7 266.3,107.1 266.3,107.2 266.3,107.5 266.3,107.9 266.3,108.3 266.4,108.8 266.4,109.2 266.4,109.6 266.4,110 266.3,110.4 266,110.9 265.6,111.3 265.2,111.7 264.7,112.1 264.1,112.5 263.4,113 262.7,113.4" fill="#f1e021" fill-opacity="0.55"/>
<polygon points="280.7,113.4 280,113 279.4,112.5 278.8,112.1 278.3,111.7 277.9,111.3 277.6,110.9 277.3,110.4 277.2,110 277.2,109.6 277.2,109.2 277.2,108.8 277.3,108.3 277.3,107.9 277.3,107.5 277.3,107.2 277.3,107.1 277.3,106.7 277.3,106.2 277.3,105.8 277.2,105.4 277.1,105 277.1,105 277,105.4 276.9,105.8 276.9,106.2 276.9,106.7 276.9,107.1 276.9,107.2 276.9,107.5 276.9,107.9 276.9,108.3 277,108.8 277,109.2 277,109.6 277,110 276.9,110.4 276.6,110.9 276.3,111.3 275.9,111.7 275.4,112.1 274.8,112.5 274.2,113 273.5,113.4" fill="#f1e021" fill-opacity="0.45"/>
<text x="210" y="120.5" font-size="6.9" font-style="italic" stroke="#222" stroke-width="0.12" fill="#222">CXCR4</text>
<polygon points="217.3,136.6 216.8,136 216.3,135.4 215.8,134.9 215.4,134.3 215,133.7 214.6,133.2 214.2,132.6 214.3,132 214.9,131.5 215.5,130.9 216,130.3 216.4,129.8 216.9,129.2 217.2,128.6 217.5,128.2 217.5,128.1 217.2,127.5 216.7,127 216.1,126.4 215.2,125.8 213.5,125.3 213.5,125.3 211.8,125.8 210.9,126.4 210.3,127 209.8,127.5 209.5,128.1 209.5,128.2 209.8,128.6 210.1,129.2 210.6,129.8 211,130.3 211.5,130.9 212.1,131.5 212.7,132 212.8,132.6 212.4,133.2 212,133.7 211.6,134.3 211.2,134.9 210.7,135.4 210.2,136 209.7,136.6" fill="#d84524"/>
<polygon points="227.1,136.6 226.7,136 226.3,135.4 225.9,134.8 225.5,134.2 225.2,133.7 224.9,133.1 224.7,132.5 224.8,131.9 225.4,131.4 226,130.8 226.6,130.2 227.1,129.6 227.6,129 228,128.5 228.3,127.9 228.3,127.9 228,127.3 227.5,126.7 226.9,126.1 225.9,125.6 224.1,125 224.1,125 222.3,125.6 221.3,126.1 220.7,126.7 220.2,127.3 219.9,127.9 219.9,127.9 220.2,128.5 220.6,129 221.1,129.6 221.6,130.2 222.2,130.8 222.8,131.4 223.4,131.9 223.5,132.5 223.3,133.1 223,133.7 222.7,134.2 222.3,134.8 221.9,135.4 221.5,136 221.1,136.6" fill="#d22e21"/>
<polygon points="239.1,136.6 238,136 237,135.4 236.2,134.9 235.5,134.3 235,133.7 234.8,133.2 235,132.6 235.4,132 235.9,131.5 236.4,130.9 236.8,130.3 237.3,129.8 237.7,129.2 237.7,129.2 237.2,128.6 236.8,128.1 236.4,127.5 236,127 235.5,126.4 235.1,125.8 234.7,125.3 234.7,125.3 234.3,125.8 233.8,126.4 233.4,127 233,127.5 232.6,128.1 232.1,128.6 231.7,129.2 231.7,129.2 232.1,129.8 232.6,130.3 233,130.9 233.5,131.5 233.9,132 234.4,132.6 234.6,133.2 234.4,133.7 233.9,134.3 233.2,134.9 232.4,135.4 231.4,136 230.3,136.6" fill="#df6d26"/>
<polygon points="248.3,136.6 247.9,136 247.5,135.4 247.1,134.8 246.7,134.2 246.4,133.7 246.1,133.1 245.9,132.5 246,131.9 246.6,131.4 247.1,130.8 247.7,130.2 248.1,129.6 248.6,129 249,128.5 249.3,127.9 249.3,127.9 249,127.3 248.6,126.7 247.9,126.1 247,125.6 245.3,125 245.3,125 243.6,125.6 242.7,126.1 242,126.7 241.6,127.3 241.3,127.9 241.3,127.9 241.6,128.5 242,129 242.5,129.6 242.9,130.2 243.5,130.8 244,131.4 244.6,131.9 244.7,132.5 244.5,133.1 244.2,133.7 243.9,134.2 243.5,134.8 243.1,135.4 242.7,136 242.3,136.6" fill="#d63a24"/>
<polygon points="260.3,136.6 259.2,136 258.2,135.4 257.4,134.9 256.7,134.3 256.2,133.7 256,133.2 256.3,132.6 256.9,132 257.4,131.5 258,130.9 258.6,130.3 259.2,129.8 259.7,129.2 259.7,129.2 259.1,128.6 258.6,128.1 258.1,127.5 257.5,127 257,126.4 256.4,125.8 255.9,125.3 255.9,125.3 255.4,125.8 254.8,126.4 254.3,127 253.7,127.5 253.2,128.1 252.7,128.6 252.1,129.2 252.1,129.2 252.6,129.8 253.2,130.3 253.8,130.9 254.4,131.5 255,132 255.5,132.6 255.8,133.2 255.6,133.7 255.1,134.3 254.4,134.9 253.6,135.4 252.6,136 251.5,136.6" fill="#db5c25"/>
<polygon points="270.8,136.6 270.2,136 269.6,135.4 269.1,134.9 268.6,134.3 268.1,133.7 267.7,133.2 267.3,132.6 267.2,132 267.7,131.5 268.1,130.9 268.5,130.3 268.9,129.8 269.3,129.2 269.6,128.6 269.8,128.2 269.8,128.1 269.6,127.5 269.2,127 268.6,126.4 267.9,125.8 266.5,125.3 266.5,125.3 265.1,125.8 264.4,126.4 263.8,127 263.4,127.5 263.2,128.1 263.2,128.2 263.4,128.6 263.7,129.2 264.1,129.8 264.5,130.3 264.9,130.9 265.3,131.5 265.8,132 265.7,132.6 265.3,133.2 264.9,133.7 264.4,134.3 263.9,134.9 263.4,135.4 262.8,136 262.2,136.6" fill="#de6726"/>
<polygon points="281.4,136.6 280.2,136 279.2,135.4 278.4,134.8 277.8,134.2 277.6,133.6 277.6,133 277.6,132.4 277.6,131.8 277.6,131.2 277.6,130.6 277.6,130 277.6,129.4 277.6,128.8 278,128.2 278.4,127.6 278.5,127 278.6,126.6 278.6,126.4 278.5,125.8 278.2,125.2 277.1,124.6 277.1,124.6 276,125.2 275.7,125.8 275.6,126.4 275.6,126.6 275.7,127 275.8,127.6 276.2,128.2 276.7,128.8 276.7,129.4 276.7,130 276.7,130.6 276.7,131.2 276.7,131.8 276.7,132.4 276.7,133 276.7,133.6 276.4,134.2 275.8,134.8 275,135.4 274,136 272.8,136.6" fill="#e37f28"/>
<text x="210" y="143.7" font-size="6.9" font-style="italic" stroke="#222" stroke-width="0.12" fill="#222">CCR7</text>
<polygon points="218.1,159.8 217.5,159.3 216.9,158.8 216.4,158.4 215.9,157.9 215.5,157.5 215.1,157 214.8,156.6 214.5,156.1 214.2,155.7 214,155.2 213.8,154.8 213.7,154.3 213.7,153.9 213.7,153.6 213.7,153.4 213.7,153 213.7,152.5 213.7,152.1 213.7,151.6 213.6,151.2 213.5,150.7 213.5,150.7 213.4,151.2 213.3,151.6 213.3,152.1 213.3,152.5 213.3,153 213.3,153.4 213.3,153.6 213.3,153.9 213.3,154.3 213.2,154.8 213,155.2 212.8,155.7 212.5,156.1 212.2,156.6 211.9,157 211.5,157.5 211.1,157.9 210.6,158.4 210.1,158.8 209.5,159.3 208.9,159.8" fill="#f1dd22"/>
<polygon points="228.5,159.8 228,159.4 227.5,159 227.1,158.6 226.7,158.2 226.3,157.8 226,157.4 225.7,157.1 225.4,156.7 225.1,156.3 224.9,155.9 224.7,155.5 224.5,155.1 224.4,154.7 224.3,154.4 224.3,154.2 224.3,154 224.3,153.6 224.3,153.2 224.3,152.8 224.2,152.4 224.1,152 224.1,152 224,152.4 223.9,152.8 223.9,153.2 223.9,153.6 223.9,154 223.9,154.2 223.9,154.4 223.8,154.7 223.7,155.1 223.5,155.5 223.3,155.9 223.1,156.3 222.8,156.7 222.5,157.1 222.2,157.4 221.9,157.8 221.5,158.2 221.1,158.6 220.7,159 220.2,159.4 219.7,159.8" fill="#f1e021"/>
<polygon points="239.5,159.8 238.9,159.3 238.4,158.9 237.9,158.5 237.4,158.1 237,157.7 236.6,157.2 236.2,156.8 235.9,156.4 235.6,156 235.4,155.6 235.2,155.1 235,154.7 235,154.3 235,153.9 235,153.9 235,153.5 235,153 235,152.6 234.9,152.2 234.9,151.8 234.7,151.4 234.7,151.4 234.5,151.8 234.5,152.2 234.4,152.6 234.4,153 234.4,153.5 234.4,153.9 234.4,153.9 234.4,154.3 234.4,154.7 234.2,155.1 234,155.6 233.8,156 233.5,156.4 233.2,156.8 232.8,157.2 232.4,157.7 232,158.1 231.5,158.5 231,158.9 230.5,159.3 229.9,159.8" fill="#f1da23"/>
<polygon points="248.9,159.8 248.4,159.4 247.9,159.1 247.4,158.8 247,158.5 246.6,158.2 246.3,157.8 246,157.5 245.7,157.2 245.6,156.9 245.4,156.6 245.4,156.2 245.4,155.9 245.4,155.6 245.5,155.3 245.5,155 245.5,154.7 245.5,154.6 245.5,154.3 245.4,154 245.4,153.7 245.3,153.4 245.3,153.4 245.2,153.7 245.2,154 245.1,154.3 245.1,154.6 245.1,154.7 245.1,155 245.1,155.3 245.2,155.6 245.2,155.9 245.2,156.2 245.2,156.6 245,156.9 244.9,157.2 244.6,157.5 244.3,157.8 244,158.2 243.6,158.5 243.2,158.8 242.7,159.1 242.2,159.4 241.7,159.8" fill="#f1e021" fill-opacity="0.45"/>
<polygon points="260.3,159.8 259.2,159.2 258.3,158.7 257.5,158.2 256.9,157.6 256.4,157.1 256,156.6 256,156 256.1,155.5 256.3,155 256.4,154.4 256.5,153.9 256.6,153.4 256.6,152.8 256.6,152.4 256.6,152.3 256.6,151.8 256.6,151.2 256.5,150.7 256.4,150.2 256.2,149.6 255.9,149.1 255.9,149.1 255.6,149.6 255.4,150.2 255.3,150.7 255.2,151.2 255.2,151.8 255.2,152.3 255.2,152.4 255.2,152.8 255.2,153.4 255.3,153.9 255.4,154.4 255.5,155 255.7,155.5 255.8,156 255.8,156.6 255.4,157.1 254.9,157.6 254.3,158.2 253.5,158.7 252.6,159.2 251.5,159.8" fill="#e7902a"/>
<polygon points="269.5,159.8 269.1,159.5 268.8,159.2 268.5,159 268.2,158.7 267.9,158.5 267.7,158.2 267.4,158 267.2,157.7 267,157.5 266.9,157.2 266.8,157 266.6,156.7 266.6,156.5 266.6,156.2 266.6,156 266.6,156 266.6,155.7 266.6,155.5 266.6,155.2 266.6,154.9 266.5,154.7 266.5,154.7 266.4,154.9 266.4,155.2 266.4,155.5 266.4,155.7 266.4,156 266.4,156 266.4,156.2 266.4,156.5 266.4,156.7 266.2,157 266.1,157.2 266,157.5 265.8,157.7 265.6,158 265.3,158.2 265.1,158.5 264.8,158.7 264.5,159 264.2,159.2 263.9,159.5 263.5,159.8" fill="#f1e021" fill-opacity="0.35"/>
<polygon points="280.1,159.8 279.7,159.5 279.4,159.2 279.1,159 278.8,158.7 278.5,158.5 278.3,158.2 278,158 277.8,157.7 277.6,157.5 277.5,157.2 277.4,157 277.2,156.7 277.2,156.5 277.2,156.2 277.2,156 277.2,156 277.2,155.7 277.2,155.5 277.2,155.2 277.2,154.9 277.1,154.7 277.1,154.7 277,154.9 277,155.2 277,155.5 277,155.7 277,156 277,156 277,156.2 277,156.5 277,156.7 276.8,157 276.7,157.2 276.6,157.5 276.4,157.7 276.2,158 275.9,158.2 275.7,158.5 275.4,158.7 275.1,159 274.8,159.2 274.5,159.5 274.1,159.8" fill="#f1e021" fill-opacity="0.35"/>
<text x="210" y="166.8" font-size="6.9" font-style="italic" stroke="#222" stroke-width="0.12" fill="#222">CXCR1</text>
<polygon points="217.8,182.9 217.6,182.6 217.4,182.3 217.2,182 217,181.7 216.7,181.4 216.5,181.1 216.3,180.8 216.1,180.5 215.9,180.2 215.7,179.9 215.5,179.6 215.3,179.3 215.1,179 214.9,178.8 214.6,178.5 214.4,178.2 214.2,177.9 214,177.6 213.8,177.3 213.5,177 213.5,177 213.2,177.3 213,177.6 212.8,177.9 212.6,178.2 212.4,178.5 212.1,178.8 211.9,179 211.7,179.3 211.5,179.6 211.3,179.9 211.1,180.2 210.9,180.5 210.7,180.8 210.5,181.1 210.3,181.4 210,181.7 209.8,182 209.6,182.3 209.4,182.6 209.2,182.9" fill="#f1d923"/>
<polygon points="228.4,182.9 228.2,182.6 228,182.3 227.8,182 227.6,181.7 227.3,181.4 227.1,181.1 226.9,180.8 226.7,180.5 226.5,180.2 226.3,179.9 226.1,179.6 225.9,179.3 225.7,179 225.5,178.8 225.2,178.5 225,178.2 224.8,177.9 224.6,177.6 224.4,177.3 224.1,177 224.1,177 223.8,177.3 223.6,177.6 223.4,177.9 223.2,178.2 223,178.5 222.7,178.8 222.5,179 222.3,179.3 222.1,179.6 221.9,179.9 221.7,180.2 221.5,180.5 221.3,180.8 221.1,181.1 220.9,181.4 220.6,181.7 220.4,182 220.2,182.3 220,182.6 219.8,182.9" fill="#f1d923"/>
<polygon points="239,182.9 238.8,182.6 238.6,182.3 238.4,182 238.2,181.7 237.9,181.4 237.7,181.1 237.5,180.8 237.3,180.5 237.1,180.2 236.9,179.9 236.7,179.6 236.5,179.3 236.3,179 236.1,178.8 235.8,178.5 235.6,178.2 235.4,177.9 235.2,177.6 235,177.3 234.7,177 234.7,177 234.4,177.3 234.2,177.6 234,177.9 233.8,178.2 233.6,178.5 233.3,178.8 233.1,179 232.9,179.3 232.7,179.6 232.5,179.9 232.3,180.2 232.1,180.5 231.9,180.8 231.7,181.1 231.5,181.4 231.2,181.7 231,182 230.8,182.3 230.6,182.6 230.4,182.9" fill="#f1d923"/>
<polygon points="248.9,182.9 248.3,182.6 247.7,182.2 247.1,181.8 246.7,181.4 246.3,181 245.9,180.6 245.7,180.2 245.5,179.9 245.4,179.5 245.4,179.1 245.4,178.7 245.4,178.3 245.5,177.9 245.5,177.5 245.5,177.2 245.5,177.1 245.5,176.8 245.5,176.4 245.4,176 245.4,175.6 245.3,175.2 245.3,175.2 245.2,175.6 245.2,176 245.1,176.4 245.1,176.8 245.1,177.1 245.1,177.2 245.1,177.5 245.1,177.9 245.2,178.3 245.2,178.7 245.2,179.1 245.2,179.5 245.1,179.9 244.9,180.2 244.7,180.6 244.3,181 243.9,181.4 243.5,181.8 242.9,182.2 242.3,182.6 241.7,182.9" fill="#f1e021" fill-opacity="0.42"/>
<polygon points="259.5,182.9 258.9,182.6 258.3,182.2 257.7,181.8 257.3,181.4 256.9,181 256.5,180.6 256.3,180.2 256.1,179.9 256,179.5 256,179.1 256,178.7 256.1,178.3 256.1,177.9 256.1,177.5 256.1,177.2 256.1,177.1 256.1,176.8 256.1,176.4 256.1,176 256,175.6 255.9,175.2 255.9,175.2 255.8,175.6 255.7,176 255.7,176.4 255.7,176.8 255.7,177.1 255.7,177.2 255.7,177.5 255.7,177.9 255.7,178.3 255.8,178.7 255.8,179.1 255.8,179.5 255.7,179.9 255.5,180.2 255.3,180.6 254.9,181 254.5,181.4 254.1,181.8 253.5,182.2 252.9,182.6 252.3,182.9" fill="#f1e021" fill-opacity="0.5"/>
<polygon points="269.5,182.9 269.1,182.7 268.8,182.4 268.5,182.2 268.2,181.9 267.9,181.7 267.7,181.4 267.4,181.2 267.2,180.9 267,180.7 266.9,180.4 266.8,180.2 266.6,179.9 266.6,179.7 266.6,179.4 266.6,179.2 266.6,179.1 266.6,178.9 266.6,178.6 266.6,178.4 266.6,178.1 266.5,177.9 266.5,177.9 266.4,178.1 266.4,178.4 266.4,178.6 266.4,178.9 266.4,179.1 266.4,179.2 266.4,179.4 266.4,179.7 266.4,179.9 266.2,180.2 266.1,180.4 266,180.7 265.8,180.9 265.6,181.2 265.3,181.4 265.1,181.7 264.8,181.9 264.5,182.2 264.2,182.4 263.9,182.7 263.5,182.9" fill="#f1e021" fill-opacity="0.35"/>
<polygon points="280.1,182.9 279.7,182.7 279.4,182.4 279.1,182.2 278.8,181.9 278.5,181.7 278.3,181.4 278,181.2 277.8,180.9 277.6,180.7 277.5,180.4 277.4,180.2 277.2,179.9 277.2,179.7 277.2,179.4 277.2,179.2 277.2,179.1 277.2,178.9 277.2,178.6 277.2,178.4 277.2,178.1 277.1,177.9 277.1,177.9 277,178.1 277,178.4 277,178.6 277,178.9 277,179.1 277,179.2 277,179.4 277,179.7 277,179.9 276.8,180.2 276.7,180.4 276.6,180.7 276.4,180.9 276.2,181.2 275.9,181.4 275.7,181.7 275.4,181.9 275.1,182.2 274.8,182.4 274.5,182.7 274.1,182.9" fill="#f1e021" fill-opacity="0.35"/>
<text x="210" y="190" font-size="6.9" font-style="italic" stroke="#222" stroke-width="0.12" fill="#222">S1PR5</text>
<polygon points="217.9,206.1 216.8,205.6 215.9,205.1 215.1,204.5 214.5,204 214,203.5 213.6,202.9 213.8,202.4 214,201.9 214.2,201.3 214.5,200.8 214.7,200.3 214.9,199.7 215,199.5 214.9,199.2 214.7,198.7 214.5,198.2 214.3,197.6 214.1,197.1 213.9,196.6 213.7,196 213.5,195.5 213.5,195.5 213.3,196 213.1,196.6 212.9,197.1 212.7,197.6 212.5,198.2 212.3,198.7 212.1,199.2 212,199.5 212.1,199.7 212.3,200.3 212.5,200.8 212.8,201.3 213,201.9 213.2,202.4 213.4,202.9 213,203.5 212.5,204 211.9,204.5 211.1,205.1 210.2,205.6 209.1,206.1" fill="#e68a29"/>
<polygon points="228.5,206.1 227.4,205.6 226.5,205.1 225.7,204.5 225.1,204 224.6,203.5 224.2,202.9 224.4,202.4 224.6,201.9 224.8,201.3 225.1,200.8 225.3,200.3 225.5,199.7 225.6,199.5 225.5,199.2 225.3,198.7 225.1,198.2 224.9,197.6 224.7,197.1 224.5,196.6 224.3,196 224.1,195.5 224.1,195.5 223.9,196 223.7,196.6 223.5,197.1 223.3,197.6 223.1,198.2 222.9,198.7 222.7,199.2 222.6,199.5 222.7,199.7 222.9,200.3 223.1,200.8 223.3,201.3 223.6,201.9 223.8,202.4 224,202.9 223.6,203.5 223.1,204 222.5,204.5 221.7,205.1 220.8,205.6 219.7,206.1" fill="#e68a29"/>
<polygon points="239.1,206.1 238.1,205.6 237.1,205.1 236.4,204.6 235.7,204.1 235.2,203.5 234.9,203 234.8,202.5 234.8,202 235,201.5 235.1,200.9 235.2,200.4 235.3,199.9 235.3,199.4 235.3,198.9 235.3,198.9 235.3,198.3 235.2,197.8 235.2,197.3 235.1,196.8 235,196.3 234.7,195.8 234.7,195.8 234.4,196.3 234.3,196.8 234.2,197.3 234.2,197.8 234.1,198.3 234.1,198.9 234.1,198.9 234.1,199.4 234.1,199.9 234.2,200.4 234.3,200.9 234.4,201.5 234.6,202 234.6,202.5 234.5,203 234.2,203.5 233.7,204.1 233,204.6 232.3,205.1 231.3,205.6 230.3,206.1" fill="#edb429"/>
<polygon points="249.7,206.1 248.6,205.6 247.7,205.1 246.9,204.5 246.3,204 245.8,203.5 245.8,202.9 245.8,202.4 245.8,201.9 245.8,201.3 245.8,200.8 245.8,200.3 245.8,199.7 246.4,199.2 246.9,198.7 247.1,198.2 247.3,197.6 247.3,197.5 247.3,197.1 247.1,196.6 246.7,196 245.3,195.5 245.3,195.5 243.9,196 243.5,196.6 243.3,197.1 243.3,197.5 243.3,197.6 243.5,198.2 243.7,198.7 244.2,199.2 244.9,199.7 244.9,200.3 244.9,200.8 244.9,201.3 244.9,201.9 244.9,202.4 244.9,202.9 244.8,203.5 244.3,204 243.7,204.5 242.9,205.1 242,205.6 240.9,206.1" fill="#e37f28"/>
<polygon points="260.3,206.1 259.4,205.7 258.6,205.2 257.8,204.8 257.2,204.3 256.7,203.9 256.3,203.4 256,203 256,202.5 256,202.1 256.2,201.6 256.2,201.2 256.3,200.7 256.4,200.3 256.4,199.8 256.4,199.6 256.4,199.3 256.3,198.9 256.3,198.4 256.2,198 256.1,197.5 255.9,197.1 255.9,197.1 255.7,197.5 255.6,198 255.5,198.4 255.5,198.9 255.4,199.3 255.4,199.6 255.4,199.8 255.4,200.3 255.5,200.7 255.6,201.2 255.6,201.6 255.8,202.1 255.8,202.5 255.8,203 255.5,203.4 255.1,203.9 254.6,204.3 254,204.8 253.2,205.2 252.4,205.7 251.5,206.1" fill="#f0c928"/>
<polygon points="270.9,206.1 269.8,205.6 268.9,205.1 268.1,204.5 267.5,204 267,203.5 266.9,202.9 266.9,202.4 266.9,201.9 266.9,201.3 266.9,200.8 266.9,200.3 266.9,199.7 267.5,199.2 267.9,198.7 268.2,198.2 268.3,197.6 268.3,197.5 268.3,197.1 268.1,196.6 267.7,196 266.5,195.5 266.5,195.5 265.3,196 264.9,196.6 264.7,197.1 264.7,197.5 264.7,197.6 264.8,198.2 265.1,198.7 265.5,199.2 266.1,199.7 266.1,200.3 266.1,200.8 266.1,201.3 266.1,201.9 266.1,202.4 266.1,202.9 266,203.5 265.5,204 264.9,204.5 264.1,205.1 263.2,205.6 262.1,206.1" fill="#e68a29"/>
<polygon points="281.5,206.1 280.3,205.5 279.3,205 278.5,204.4 277.8,203.8 277.4,203.2 277.2,202.6 277.2,202 277.4,201.4 277.5,200.9 277.6,200.3 277.6,199.7 277.7,199.1 277.7,198.5 277.7,198.3 277.7,197.9 277.7,197.4 277.6,196.8 277.6,196.2 277.5,195.6 277.4,195 277.1,194.4 277.1,194.4 276.8,195 276.7,195.6 276.6,196.2 276.6,196.8 276.5,197.4 276.5,197.9 276.5,198.3 276.5,198.5 276.5,199.1 276.6,199.7 276.6,200.3 276.7,200.9 276.8,201.4 277,202 277,202.6 276.8,203.2 276.4,203.8 275.7,204.4 274.9,205 273.9,205.5 272.7,206.1" fill="#edb429"/>
<text x="210" y="213.2" font-size="6.9" font-style="italic" stroke="#222" stroke-width="0.12" fill="#222">ITGAL (LFA-1)</text>
<polygon points="217.9,229.3 216.9,228.8 216,228.3 215.2,227.8 214.6,227.3 214.1,226.8 213.8,226.3 214,225.8 214.2,225.3 214.5,224.8 214.7,224.3 214.9,223.8 215.1,223.3 214.9,222.8 214.7,222.3 214.5,221.8 214.3,221.3 214.1,220.8 213.9,220.3 213.7,219.8 213.5,219.3 213.5,219.3 213.3,219.8 213.1,220.3 212.9,220.8 212.7,221.3 212.5,221.8 212.3,222.3 212.1,222.8 211.9,223.3 212.1,223.8 212.3,224.3 212.5,224.8 212.8,225.3 213,225.8 213.2,226.3 212.9,226.8 212.4,227.3 211.8,227.8 211,228.3 210.1,228.8 209.1,229.3" fill="#e48429"/>
<polygon points="228.5,229.3 227.5,228.8 226.6,228.3 225.8,227.8 225.2,227.3 224.7,226.8 224.4,226.3 224.5,225.8 224.7,225.3 224.9,224.8 225.1,224.3 225.2,223.8 225.4,223.3 225.2,222.8 225.1,222.3 224.9,221.8 224.8,221.3 224.6,220.8 224.4,220.3 224.3,219.8 224.1,219.3 224.1,219.3 223.9,219.8 223.8,220.3 223.6,220.8 223.4,221.3 223.3,221.8 223.1,222.3 223,222.8 222.8,223.3 223,223.8 223.1,224.3 223.3,224.8 223.5,225.3 223.7,225.8 223.8,226.3 223.5,226.8 223,227.3 222.4,227.8 221.6,228.3 220.7,228.8 219.7,229.3" fill="#e7902a"/>
<polygon points="239.1,229.3 238.1,228.8 237.2,228.3 236.4,227.8 235.8,227.3 235.3,226.8 235.1,226.3 235.3,225.8 235.5,225.3 235.8,224.8 236,224.3 236.3,223.8 236.5,223.3 236.3,222.8 236,222.3 235.8,221.8 235.6,221.3 235.4,220.8 235.1,220.3 234.9,219.8 234.7,219.3 234.7,219.3 234.5,219.8 234.2,220.3 234,220.8 233.8,221.3 233.6,221.8 233.3,222.3 233.1,222.8 232.9,223.3 233.1,223.8 233.4,224.3 233.6,224.8 233.9,225.3 234.1,225.8 234.3,226.3 234.1,226.8 233.6,227.3 233,227.8 232.2,228.3 231.3,228.8 230.3,229.3" fill="#e48429"/>
<polygon points="249.7,229.3 248.7,228.8 247.7,228.3 247,227.8 246.3,227.2 245.8,226.7 245.5,226.2 245.4,225.7 245.4,225.2 245.6,224.7 245.7,224.1 245.8,223.6 245.9,223.1 245.9,222.6 245.9,222.1 245.9,222.1 245.9,221.5 245.8,221 245.8,220.5 245.7,220 245.6,219.5 245.3,218.9 245.3,218.9 245,219.5 244.9,220 244.8,220.5 244.8,221 244.7,221.5 244.7,222.1 244.7,222.1 244.7,222.6 244.7,223.1 244.8,223.6 244.9,224.1 245,224.7 245.2,225.2 245.2,225.7 245.1,226.2 244.8,226.7 244.3,227.2 243.6,227.8 242.9,228.3 241.9,228.8 240.9,229.3" fill="#edb429"/>
<polygon points="260.3,229.3 259.3,228.8 258.5,228.3 257.7,227.9 257.1,227.4 256.6,226.9 256.2,226.4 256,225.9 256,225.4 256.1,225 256.3,224.5 256.4,224 256.4,223.5 256.5,223 256.5,222.5 256.5,222.5 256.5,222 256.4,221.6 256.4,221.1 256.3,220.6 256.2,220.1 255.9,219.6 255.9,219.6 255.6,220.1 255.5,220.6 255.4,221.1 255.4,221.6 255.3,222 255.3,222.5 255.3,222.5 255.3,223 255.4,223.5 255.4,224 255.5,224.5 255.7,225 255.8,225.4 255.8,225.9 255.6,226.4 255.2,226.9 254.7,227.4 254.1,227.9 253.3,228.3 252.5,228.8 251.5,229.3" fill="#eeba28"/>
<polygon points="270.9,229.3 270,228.9 269.1,228.4 268.4,227.9 267.8,227.5 267.3,227 266.9,226.5 267.1,226.1 267.3,225.6 267.5,225.1 267.6,224.7 267.8,224.2 267.9,224 267.8,223.7 267.6,223.3 267.5,222.8 267.3,222.3 267.2,221.9 267,221.4 266.8,220.9 266.7,220.5 266.5,220 266.5,220 266.3,220.5 266.2,220.9 266,221.4 265.8,221.9 265.7,222.3 265.5,222.8 265.4,223.3 265.2,223.7 265.1,224 265.2,224.2 265.4,224.7 265.5,225.1 265.7,225.6 265.9,226.1 266.1,226.5 265.7,227 265.2,227.5 264.6,227.9 263.9,228.4 263,228.9 262.1,229.3" fill="#e7902a"/>
<polygon points="281.5,229.3 280.4,228.8 279.5,228.3 278.7,227.7 278.1,227.2 277.6,226.7 277.4,226.1 277.7,225.6 277.8,225.1 278,224.5 278.2,224 278.3,223.5 278.4,222.9 278.4,222.7 278.4,222.4 278.3,221.9 278.3,221.3 278.1,220.8 278,220.3 277.8,219.7 277.6,219.2 277.1,218.7 277.1,218.7 276.6,219.2 276.4,219.7 276.2,220.3 276.1,220.8 275.9,221.3 275.9,221.9 275.8,222.4 275.8,222.7 275.8,222.9 275.9,223.5 276,224 276.2,224.5 276.4,225.1 276.5,225.6 276.8,226.1 276.6,226.7 276.1,227.2 275.5,227.7 274.7,228.3 273.8,228.8 272.7,229.3" fill="#e68a29"/>
<text x="210" y="236.4" font-size="6.9" font-style="italic" stroke="#222" stroke-width="0.12" fill="#222">CD2</text>
<polygon points="217.9,252.5 216.8,252 215.9,251.4 215.1,250.9 214.5,250.4 214,249.8 213.6,249.3 213.8,248.8 214,248.3 214.2,247.7 214.5,247.2 214.7,246.7 214.9,246.1 215,245.9 214.9,245.6 214.7,245.1 214.5,244.5 214.3,244 214.1,243.5 213.9,242.9 213.7,242.4 213.5,241.9 213.5,241.9 213.3,242.4 213.1,242.9 212.9,243.5 212.7,244 212.5,244.5 212.3,245.1 212.1,245.6 212,245.9 212.1,246.1 212.3,246.7 212.5,247.2 212.8,247.7 213,248.3 213.2,248.8 213.4,249.3 213,249.8 212.5,250.4 211.9,250.9 211.1,251.4 210.2,252 209.1,252.5" fill="#e68a29"/>
<polygon points="228.5,252.5 227.4,252 226.4,251.4 225.6,250.9 225,250.3 224.5,249.8 224.2,249.2 224.2,248.6 224.4,248.1 224.6,247.5 224.7,247 224.7,246.4 224.8,245.9 224.8,245.3 224.8,245 224.8,244.8 224.8,244.2 224.8,243.7 224.7,243.1 224.6,242.6 224.4,242 224.1,241.5 224.1,241.5 223.8,242 223.6,242.6 223.5,243.1 223.4,243.7 223.4,244.2 223.4,244.8 223.3,245 223.4,245.3 223.4,245.9 223.5,246.4 223.5,247 223.6,247.5 223.8,248.1 224,248.6 224,249.2 223.7,249.8 223.2,250.3 222.6,250.9 221.8,251.4 220.8,252 219.7,252.5" fill="#e99b2a"/>
<polygon points="239.1,252.5 238.1,252 237.3,251.5 236.5,251.1 235.9,250.6 235.4,250.1 235,249.6 234.8,249.1 234.8,248.6 234.9,248.1 235,247.7 235.1,247.2 235.2,246.7 235.2,246.2 235.2,245.7 235.2,245.7 235.2,245.2 235.2,244.7 235.1,244.3 235.1,243.8 235,243.3 234.7,242.8 234.7,242.8 234.4,243.3 234.3,243.8 234.3,244.3 234.2,244.7 234.2,245.2 234.2,245.7 234.2,245.7 234.2,246.2 234.2,246.7 234.3,247.2 234.4,247.7 234.5,248.1 234.6,248.6 234.6,249.1 234.4,249.6 234,250.1 233.5,250.6 232.9,251.1 232.1,251.5 231.3,252 230.3,252.5" fill="#eeba28"/>
<polygon points="249.7,252.5 248.7,252 247.9,251.5 247.1,251.1 246.5,250.6 246,250.1 245.6,249.6 245.4,249.1 245.4,248.6 245.5,248.1 245.6,247.7 245.7,247.2 245.8,246.7 245.8,246.2 245.8,245.7 245.8,245.7 245.8,245.2 245.8,244.7 245.7,244.3 245.7,243.8 245.6,243.3 245.3,242.8 245.3,242.8 245,243.3 244.9,243.8 244.9,244.3 244.8,244.7 244.8,245.2 244.8,245.7 244.8,245.7 244.8,246.2 244.8,246.7 244.9,247.2 245,247.7 245.1,248.1 245.2,248.6 245.2,249.1 245,249.6 244.6,250.1 244.1,250.6 243.5,251.1 242.7,251.5 241.9,252 240.9,252.5" fill="#eeba28"/>
<polygon points="259.4,252.5 258.9,251.9 258.5,251.4 258,250.8 257.6,250.2 257.2,249.7 256.9,249.1 256.6,248.6 256.7,248 257.3,247.4 257.9,246.9 258.4,246.3 258.8,245.7 259.3,245.2 259.6,244.6 259.9,244.1 259.9,244 259.6,243.5 259.1,242.9 258.5,242.3 257.6,241.8 255.9,241.2 255.9,241.2 254.2,241.8 253.3,242.3 252.7,242.9 252.2,243.5 251.9,244 251.9,244.1 252.2,244.6 252.5,245.2 253,245.7 253.4,246.3 253.9,246.9 254.5,247.4 255.1,248 255.2,248.6 254.9,249.1 254.6,249.7 254.2,250.2 253.8,250.8 253.3,251.4 252.9,251.9 252.4,252.5" fill="#d74024"/>
<polygon points="270.9,252.5 269.8,252 268.9,251.4 268.1,250.9 267.5,250.4 267,249.8 266.6,249.3 266.8,248.8 267,248.3 267.2,247.7 267.5,247.2 267.7,246.7 267.9,246.1 268,245.9 267.9,245.6 267.7,245.1 267.5,244.5 267.3,244 267.1,243.5 266.9,242.9 266.7,242.4 266.5,241.9 266.5,241.9 266.3,242.4 266.1,242.9 265.9,243.5 265.7,244 265.5,244.5 265.3,245.1 265.1,245.6 265,245.9 265.1,246.1 265.3,246.7 265.5,247.2 265.8,247.7 266,248.3 266.2,248.8 266.4,249.3 266,249.8 265.5,250.4 264.9,250.9 264.1,251.4 263.2,252 262.1,252.5" fill="#e48429"/>
<polygon points="281.5,252.5 280.6,252.1 279.8,251.6 279,251.2 278.4,250.7 277.9,250.2 277.5,249.8 277.2,249.3 277.2,248.9 277.2,248.4 277.4,248 277.4,247.5 277.5,247.1 277.6,246.6 277.6,246.2 277.6,246 277.6,245.7 277.5,245.3 277.5,244.8 277.4,244.4 277.3,243.9 277.1,243.5 277.1,243.5 276.9,243.9 276.8,244.4 276.7,244.8 276.7,245.3 276.6,245.7 276.6,246 276.6,246.2 276.6,246.6 276.7,247.1 276.8,247.5 276.8,248 277,248.4 277,248.9 277,249.3 276.7,249.8 276.3,250.2 275.8,250.7 275.2,251.2 274.4,251.6 273.6,252.1 272.7,252.5" fill="#f0c928"/>
<text x="210" y="259.6" font-size="6.9" font-style="italic" stroke="#222" stroke-width="0.12" fill="#222">CD58</text>
<polygon points="217.9,275.7 216.9,275.2 215.9,274.7 215.2,274.1 214.5,273.6 214,273.1 213.7,272.6 213.6,272.1 213.6,271.6 213.8,271 213.9,270.5 214,270 214.1,269.5 214.1,269 214.1,268.5 214.1,268.4 214.1,267.9 214,267.4 214,266.9 213.9,266.4 213.8,265.8 213.5,265.3 213.5,265.3 213.2,265.8 213.1,266.4 213,266.9 213,267.4 212.9,267.9 212.9,268.4 212.9,268.5 212.9,269 212.9,269.5 213,270 213.1,270.5 213.2,271 213.4,271.6 213.4,272.1 213.3,272.6 213,273.1 212.5,273.6 211.8,274.1 211.1,274.7 210.1,275.2 209.1,275.7" fill="#eeba28"/>
<polygon points="228.5,275.7 227.5,275.2 226.5,274.7 225.8,274.1 225.1,273.6 224.6,273.1 224.3,272.6 224.2,272.1 224.2,271.6 224.4,271 224.5,270.5 224.6,270 224.7,269.5 224.7,269 224.7,268.5 224.7,268.4 224.7,267.9 224.6,267.4 224.6,266.9 224.5,266.4 224.4,265.8 224.1,265.3 224.1,265.3 223.8,265.8 223.7,266.4 223.6,266.9 223.6,267.4 223.5,267.9 223.5,268.4 223.5,268.5 223.5,269 223.5,269.5 223.6,270 223.7,270.5 223.8,271 224,271.6 224,272.1 223.9,272.6 223.6,273.1 223.1,273.6 222.4,274.1 221.7,274.7 220.7,275.2 219.7,275.7" fill="#eeba28"/>
<polygon points="239.1,275.7 238.2,275.2 237.4,274.8 236.6,274.3 236,273.9 235.5,273.4 235.1,273 234.8,272.5 234.8,272.1 234.8,271.6 235,271.2 235,270.7 235.1,270.3 235.2,269.8 235.2,269.4 235.2,269.2 235.2,268.9 235.1,268.5 235.1,268 235,267.6 234.9,267.1 234.7,266.7 234.7,266.7 234.5,267.1 234.4,267.6 234.3,268 234.3,268.5 234.2,268.9 234.2,269.2 234.2,269.4 234.2,269.8 234.3,270.3 234.4,270.7 234.4,271.2 234.6,271.6 234.6,272.1 234.6,272.5 234.3,273 233.9,273.4 233.4,273.9 232.8,274.3 232,274.8 231.2,275.2 230.3,275.7" fill="#f0c928"/>
<polygon points="249.7,275.7 248.7,275.2 247.9,274.7 247.1,274.2 246.5,273.8 246,273.3 245.6,272.8 245.4,272.3 245.4,271.8 245.5,271.3 245.6,270.8 245.7,270.4 245.8,269.9 245.8,269.4 245.8,268.9 245.8,268.9 245.8,268.4 245.8,267.9 245.7,267.4 245.7,267 245.6,266.5 245.3,266 245.3,266 245,266.5 244.9,267 244.9,267.4 244.8,267.9 244.8,268.4 244.8,268.9 244.8,268.9 244.8,269.4 244.8,269.9 244.9,270.4 245,270.8 245.1,271.3 245.2,271.8 245.2,272.3 245,272.8 244.6,273.3 244.1,273.8 243.5,274.2 242.7,274.7 241.9,275.2 240.9,275.7" fill="#efc028"/>
<polygon points="260.3,275.7 259.4,275.2 258.6,274.8 257.8,274.3 257.2,273.9 256.7,273.4 256.3,273 256,272.5 256,272.1 256,271.6 256.2,271.2 256.2,270.7 256.3,270.3 256.4,269.8 256.4,269.4 256.4,269.2 256.4,268.9 256.3,268.5 256.3,268 256.2,267.6 256.1,267.1 255.9,266.7 255.9,266.7 255.7,267.1 255.6,267.6 255.5,268 255.5,268.5 255.4,268.9 255.4,269.2 255.4,269.4 255.4,269.8 255.5,270.3 255.6,270.7 255.6,271.2 255.8,271.6 255.8,272.1 255.8,272.5 255.5,273 255.1,273.4 254.6,273.9 254,274.3 253.2,274.8 252.4,275.2 251.5,275.7" fill="#f0c928"/>
<polygon points="270.9,275.7 269.9,275.2 269,274.7 268.2,274.2 267.6,273.7 267.1,273.2 266.8,272.7 266.9,272.2 267.1,271.7 267.3,271.2 267.5,270.7 267.6,270.2 267.8,269.7 267.6,269.2 267.5,268.7 267.3,268.2 267.1,267.7 267,267.2 266.8,266.7 266.7,266.2 266.5,265.7 266.5,265.7 266.3,266.2 266.2,266.7 266,267.2 265.9,267.7 265.7,268.2 265.5,268.7 265.4,269.2 265.2,269.7 265.4,270.2 265.5,270.7 265.7,271.2 265.9,271.7 266.1,272.2 266.2,272.7 265.9,273.2 265.4,273.7 264.8,274.2 264,274.7 263.1,275.2 262.1,275.7" fill="#e7902a"/>
<polygon points="281.5,275.7 280.6,275.2 279.8,274.8 279,274.3 278.4,273.9 277.9,273.4 277.5,273 277.2,272.5 277.2,272.1 277.2,271.6 277.4,271.2 277.4,270.7 277.5,270.3 277.6,269.8 277.6,269.4 277.6,269.2 277.6,268.9 277.5,268.5 277.5,268 277.4,267.6 277.3,267.1 277.1,266.7 277.1,266.7 276.9,267.1 276.8,267.6 276.7,268 276.7,268.5 276.6,268.9 276.6,269.2 276.6,269.4 276.6,269.8 276.7,270.3 276.8,270.7 276.8,271.2 277,271.6 277,272.1 277,272.5 276.7,273 276.3,273.4 275.8,273.9 275.2,274.3 274.4,274.8 273.6,275.2 272.7,275.7" fill="#f0c928"/>
<text x="210" y="282.8" font-size="6.9" font-style="italic" stroke="#222" stroke-width="0.12" fill="#222">ITGB2 (CD18)</text>
<polygon points="217.9,298.9 216.8,298.4 215.9,297.8 215.1,297.3 214.5,296.8 214,296.2 213.6,295.7 213.9,295.2 214.1,294.6 214.3,294.1 214.6,293.6 214.8,293 215.1,292.5 215.2,292.2 215.1,292 214.9,291.4 214.6,290.9 214.4,290.4 214.2,289.8 214,289.3 213.7,288.8 213.5,288.2 213.5,288.2 213.3,288.8 213,289.3 212.8,289.8 212.6,290.4 212.4,290.9 212.1,291.4 211.9,292 211.8,292.2 211.9,292.5 212.2,293 212.4,293.6 212.7,294.1 212.9,294.6 213.1,295.2 213.4,295.7 213,296.2 212.5,296.8 211.9,297.3 211.1,297.8 210.2,298.4 209.1,298.9" fill="#e37f28"/>
<polygon points="228.5,298.9 227.5,298.4 226.5,297.9 225.8,297.3 225.1,296.8 224.6,296.3 224.3,295.8 224.2,295.3 224.2,294.7 224.4,294.2 224.5,293.7 224.6,293.2 224.7,292.7 224.7,292.1 224.7,291.7 224.7,291.6 224.7,291.1 224.6,290.6 224.6,290.1 224.5,289.6 224.4,289 224.1,288.5 224.1,288.5 223.8,289 223.7,289.6 223.6,290.1 223.6,290.6 223.5,291.1 223.5,291.6 223.5,291.7 223.5,292.1 223.5,292.7 223.6,293.2 223.7,293.7 223.8,294.2 224,294.7 224,295.3 223.9,295.8 223.6,296.3 223.1,296.8 222.4,297.3 221.7,297.9 220.7,298.4 219.7,298.9" fill="#edb429"/>
<polygon points="238,298.9 237.5,298.3 237.1,297.7 236.6,297.1 236.2,296.5 235.9,295.9 235.5,295.3 235.2,294.7 235.1,294.1 235.8,293.5 236.4,292.9 237,292.3 237.5,291.7 238,291.1 238.5,290.5 238.9,289.9 238.9,289.8 238.7,289.3 238.2,288.7 237.5,288.1 236.5,287.5 234.7,286.9 234.7,286.9 232.9,287.5 231.9,288.1 231.2,288.7 230.7,289.3 230.5,289.8 230.5,289.9 230.9,290.5 231.4,291.1 231.9,291.7 232.4,292.3 233,292.9 233.6,293.5 234.3,294.1 234.2,294.7 233.9,295.3 233.5,295.9 233.2,296.5 232.8,297.1 232.3,297.7 231.9,298.3 231.4,298.9" fill="#d63a24"/>
<polygon points="249.7,298.9 248.7,298.4 247.7,297.9 247,297.3 246.3,296.8 245.8,296.3 245.5,295.8 245.4,295.3 245.5,294.7 245.7,294.2 245.8,293.7 245.9,293.2 246,292.7 246,292.1 246.1,291.7 246,291.6 246,291.1 246,290.6 245.9,290.1 245.8,289.6 245.6,289 245.3,288.5 245.3,288.5 245,289 244.8,289.6 244.7,290.1 244.6,290.6 244.6,291.1 244.6,291.6 244.6,291.7 244.6,292.1 244.6,292.7 244.7,293.2 244.8,293.7 244.9,294.2 245.1,294.7 245.2,295.3 245.1,295.8 244.8,296.3 244.3,296.8 243.6,297.3 242.9,297.9 241.9,298.4 240.9,298.9" fill="#e99b2a"/>
<polygon points="260.3,298.9 259.3,298.4 258.5,297.9 257.7,297.4 257.1,296.9 256.6,296.5 256.2,296 256,295.5 256,295 256.1,294.5 256.2,294 256.3,293.6 256.4,293.1 256.4,292.6 256.4,292.1 256.4,292 256.4,291.6 256.4,291.1 256.3,290.6 256.3,290.2 256.2,289.7 255.9,289.2 255.9,289.2 255.6,289.7 255.5,290.2 255.5,290.6 255.4,291.1 255.4,291.6 255.4,292 255.4,292.1 255.4,292.6 255.4,293.1 255.5,293.6 255.6,294 255.7,294.5 255.8,295 255.8,295.5 255.6,296 255.2,296.5 254.7,296.9 254.1,297.4 253.3,297.9 252.5,298.4 251.5,298.9" fill="#eeba28"/>
<polygon points="270.9,298.9 269.8,298.3 268.8,297.8 268,297.2 267.4,296.7 266.9,296.1 266.6,295.6 266.6,295 266.8,294.5 267,293.9 267.1,293.4 267.1,292.8 267.2,292.3 267.2,291.7 267.2,291.4 267.2,291.2 267.2,290.6 267.2,290.1 267.1,289.5 267,289 266.8,288.4 266.5,287.9 266.5,287.9 266.2,288.4 266,289 265.9,289.5 265.8,290.1 265.8,290.6 265.8,291.2 265.8,291.4 265.8,291.7 265.8,292.3 265.9,292.8 265.9,293.4 266,293.9 266.2,294.5 266.4,295 266.4,295.6 266.1,296.1 265.6,296.7 265,297.2 264.2,297.8 263.2,298.3 262.1,298.9" fill="#e8962a"/>
<polygon points="281.4,298.9 280.8,298.3 280.2,297.7 279.7,297.1 279.1,296.5 278.7,296 278.2,295.4 277.9,294.8 277.9,294.2 277.9,293.6 277.9,293 277.9,292.5 278,291.9 278.4,291.3 278.7,290.7 279.1,290.1 279.5,289.5 279.8,288.9 280.1,288.5 280.1,288.4 279.7,287.8 277.1,287.2 277.1,287.2 274.5,287.8 274.1,288.4 274.1,288.5 274.4,288.9 274.7,289.5 275.1,290.1 275.5,290.7 275.8,291.3 276.2,291.9 276.3,292.5 276.3,293 276.3,293.6 276.3,294.2 276.3,294.8 276,295.4 275.5,296 275.1,296.5 274.5,297.1 274,297.7 273.4,298.3 272.8,298.9" fill="#da5624"/>
<text x="210" y="306" font-size="6.9" font-style="italic" stroke="#222" stroke-width="0.12" fill="#222">SELL</text>
<polygon points="218,322.1 217.4,321.6 216.9,321.2 216.4,320.7 215.9,320.3 215.5,319.8 215.1,319.4 214.7,318.9 214.4,318.5 214.2,318 214,317.6 213.8,317.1 213.7,316.7 213.7,316.2 213.7,315.9 213.7,315.7 213.7,315.3 213.7,314.8 213.7,314.4 213.7,313.9 213.6,313.5 213.5,313 213.5,313 213.4,313.5 213.3,313.9 213.3,314.4 213.3,314.8 213.3,315.3 213.3,315.7 213.3,315.9 213.3,316.2 213.3,316.7 213.2,317.1 213,317.6 212.8,318 212.6,318.5 212.3,318.9 211.9,319.4 211.5,319.8 211.1,320.3 210.6,320.7 210.1,321.2 209.6,321.6 209,322.1" fill="#f1d724"/>
<polygon points="228.6,322.1 228,321.6 227.5,321.2 227,320.7 226.5,320.3 226.1,319.8 225.7,319.4 225.3,318.9 225,318.5 224.8,318 224.6,317.6 224.4,317.1 224.3,316.7 224.3,316.2 224.3,315.9 224.3,315.7 224.3,315.3 224.3,314.8 224.3,314.4 224.3,313.9 224.2,313.5 224.1,313 224.1,313 224,313.5 223.9,313.9 223.9,314.4 223.9,314.8 223.9,315.3 223.9,315.7 223.9,315.9 223.9,316.2 223.9,316.7 223.8,317.1 223.6,317.6 223.4,318 223.2,318.5 222.9,318.9 222.5,319.4 222.1,319.8 221.7,320.3 221.2,320.7 220.7,321.2 220.2,321.6 219.6,322.1" fill="#f1d724"/>
<polygon points="239.2,322.1 238.6,321.6 238,321.1 237.5,320.7 237,320.2 236.6,319.8 236.2,319.3 235.9,318.8 235.6,318.4 235.3,317.9 235.1,317.4 235,317 235,316.5 235,316 235,315.8 235,315.6 235,315.1 235,314.6 235,314.2 234.9,313.7 234.9,313.2 234.7,312.8 234.7,312.8 234.5,313.2 234.5,313.7 234.4,314.2 234.4,314.6 234.4,315.1 234.4,315.6 234.4,315.8 234.4,316 234.4,316.5 234.4,317 234.3,317.4 234.1,317.9 233.8,318.4 233.5,318.8 233.2,319.3 232.8,319.8 232.4,320.2 231.9,320.7 231.4,321.1 230.8,321.6 230.2,322.1" fill="#f0d524"/>
<polygon points="248.9,322.1 248.3,321.7 247.7,321.3 247.1,320.9 246.7,320.5 246.3,320.2 245.9,319.8 245.7,319.4 245.5,319 245.4,318.6 245.4,318.2 245.4,317.8 245.4,317.5 245.5,317.1 245.5,316.7 245.5,316.3 245.5,316.2 245.5,315.9 245.5,315.5 245.4,315.1 245.4,314.8 245.3,314.4 245.3,314.4 245.2,314.8 245.2,315.1 245.1,315.5 245.1,315.9 245.1,316.2 245.1,316.3 245.1,316.7 245.1,317.1 245.2,317.5 245.2,317.8 245.2,318.2 245.2,318.6 245.1,319 244.9,319.4 244.7,319.8 244.3,320.2 243.9,320.5 243.5,320.9 242.9,321.3 242.3,321.7 241.7,322.1" fill="#f1e021" fill-opacity="0.55"/>
<polygon points="260.3,322.1 259.3,321.6 258.4,321.1 257.6,320.6 257,320.1 256.5,319.6 256.1,319.1 256.3,318.6 256.5,318.1 256.6,317.6 256.8,317.1 256.9,316.6 257.1,316.1 256.9,315.6 256.8,315.1 256.6,314.6 256.5,314.1 256.4,313.6 256.2,313.1 256.1,312.6 255.9,312.1 255.9,312.1 255.8,312.6 255.6,313.1 255.5,313.6 255.3,314.1 255.2,314.6 255,315.1 254.8,315.6 254.7,316.1 254.9,316.6 255,317.1 255.2,317.6 255.3,318.1 255.5,318.6 255.7,319.1 255.3,319.6 254.8,320.1 254.2,320.6 253.4,321.1 252.5,321.6 251.5,322.1" fill="#e7902a"/>
<polygon points="270.9,322.1 270,321.6 269.2,321.2 268.4,320.7 267.8,320.3 267.3,319.8 266.9,319.4 266.6,318.9 266.6,318.5 266.6,318 266.7,317.6 266.7,317.1 266.8,316.7 266.8,316.2 266.8,315.7 266.8,315.6 266.8,315.3 266.8,314.8 266.7,314.4 266.7,313.9 266.6,313.5 266.5,313 266.5,313 266.4,313.5 266.3,313.9 266.3,314.4 266.2,314.8 266.2,315.3 266.2,315.6 266.2,315.7 266.2,316.2 266.2,316.7 266.3,317.1 266.3,317.6 266.4,318 266.4,318.5 266.4,318.9 266.1,319.4 265.7,319.8 265.2,320.3 264.6,320.7 263.8,321.2 263,321.6 262.1,322.1" fill="#f0d524"/>
<polygon points="281.5,322.1 280.6,321.6 279.8,321.2 279,320.7 278.4,320.3 277.9,319.8 277.5,319.4 277.2,318.9 277.2,318.5 277.2,318 277.3,317.6 277.3,317.1 277.4,316.7 277.4,316.2 277.4,315.7 277.4,315.6 277.4,315.3 277.4,314.8 277.3,314.4 277.3,313.9 277.2,313.5 277.1,313 277.1,313 277,313.5 276.9,313.9 276.9,314.4 276.8,314.8 276.8,315.3 276.8,315.6 276.8,315.7 276.8,316.2 276.8,316.7 276.9,317.1 276.9,317.6 277,318 277,318.5 277,318.9 276.7,319.4 276.3,319.8 275.8,320.3 275.2,320.7 274.4,321.2 273.6,321.6 272.7,322.1" fill="#f0d524"/>
<text x="210" y="329.2" font-size="6.9" font-style="italic" stroke="#222" stroke-width="0.12" fill="#222">CD96</text>
<polygon points="217.9,345.3 216.8,344.7 215.9,344.2 215.1,343.7 214.5,343.1 214,342.6 213.6,342.1 213.9,341.5 214.2,341 214.5,340.5 214.8,340 215.1,339.4 215.4,338.9 215.5,338.6 215.4,338.4 215.1,337.8 214.8,337.3 214.6,336.8 214.3,336.2 214,335.7 213.8,335.2 213.5,334.6 213.5,334.6 213.2,335.2 213,335.7 212.7,336.2 212.4,336.8 212.2,337.3 211.9,337.8 211.6,338.4 211.5,338.6 211.6,338.9 211.9,339.4 212.2,340 212.5,340.5 212.8,341 213.1,341.5 213.4,342.1 213,342.6 212.5,343.1 211.9,343.7 211.1,344.2 210.2,344.7 209.1,345.3" fill="#e37f28"/>
<polygon points="228.5,345.3 227.4,344.7 226.5,344.2 225.7,343.7 225.1,343.1 224.6,342.6 224.2,342.1 224.5,341.5 224.8,341 225.1,340.5 225.4,340 225.7,339.4 226,338.9 226.1,338.6 226,338.4 225.7,337.8 225.4,337.3 225.2,336.8 224.9,336.2 224.6,335.7 224.4,335.2 224.1,334.6 224.1,334.6 223.8,335.2 223.6,335.7 223.3,336.2 223,336.8 222.8,337.3 222.5,337.8 222.2,338.4 222.1,338.6 222.2,338.9 222.5,339.4 222.8,340 223.1,340.5 223.4,341 223.7,341.5 224,342.1 223.6,342.6 223.1,343.1 222.5,343.7 221.7,344.2 220.8,344.7 219.7,345.3" fill="#e37f28"/>
<polygon points="239.1,345.3 238,344.7 237.1,344.2 236.3,343.7 235.7,343.1 235.2,342.6 234.8,342.1 235.1,341.5 235.3,341 235.5,340.5 235.8,340 236,339.4 236.3,338.9 236.4,338.6 236.3,338.4 236.1,337.8 235.8,337.3 235.6,336.8 235.4,336.2 235.2,335.7 234.9,335.2 234.7,334.6 234.7,334.6 234.5,335.2 234.2,335.7 234,336.2 233.8,336.8 233.6,337.3 233.3,337.8 233.1,338.4 233,338.6 233.1,338.9 233.4,339.4 233.6,340 233.8,340.5 234.1,341 234.3,341.5 234.6,342.1 234.2,342.6 233.7,343.1 233.1,343.7 232.3,344.2 231.4,344.7 230.3,345.3" fill="#e48429"/>
<polygon points="249.7,345.3 248.6,344.7 247.7,344.2 246.9,343.7 246.3,343.1 245.8,342.6 245.4,342.1 245.7,341.5 245.9,341 246.2,340.5 246.4,340 246.6,339.4 246.9,338.9 247,338.6 246.9,338.4 246.7,337.8 246.4,337.3 246.2,336.8 246,336.2 245.8,335.7 245.5,335.2 245.3,334.6 245.3,334.6 245.1,335.2 244.8,335.7 244.6,336.2 244.4,336.8 244.2,337.3 243.9,337.8 243.7,338.4 243.6,338.6 243.7,338.9 244,339.4 244.2,340 244.5,340.5 244.7,341 244.9,341.5 245.2,342.1 244.8,342.6 244.3,343.1 243.7,343.7 242.9,344.2 242,344.7 240.9,345.3" fill="#e48429"/>
<polygon points="260.3,345.3 259.2,344.7 258.3,344.2 257.5,343.7 256.9,343.1 256.4,342.6 256,342.1 256.3,341.5 256.5,341 256.8,340.5 257.1,340 257.3,339.4 257.6,338.9 257.7,338.6 257.6,338.4 257.3,337.8 257.1,337.3 256.9,336.8 256.6,336.2 256.4,335.7 256.1,335.2 255.9,334.6 255.9,334.6 255.7,335.2 255.4,335.7 255.2,336.2 254.9,336.8 254.7,337.3 254.5,337.8 254.2,338.4 254.1,338.6 254.2,338.9 254.5,339.4 254.7,340 255,340.5 255.3,341 255.5,341.5 255.8,342.1 255.4,342.6 254.9,343.1 254.3,343.7 253.5,344.2 252.6,344.7 251.5,345.3" fill="#e37f28"/>
<polygon points="270.9,345.3 269.8,344.7 268.8,344.1 268,343.6 267.3,343 266.9,342.4 266.9,341.9 266.9,341.3 266.9,340.7 266.9,340.2 266.9,339.6 266.9,339.1 266.9,338.5 267.6,337.9 268.3,337.4 268.7,336.8 269,336.2 269,336 269,335.7 268.8,335.1 268.2,334.5 266.5,334 266.5,334 264.8,334.5 264.2,335.1 264,335.7 264,336 264,336.2 264.3,336.8 264.7,337.4 265.4,337.9 266.1,338.5 266.1,339.1 266.1,339.6 266.1,340.2 266.1,340.7 266.1,341.3 266.1,341.9 266.1,342.4 265.7,343 265,343.6 264.2,344.1 263.2,344.7 262.1,345.3" fill="#e07327"/>
<polygon points="281.5,345.3 280.3,344.7 279.2,344 278.4,343.4 277.7,342.8 277.3,342.2 277.2,341.6 277.3,340.9 277.4,340.3 277.5,339.7 277.6,339.1 277.6,338.5 277.7,337.8 277.7,337.2 277.7,337.1 277.7,336.6 277.7,336 277.6,335.4 277.6,334.8 277.5,334.1 277.4,333.5 277.1,332.9 277.1,332.9 276.8,333.5 276.7,334.1 276.6,334.8 276.6,335.4 276.5,336 276.5,336.6 276.5,337.1 276.5,337.2 276.5,337.8 276.6,338.5 276.6,339.1 276.7,339.7 276.8,340.3 276.9,340.9 277,341.6 276.9,342.2 276.5,342.8 275.8,343.4 275,344 273.9,344.7 272.7,345.3" fill="#edb429"/>
<text x="215.8" y="349.1" font-size="7" text-anchor="end" textLength="23.5" lengthAdjust="spacingAndGlyphs" stroke="#1a1a1a" stroke-width="0.2" transform="rotate(-90 215.8 349.1)" fill="#1a1a1a">Cluster0</text>
<text x="226.4" y="349.1" font-size="7" text-anchor="end" textLength="23.5" lengthAdjust="spacingAndGlyphs" stroke="#1a1a1a" stroke-width="0.2" transform="rotate(-90 226.4 349.1)" fill="#1a1a1a">Cluster1</text>
<text x="237" y="349.1" font-size="7" text-anchor="end" textLength="23.5" lengthAdjust="spacingAndGlyphs" stroke="#1a1a1a" stroke-width="0.2" transform="rotate(-90 237 349.1)" fill="#1a1a1a">Cluster2</text>
<text x="247.6" y="349.1" font-size="7" text-anchor="end" textLength="23.5" lengthAdjust="spacingAndGlyphs" stroke="#1a1a1a" stroke-width="0.2" transform="rotate(-90 247.6 349.1)" fill="#1a1a1a">Cluster3</text>
<text x="258.2" y="349.1" font-size="7" text-anchor="end" textLength="23.5" lengthAdjust="spacingAndGlyphs" stroke="#1a1a1a" stroke-width="0.2" transform="rotate(-90 258.2 349.1)" fill="#1a1a1a">Cluster4</text>
<text x="268.8" y="349.1" font-size="7" text-anchor="end" textLength="23.5" lengthAdjust="spacingAndGlyphs" stroke="#1a1a1a" stroke-width="0.2" transform="rotate(-90 268.8 349.1)" fill="#1a1a1a">Cluster6</text>
<text x="279.4" y="349.1" font-size="7" text-anchor="end" textLength="23.5" lengthAdjust="spacingAndGlyphs" stroke="#1a1a1a" stroke-width="0.2" transform="rotate(-90 279.4 349.1)" fill="#1a1a1a">Cluster8</text>
<defs><linearGradient id="cb" x1="0" x2="1" y1="0" y2="0"><stop offset="0.000" stop-color="#f1e420"/><stop offset="0.036" stop-color="#f1dd22"/><stop offset="0.071" stop-color="#f0d624"/><stop offset="0.107" stop-color="#f0cf26"/><stop offset="0.143" stop-color="#f0c828"/><stop offset="0.179" stop-color="#eeba28"/><stop offset="0.214" stop-color="#ecac29"/><stop offset="0.250" stop-color="#e99e2a"/><stop offset="0.286" stop-color="#e7902a"/><stop offset="0.321" stop-color="#e48228"/><stop offset="0.357" stop-color="#e07327"/><stop offset="0.393" stop-color="#dd6426"/><stop offset="0.429" stop-color="#da5624"/><stop offset="0.464" stop-color="#d84824"/><stop offset="0.500" stop-color="#d63a24"/><stop offset="0.536" stop-color="#d12b20"/><stop offset="0.571" stop-color="#cc1c1c"/><stop offset="0.607" stop-color="#bd1a1b"/><stop offset="0.643" stop-color="#ae191a"/><stop offset="0.679" stop-color="#a01819"/><stop offset="0.714" stop-color="#911618"/><stop offset="0.750" stop-color="#811416"/><stop offset="0.786" stop-color="#701213"/><stop offset="0.821" stop-color="#601010"/><stop offset="0.857" stop-color="#500e0e"/><stop offset="0.893" stop-color="#400c0c"/><stop offset="0.929" stop-color="#300b0b"/><stop offset="0.964" stop-color="#200a0a"/><stop offset="1.000" stop-color="#100808"/></linearGradient></defs>
<rect x="211.9" y="378.9" width="70.7" height="6.4" fill="url(#cb)"/>
<line x1="210" y1="386" x2="283.8" y2="386" stroke="#000" stroke-width="1.3"/>
<line x1="211.9" y1="386" x2="211.9" y2="388.6" stroke="#000" stroke-width="1.1"/>
<text x="214.3" y="392.3" font-size="7.2" text-anchor="end" textLength="3.3" lengthAdjust="spacingAndGlyphs" stroke="#1a1a1a" stroke-width="0.2" transform="rotate(-90 214.3 392.3)" fill="#1a1a1a">0</text>
<line x1="222" y1="386" x2="222" y2="388.6" stroke="#000" stroke-width="1.1"/>
<text x="224.4" y="392.3" font-size="7.2" text-anchor="end" textLength="3.3" lengthAdjust="spacingAndGlyphs" stroke="#1a1a1a" stroke-width="0.2" transform="rotate(-90 224.4 392.3)" fill="#1a1a1a">1</text>
<line x1="232.1" y1="386" x2="232.1" y2="388.6" stroke="#000" stroke-width="1.1"/>
<text x="234.5" y="392.3" font-size="7.2" text-anchor="end" textLength="3.3" lengthAdjust="spacingAndGlyphs" stroke="#1a1a1a" stroke-width="0.2" transform="rotate(-90 234.5 392.3)" fill="#1a1a1a">2</text>
<line x1="242.2" y1="386" x2="242.2" y2="388.6" stroke="#000" stroke-width="1.1"/>
<text x="244.6" y="392.3" font-size="7.2" text-anchor="end" textLength="3.3" lengthAdjust="spacingAndGlyphs" stroke="#1a1a1a" stroke-width="0.2" transform="rotate(-90 244.6 392.3)" fill="#1a1a1a">3</text>
<line x1="252.3" y1="386" x2="252.3" y2="388.6" stroke="#000" stroke-width="1.1"/>
<text x="254.7" y="392.3" font-size="7.2" text-anchor="end" textLength="3.3" lengthAdjust="spacingAndGlyphs" stroke="#1a1a1a" stroke-width="0.2" transform="rotate(-90 254.7 392.3)" fill="#1a1a1a">4</text>
<line x1="262.4" y1="386" x2="262.4" y2="388.6" stroke="#000" stroke-width="1.1"/>
<text x="264.8" y="392.3" font-size="7.2" text-anchor="end" textLength="3.3" lengthAdjust="spacingAndGlyphs" stroke="#1a1a1a" stroke-width="0.2" transform="rotate(-90 264.8 392.3)" fill="#1a1a1a">5</text>
<line x1="272.5" y1="386" x2="272.5" y2="388.6" stroke="#000" stroke-width="1.1"/>
<text x="274.9" y="392.3" font-size="7.2" text-anchor="end" textLength="3.3" lengthAdjust="spacingAndGlyphs" stroke="#1a1a1a" stroke-width="0.2" transform="rotate(-90 274.9 392.3)" fill="#1a1a1a">6</text>
<line x1="282.6" y1="386" x2="282.6" y2="388.6" stroke="#000" stroke-width="1.1"/>
<text x="285" y="392.3" font-size="7.2" text-anchor="end" textLength="3.3" lengthAdjust="spacingAndGlyphs" stroke="#1a1a1a" stroke-width="0.2" transform="rotate(-90 285 392.3)" fill="#1a1a1a">7</text>
<text x="247.2" y="406.3" font-size="7.8" text-anchor="middle" textLength="53.1" lengthAdjust="spacingAndGlyphs" stroke="#1a1a1a" stroke-width="0.3" fill="#1a1a1a">log expression (+1)</text>
<line x1="335" y1="120.3" x2="338.6" y2="120.3" stroke="#111" stroke-width="0.9"/>
<text x="332" y="122.8" font-size="7" text-anchor="end" stroke="#1a1a1a" stroke-width="0.2" fill="#1a1a1a">0</text>
<line x1="335" y1="96.6" x2="338.6" y2="96.6" stroke="#111" stroke-width="0.9"/>
<text x="332" y="99.1" font-size="7" text-anchor="end" stroke="#1a1a1a" stroke-width="0.2" fill="#1a1a1a">5</text>
<line x1="335" y1="72.9" x2="338.6" y2="72.9" stroke="#111" stroke-width="0.9"/>
<text x="332" y="75.4" font-size="7" text-anchor="end" stroke="#1a1a1a" stroke-width="0.2" fill="#1a1a1a">10</text>
<line x1="335" y1="49.2" x2="338.6" y2="49.2" stroke="#111" stroke-width="0.9"/>
<text x="332" y="51.7" font-size="7" text-anchor="end" stroke="#1a1a1a" stroke-width="0.2" fill="#1a1a1a">15</text>
<line x1="335" y1="25.5" x2="338.6" y2="25.5" stroke="#111" stroke-width="0.9"/>
<text x="332" y="28" font-size="7" text-anchor="end" stroke="#1a1a1a" stroke-width="0.2" fill="#1a1a1a">20</text>
<text x="318.6" y="70.8" font-size="8.2" text-anchor="middle" textLength="52.4" lengthAdjust="spacingAndGlyphs" stroke="#1a1a1a" stroke-width="0.3" transform="rotate(-90 318.6 70.8)" fill="#1a1a1a">Percentage of cells</text>
<rect x="339.9" y="64.8" width="4.05" height="55.5" fill="#a50d2e"/>
<rect x="343.9" y="99.4" width="4.05" height="20.9" fill="#e5921c"/>
<rect x="348" y="116.5" width="4.05" height="3.8" fill="#5bb436"/>
<rect x="352" y="119.6" width="4.05" height="0.71" fill="#1d3f90"/>
<line x1="347.7" y1="120.3" x2="347.7" y2="123.4" stroke="#111" stroke-width="0.9"/>
<text x="350.1" y="127.1" font-size="6.9" text-anchor="end" textLength="24" lengthAdjust="spacingAndGlyphs" stroke="#2a2a2a" stroke-width="0.2" transform="rotate(-90 350.1 127.1)" fill="#2a2a2a">Cluster0</text>
<rect x="359.1" y="80" width="4.05" height="40.3" fill="#a50d2e"/>
<rect x="363.1" y="107.5" width="4.05" height="12.8" fill="#e5921c"/>
<rect x="367.2" y="117" width="4.05" height="3.3" fill="#5bb436"/>
<rect x="371.2" y="119.8" width="4.05" height="0.47" fill="#1d3f90"/>
<line x1="366.9" y1="120.3" x2="366.9" y2="123.4" stroke="#111" stroke-width="0.9"/>
<text x="369.3" y="127.1" font-size="6.9" text-anchor="end" textLength="24" lengthAdjust="spacingAndGlyphs" stroke="#2a2a2a" stroke-width="0.2" transform="rotate(-90 369.3 127.1)" fill="#2a2a2a">Cluster1</text>
<rect x="378.3" y="50.6" width="4.05" height="69.7" fill="#a50d2e"/>
<rect x="382.3" y="87.1" width="4.05" height="33.2" fill="#e5921c"/>
<rect x="386.4" y="110.8" width="4.05" height="9.5" fill="#5bb436"/>
<rect x="390.4" y="119.4" width="4.05" height="0.95" fill="#1d3f90"/>
<line x1="386.1" y1="120.3" x2="386.1" y2="123.4" stroke="#111" stroke-width="0.9"/>
<text x="388.5" y="127.1" font-size="6.9" text-anchor="end" textLength="24" lengthAdjust="spacingAndGlyphs" stroke="#2a2a2a" stroke-width="0.2" transform="rotate(-90 388.5 127.1)" fill="#2a2a2a">Cluster2</text>
<rect x="397.5" y="93.8" width="4.05" height="26.5" fill="#a50d2e"/>
<rect x="401.6" y="116.5" width="4.05" height="3.8" fill="#e5921c"/>
<rect x="405.6" y="115.6" width="4.05" height="4.7" fill="#5bb436"/>
<rect x="409.6" y="120.1" width="4.05" height="0.24" fill="#1d3f90"/>
<line x1="405.3" y1="120.3" x2="405.3" y2="123.4" stroke="#111" stroke-width="0.9"/>
<text x="407.7" y="127.1" font-size="6.9" text-anchor="end" textLength="24" lengthAdjust="spacingAndGlyphs" stroke="#2a2a2a" stroke-width="0.2" transform="rotate(-90 407.7 127.1)" fill="#2a2a2a">Cluster3</text>
<rect x="416.7" y="81.9" width="4.05" height="38.4" fill="#a50d2e"/>
<rect x="420.8" y="109.9" width="4.05" height="10.4" fill="#e5921c"/>
<rect x="424.8" y="119.8" width="4.05" height="0.47" fill="#5bb436"/>
<line x1="424.5" y1="120.3" x2="424.5" y2="123.4" stroke="#111" stroke-width="0.9"/>
<text x="426.9" y="127.1" font-size="6.9" text-anchor="end" textLength="24" lengthAdjust="spacingAndGlyphs" stroke="#2a2a2a" stroke-width="0.2" transform="rotate(-90 426.9 127.1)" fill="#2a2a2a">Cluster4</text>
<rect x="435.9" y="43.5" width="4.05" height="76.8" fill="#a50d2e"/>
<rect x="439.9" y="98.5" width="4.05" height="21.8" fill="#e5921c"/>
<rect x="444" y="118.9" width="4.05" height="1.4" fill="#5bb436"/>
<rect x="448" y="120.1" width="4.05" height="0.24" fill="#1d3f90"/>
<line x1="443.7" y1="120.3" x2="443.7" y2="123.4" stroke="#111" stroke-width="0.9"/>
<text x="446.1" y="127.1" font-size="6.9" text-anchor="end" textLength="24" lengthAdjust="spacingAndGlyphs" stroke="#2a2a2a" stroke-width="0.2" transform="rotate(-90 446.1 127.1)" fill="#2a2a2a">Cluster6</text>
<rect x="455.1" y="109.9" width="4.05" height="10.4" fill="#a50d2e"/>
<rect x="459.1" y="116.7" width="4.05" height="3.6" fill="#e5921c"/>
<rect x="463.2" y="116.5" width="4.05" height="3.8" fill="#5bb436"/>
<line x1="462.9" y1="120.3" x2="462.9" y2="123.4" stroke="#111" stroke-width="0.9"/>
<text x="465.3" y="127.1" font-size="6.9" text-anchor="end" textLength="24" lengthAdjust="spacingAndGlyphs" stroke="#2a2a2a" stroke-width="0.2" transform="rotate(-90 465.3 127.1)" fill="#2a2a2a">Cluster8</text>
<line x1="338.6" y1="20.7" x2="338.6" y2="120.8" stroke="#111" stroke-width="1"/>
<line x1="338.1" y1="120.3" x2="472.8" y2="120.3" stroke="#111" stroke-width="1"/>
<rect x="476.3" y="23.5" width="4.7" height="2.2" fill="#a50d2e"/>
<text x="484.7" y="27" font-size="6.6" textLength="28.1" lengthAdjust="spacingAndGlyphs" stroke="#2a2a2a" stroke-width="0.2" fill="#2a2a2a">1 KIR/cell</text>
<rect x="476.3" y="34.1" width="4.7" height="2.2" fill="#e5921c"/>
<text x="484.7" y="37.6" font-size="6.6" textLength="28.1" lengthAdjust="spacingAndGlyphs" stroke="#2a2a2a" stroke-width="0.2" fill="#2a2a2a">2 KIR/cell</text>
<rect x="476.3" y="44.6" width="4.7" height="2.2" fill="#5bb436"/>
<text x="484.7" y="48.1" font-size="6.6" textLength="28.1" lengthAdjust="spacingAndGlyphs" stroke="#2a2a2a" stroke-width="0.2" fill="#2a2a2a">3 KIR/cell</text>
<rect x="476.3" y="55.1" width="4.7" height="2.2" fill="#1d3f90"/>
<text x="484.7" y="58.6" font-size="6.6" textLength="28.1" lengthAdjust="spacingAndGlyphs" stroke="#2a2a2a" stroke-width="0.2" fill="#2a2a2a">4 KIR/cell</text>
<path d="M360.1 284h0M347.6 292.9h0M369.4 274.2h0M368.7 276.5h0M343.2 289.8h0M346.8 289.5h0M364.4 279.1h0M352.7 283.6h0M376.7 275.4h0M361.8 278.1h0M396 266h0M357.9 284.3h0M350.4 289.1h0M385.4 267.5h0M349.1 282.8h0M360 278.1h0M370.9 275.4h0M352.8 285.8h0M376 268.1h0M373 274.3h0M364.5 276h0M381.2 274.3h0M352.7 281.2h0M386.5 262.5h0M378.8 266.8h0M351.4 293.8h0M363.7 278.7h0M366.3 274.8h0M342.4 288.4h0M369.2 269.6h0M386.5 262.3h0M375.2 276.9h0M368.9 268.3h0M392 263.2h0M366.2 276.3h0M377.9 268.7h0M378.7 276.4h0M356.5 282.7h0M361.8 279.4h0M365.6 276.7h0M351 287.3h0M382.3 268.1h0M348.6 287.9h0M389 266.9h0M344 286.1h0M388.6 264.8h0M385.5 267.3h0M362.4 277h0M363.7 285.7h0M346.8 282.5h0M351.1 286.6h0M368.3 278.5h0M372.5 273.1h0M363.8 278.8h0M357.7 274.6h0M376.1 267.1h0M366.8 272.4h0M342.9 287.5h0M389.4 264.3h0M380.1 260.9h0M361.6 278.4h0M375.4 272.5h0M346.1 291.7h0M350.7 287.6h0M359.6 281.2h0M349.7 287.2h0M346.8 288.3h0M387.7 264.5h0M374.6 273.6h0M361 282.6h0M363.2 284.2h0M395.9 264h0M365.4 275.9h0M347.2 288.8h0M359.4 280.6h0M353.4 292h0M345 294.5h0M348.8 286.3h0M372.2 278h0M393.2 261.3h0M386.4 263.7h0M359.7 278.2h0M350.8 287.1h0M380.4 263.7h0M359.5 282.3h0M396.3 265.5h0M387.4 266.5h0M377.5 263.5h0M352.1 282.2h0M343.1 290.8h0M343 290.7h0M379.2 271.9h0M388.3 255.8h0M394.7 262.5h0M390.9 260.2h0M354.5 286.2h0M352.7 286.8h0M391.1 266.9h0M383.2 261.1h0M383.9 266.9h0M344.2 286h0M379.5 261.8h0M379.9 266.3h0M383.1 267h0M360.6 283.7h0M359.1 273.8h0M365.3 283.4h0M349.8 285.1h0M350.6 291.4h0M386.9 271.1h0M351.6 290.9h0M372.7 265.4h0M359.2 279.4h0M342.3 291.1h0M391.3 258.9h0M388.9 259.4h0M366.6 281.7h0M350.5 281.5h0M354.6 283.4h0M373.6 275.2h0M354.6 282.4h0M389.7 263.6h0M358.1 277.1h0M389.6 264h0M365.5 281.4h0M368.6 273.4h0M370.9 278.2h0M351.6 286.5h0M342.3 292.4h0M365.5 275.2h0M378.2 266.5h0M368.3 274.6h0M371 274.5h0M370.3 272.8h0M354.3 283.2h0M371.2 280.5h0M371.4 274.4h0M361.5 272.3h0M371.7 269.1h0M377.9 269.7h0M363.5 274.4h0M390.5 261.2h0M381.2 274.3h0M352.5 279.1h0M374.1 279.1h0M347.8 285.8h0M347.5 287.1h0M354.6 284.7h0M344.2 287.3h0M386 259.1h0M349.3 286.2h0M346.8 283.4h0M389.1 265.7h0M391.3 261.1h0M359.2 273.7h0M385.7 266h0M348.4 283.8h0M360.4 282.5h0M350.9 283.9h0M345.3 295.4h0M370.4 273.8h0M359.2 281.6h0M373.8 271h0M393.2 260.4h0M383.7 268.1h0M355.5 283.3h0M344.1 291.1h0M347.2 285.7h0M366.5 282.8h0M353.6 281h0M351.5 290.4h0M377.3 267.8h0M348.9 293.1h0M364.9 279.9h0M347.8 293.3h0M382.7 264.9h0M346.6 290h0M386.3 263.6h0M364.3 275.6h0M392 265.3h0M357.2 285.8h0M355.8 286.8h0M347.8 289h0M352.8 286.3h0M357.1 280.4h0M359.6 287.1h0M368.6 277.1h0M344.2 293.7h0M357.6 288.5h0M370.8 274.8h0M348.3 280.4h0M348 289.6h0M382.7 262.8h0M386.2 266.6h0M359.7 275.2h0M393 260.4h0M361 283.2h0M372.7 267.9h0M362.6 278.5h0M349 288.6h0M345.4 289.6h0M349 284.7h0M348.1 292.3h0M373.9 265.8h0M356.6 283.1h0M367.2 279.6h0M348.8 284.9h0M392.4 261.9h0M391.4 258.9h0M391.8 260.5h0M357.9 282h0M361.8 279.9h0M365.4 275h0M368.1 275.8h0M342 291.7h0M363.4 280.4h0M345.4 293h0M354.2 284.9h0M369.6 268.7h0M375.6 270.1h0M380.4 271.1h0M357.7 279.7h0M394.8 263.1h0M377.6 275h0M345.9 293.6h0M371.5 266.9h0M380.5 269.1h0M368.3 273.8h0M369.7 278.4h0M382.3 261.2h0M374.3 276.6h0M376.4 267.2h0M354.7 286.1h0M360.8 280.7h0M348.4 290.5h0M372.7 268.9h0M373.7 270.6h0M340.2 289h0M383.4 266.4h0M367.7 271.6h0M378.8 275h0M356.1 285.8h0M345.4 289.2h0M355.2 289.9h0M382.4 271.5h0M361.5 279.3h0M365.6 274.8h0M371.4 267.9h0M376.2 272.8h0M355.5 284.6h0M379.9 267h0M344.5 295h0M344.7 289.6h0M380.5 274h0M376.6 269.5h0M368 280.4h0M368.8 281.4h0M354.6 289.6h0M393.2 261.2h0M365.6 277.1h0M386.4 268.7h0M355.5 282.8h0M353.9 287.1h0M371.8 272.8h0M345.8 281.9h0M348.1 286.7h0M381.2 260.2h0M378.3 269.2h0M355.4 287.2h0M341.9 289.3h0M340.1 288.9h0M357.7 282.5h0M348.3 286.2h0M386.9 267.1h0M341.9 292h0M344.8 282.9h0M389.3 261h0M353.5 277.2h0M357.8 274.5h0M376 278.7h0M359.4 278.5h0M344.9 291.4h0M347.8 289.9h0M389.4 260.1h0M354.6 283.7h0M353.7 289.2h0M364.7 285.6h0M383.2 264.5h0M378.1 277.4h0M368.4 271h0M382 273.3h0M366.2 278.9h0M380.2 266.5h0M343.3 288.6h0M391.5 264.5h0M361.1 283.2h0M357 281.9h0M352 278.1h0M375.4 269.9h0M364.4 282.7h0M351.1 287.6h0M390.1 264.6h0M368.4 277.2h0M397.2 265.7h0M366 278.8h0M347.4 290.5h0M360.7 282.8h0M356 284.8h0M373.7 277.3h0M361.5 275.8h0M361.8 276.1h0M359.2 280.8h0M344.3 288.8h0M351.8 293.5h0M365.8 272.1h0M350.6 281.1h0M356 283.4h0M366.8 280.5h0M393.6 264.7h0M340.1 286.7h0M342.6 289.5h0M363.1 271.3h0M374.1 276h0M390.2 262.3h0M387.7 270.1h0M351.4 278.5h0M348.7 290.4h0M379.1 273h0M390.5 261.2h0M379.3 263.6h0M365.2 276.6h0M382.5 266.7h0M356.1 288.1h0M356.5 280.4h0M348.5 287.9h0M380.7 273.6h0M349.5 291.5h0M373.1 274.8h0M362.4 280.2h0M344.6 295.4h0M354.1 276.8h0M376.5 273.1h0M386.7 261.7h0M354.9 284.4h0M391.5 260.6h0M341.5 289h0M367 274.7h0M353.7 281.2h0M377.7 272.4h0M343 290h0M357.2 277.5h0M353.4 287.7h0M383.3 266.3h0M350.5 282.2h0M391.2 259h0M356.8 289.4h0M353.5 285.1h0M390.1 259.2h0M368.1 276.9h0M364.7 280.5h0M377.4 272.2h0M362 278.9h0M353.8 286.7h0M344.4 290.1h0M342.1 285.4h0M390.2 267.4h0M383.4 274.1h0M358.9 281.4h0M354.1 290.3h0M342.4 289.2h0M375.3 268.8h0M360.3 283.2h0M352 288.8h0M360.2 280.8h0M394.8 266.5h0M355.7 290.4h0M361.8 282.8h0M361.5 273.5h0M342.8 287.8h0M390.1 263h0M349.5 281.9h0M346.1 295.5h0M364.3 280.6h0M341.2 286.3h0M347 296.4h0M356.7 286.2h0M382.1 270.1h0M355.1 281.8h0M390.8 259.8h0M378.3 267.6h0M358.3 281.8h0M381.4 268.1h0M386.9 258.3h0M340 286.3h0M350.6 279h0M392.3 262.6h0M362 279.6h0M369.4 279.1h0M391.5 264.3h0M383.1 272.9h0M385.1 266.2h0M356.6 277.8h0M356.6 278.6h0M348.2 293.2h0M352.1 285.7h0M343.9 287.8h0M342.1 288.6h0M392.5 259.8h0M389.2 265.9h0M346.1 289.1h0M344.2 284.6h0M365.2 277.7h0M352 281.2h0M378.2 272.4h0M382.3 270.4h0M346.1 284.8h0M385.1 264.1h0M363.4 283.5h0M380.7 269h0M355.8 286.1h0M351.5 289.8h0M357.4 279.1h0M364.5 282.6h0M353.8 284.4h0M381 261.3h0M343.7 283.2h0M368 279h0M386.6 257.9h0M343.7 290.3h0M352.5 287.3h0M389.2 255.3h0M359.3 276.9h0M385.8 262.2h0M382.8 267.8h0M393 264.7h0M375.6 274.5h0M352.5 284h0M353.1 286.6h0M353.1 280.6h0M351 283.1h0M341.2 289.7h0M353.7 289.8h0M359 283.4h0M373.3 279.2h0M346.5 292.2h0M371.5 276h0M376 272.9h0M378.7 270.6h0M362.9 278.4h0M393 263.8h0M356.6 279.6h0M362.9 277.6h0M388.5 267h0M352.1 285.6h0M379.9 268.8h0M389 263.4h0M364.7 279.7h0M386.3 261.2h0M366 277.5h0M370.8 274.8h0M375.9 272.5h0M373.9 271.4h0M360.2 278.6h0M356.6 282.9h0M369.7 276.5h0M367 275.7h0M384.9 268h0M348.2 287.6h0M393 265h0M344.3 289.8h0M387.3 257.8h0M376.6 276h0M386.4 268.2h0M355.9 289h0M364.7 282h0M348.7 281.9h0M351.5 282.3h0M363 281.7h0M348.3 288.1h0M391.4 267.7h0M341.3 286.4h0M342.7 289h0M387.3 267.9h0M372.1 276.9h0M373.9 270.9h0M373.9 276.1h0M363 276.7h0M363.1 275.4h0M341.6 288.9h0M352.7 282.3h0M382 268.1h0M349.3 283.2h0M367.2 278h0M364.8 279.1h0M344.7 286h0M344.7 291.9h0M377.4 275.6h0M383.8 269.3h0M370.4 278.7h0M362.2 281h0M393.6 265.2h0M396.3 264.3h0M380.5 269.3h0M392 258.9h0M370.9 281.8h0M349.4 285.1h0M383.5 267.7h0M359.9 280.3h0M383.2 271h0M359.2 288.2h0M385.6 267.9h0M391.4 265.1h0M352.5 285.1h0M360.5 285.1h0M344.1 291.5h0M391.6 263.5h0M378.1 271.6h0M382.1 265.9h0M345.4 284.4h0M360.1 279.7h0M385.3 260.6h0M387.1 262.5h0M349.7 292.6h0M362.3 279.2h0M383 265.7h0M375.3 279.1h0M360.8 280.7h0M349.2 283.4h0M383.6 273.1h0M356 285.4h0M377.4 275.2h0M376.2 270.4h0M358.6 282.7h0M349.6 287.2h0M372.1 269.3h0M389.4 264.7h0M349 288.3h0M345.4 295.3h0M341.4 291.1h0M361.1 281.6h0M351.5 281.6h0M351.3 283.6h0M373.5 270.6h0M390.8 262.3h0M355 284.9h0M375.7 272.6h0M387.6 264.7h0M353.9 280.8h0M341.1 289.4h0M358.4 278h0M372.1 265.8h0M381.5 270.8h0M355.2 284.7h0M369.3 274.5h0M363 279.1h0M383 268h0M339 286.1h0M348 285.4h0M350.6 283.1h0M374 269.4h0M384.9 267.1h0M358.8 284.5h0M346.6 294.2h0M377.2 266h0M343.7 294.4h0M363.8 273.3h0M379.4 266.4h0M347.7 289.2h0M355.4 287h0M381.3 268.6h0M379.6 272.2h0M353.5 279.9h0M368 269.8h0M370.3 277.2h0M352.9 279h0M349.7 279.5h0M389.1 266h0M354.3 284.7h0M383.3 272.5h0M357.9 280h0M387.1 262.9h0M390.3 264.8h0M373.8 270.4h0M390.6 256.8h0M367.7 279.3h0M384.3 260.9h0M364.3 277.4h0M355.7 278.6h0M352.4 284.4h0M388.9 262.1h0M350.1 288.7h0M390.4 262.5h0M360.1 281.4h0M344.3 291.2h0M376.2 267h0M378.3 265.2h0M343.9 287.7h0M383.6 264.4h0M385.1 266.6h0M386.7 263.6h0M390.3 264h0M352.3 285h0M350.9 293.7h0M384.9 267.2h0M376 273.5h0M354.7 279.3h0M349.3 292.6h0M354.1 288.1h0M358.1 281.3h0M355.4 284h0M356.2 282.4h0M357 279.1h0M388.8 255.7h0M374 272.1h0M341.9 288.5h0M383.1 268.8h0M359.3 279.9h0M351.1 281.8h0M389.5 268.7h0M352.4 289.3h0M342.7 293.4h0M395.6 265.2h0M340.1 288.6h0M383.5 266.7h0M349.9 283.5h0M385.3 265.5h0M356.7 285.8h0M352.5 284.3h0M377.5 268.3h0M375 271.6h0M346.6 290.4h0M380.3 262.7h0M373.5 270.2h0M363.8 281.6h0M391.3 268.5h0M344.9 294.2h0M352.3 284.9h0M371.4 281.5h0M362.5 281.4h0M365 275.9h0M369.6 275.1h0M372.7 266.7h0M359.5 280.1h0M386.7 266.4h0M376.3 270.7h0M363.7 276.3h0M381.4 266h0M365.5 276.5h0M388.1 263.8h0M358.6 284.2h0M379.1 270.4h0M349.1 285.7h0M353.8 282.5h0M352 289.8h0M360.6 284.3h0M383.2 274.2h0M347.9 290h0M361.7 279.4h0M393.9 261.8h0M361.9 273.8h0M351.5 284.9h0M352 284.4h0M363.7 282.3h0M383.5 267.3h0M375.6 265.9h0M366 277.2h0M347.8 285.2h0M379.4 266.6h0M387.2 259.7h0M381.8 269.6h0M364.1 279.1h0M390.4 268.2h0M381.2 265.6h0M374.1 265.1h0M373.9 269.2h0M375 272.6h0M344.3 284.6h0M380.5 271.5h0M374.7 271.9h0M367.3 280.3h0M372.1 268.6h0M391.7 264.5h0M349.7 283.4h0M359.7 275.6h0M367.8 277.1h0M370.1 274.5h0M351 288.2h0M365.5 269.8h0M345.2 285.7h0M378.3 267.5h0M366.5 272.3h0M366.6 271.3h0M364.3 280.7h0M377.1 269.5h0M362.4 279.6h0M392.3 259.1h0M361.6 282.7h0M363.1 280h0M340.9 289.1h0M379.1 271.1h0M360.1 280.5h0M381.7 270.2h0M389.7 260h0M383.4 266h0M362.5 279.8h0M383.2 268.6h0M382.8 264h0M369.7 271.7h0M355.1 287.3h0M374.8 271h0M385.3 267.1h0M355.4 279.7h0M372.7 278.2h0M362.6 284.4h0M386 264.5h0M356.7 286.6h0M364.1 278.4h0M379.6 269.1h0M356.5 283.1h0M368.3 279h0M362.5 275.6h0M358.8 277.3h0M390.6 262.9h0M384.6 264.8h0M389.3 263.3h0M384.3 263.9h0M375.1 272.2h0M391.5 261.6h0M376 271h0M350 288.7h0M354.3 284.9h0M348.2 284.6h0M389.3 263.5h0M387.3 261.9h0M374 273.3h0M386 259.4h0M383.5 267.8h0M377 268.3h0M369.4 274.9h0M386.1 260.8h0M370.7 274.1h0M350.3 289.6h0M369.3 279.1h0M350 288.5h0M365.3 272.8h0M386.9 264.4h0M343.2 293.5h0M369.6 271.4h0M377.4 272.2h0M362.3 276.3h0" stroke="#c6c6c6" stroke-width="1.9" stroke-linecap="round" fill="none"/>
<path d="M438.6 227.6h0M422.8 238.4h0M392.9 258.4h0M436.3 227.3h0M408.3 249.3h0M415.2 243.2h0M435.7 229.9h0M422.2 238.6h0M408.5 248.7h0M414.5 243.2h0M417.3 241.9h0M412.6 244.6h0M411.6 244.4h0M405.8 249.5h0M431.3 230.9h0M405.3 251h0M416.9 243.3h0M429.9 232.5h0M407.7 248.4h0M420.5 240.2h0M422.5 238.1h0M426.6 234.9h0M434.4 229.3h0M406.4 249.6h0M392.6 260.3h0M422 240.1h0M423.8 237.6h0M420.5 237.8h0M421.2 238.1h0M420.2 238.8h0M424.8 236.7h0M414.6 245h0M428.8 234h0M393.9 258.9h0M429.7 234h0M409.4 246.8h0M431.6 231.8h0M403.9 250.4h0M406.2 249.1h0M412.8 245.4h0M422.9 238h0M419.2 240.3h0M394.4 259.4h0M420.1 240.9h0M436 228.2h0M410.6 246.7h0M421.2 240.7h0M414.4 243h0M412.3 246.4h0M402.5 253.2h0M399.3 254.8h0M424.8 236.4h0M398 256h0M433.7 229.9h0M398.8 256.5h0M403.7 251.7h0M427.3 234.8h0M429.3 233.5h0M426.7 235.9h0M395.5 256.4h0M422.1 238.2h0M436.3 227.2h0M404.8 252.1h0M392.4 259.4h0M392.3 258.9h0M395.2 256.4h0M406.9 249.2h0M433.1 230h0M415.7 243.7h0M419.7 240.4h0M413 244.7h0M430.1 232.2h0M409.1 247h0M411.6 244.9h0M410.7 247h0M428.8 231.8h0M419.2 240.4h0M438.9 226.6h0M425.9 236h0M420.8 238.6h0M439.2 226.7h0M406.3 248.7h0M412.9 245.6h0M424.6 236h0M421.5 240.1h0M405.1 249.6h0M392 259.9h0M420.6 240.4h0M431.3 232h0M431.9 231.1h0M431.3 232.5h0M404.8 250h0M433.1 230.9h0M435.3 227.7h0M409.1 248.7h0M430.5 232.9h0M401.6 253.1h0M402.4 250.8h0M420.9 238.8h0M401.5 252.3h0M404.2 251.2h0M413.3 243.1h0M396.5 257.3h0M402.5 251h0M420.5 240.9h0M416.5 241.3h0M414.7 243.2h0M401.1 253.2h0M400.6 253.6h0M418.7 240h0M411.1 245.8h0M394.1 258.4h0M439.7 225.4h0M422.5 238.4h0M430.1 233.3h0M409 248.7h0M417 242.2h0M439.6 225.9h0M433 229.4h0M404.6 251h0M428.6 232h0M429.3 234.1h0M431.6 232.2h0M393.7 258.6h0M401.7 253.2h0M394.6 258.5h0M419.1 241.2h0M437.1 226.9h0M436.2 229.3h0M411.3 246.6h0M398.1 256.3h0M419 240.4h0M423.3 238.7h0M410.7 246.2h0M414.1 245.3h0M440.4 226.9h0M402.9 252.8h0M409 248h0M436 229.7h0M393.8 257.8h0M429.6 232.7h0M438.7 225.2h0M395.1 258.7h0M437.6 228.3h0M424.3 236.4h0M428.9 234.6h0M396.9 256.2h0M398.2 256.1h0M415.3 243.6h0M399.1 255.4h0M425.2 237.5h0M401.4 253.3h0M394 259.1h0M436.7 227.6h0M433.8 230.3h0M413.3 244.4h0M397.4 257.6h0M421.8 237.8h0M413.3 243.8h0M415.6 244.4h0M422.3 238.6h0M394.9 258.4h0M426 235.1h0M433.7 229.9h0M404.6 250.5h0M405.1 250.8h0M432.2 230.9h0M415.8 243.4h0M407.4 249.3h0M438.9 226.1h0M395.2 258.7h0M401.8 252.2h0M414.8 243.4h0M402 253.5h0M410.3 248.6h0M436.3 228h0M396.5 256.3h0M395.6 259.2h0M426.6 234.5h0M393.6 260.6h0M430.6 232h0M392.3 260.2h0M431.7 230.9h0M412.8 244.9h0M435.9 228.7h0M399.1 256h0M400.7 253.9h0M400.8 252.3h0M396.3 257.9h0M416.1 243.3h0M405.3 250.8h0M426.5 236.3h0M430.7 231.7h0M395 257.5h0M426.6 234h0M395 258.6h0M430.5 231.5h0M434.2 231.1h0M416.5 244.1h0M415 243.7h0M428.4 232.4h0M425.8 236.3h0M383.7 263.4h0M404.7 250.7h0M348.9 281.4h0M396.2 253.3h0M360.3 276h0M425.3 229h0M378.6 264.5h0M416.3 237.6h0M358 284.2h0M392 250.9h0M394.5 251.1h0M351.5 282.3h0M437.2 227.1h0M360.1 279.3h0M372.7 269.4h0M358.4 277.8h0M413 242.9h0M404.2 249h0M399.7 246.6h0M358.9 277.4h0M428.2 232.6h0M360.7 276.1h0M393.3 253.1h0M443.8 223h0M446 220h0M450 217.5h0M455 215.5h0M466.3 207h0M500.8 185.5h0M410.3 239.9h0M420 241.5h0M432 233h0M400.5 245h0" stroke="#bdbdbd" stroke-width="1.5" stroke-linecap="round" fill="none"/>
<line x1="334.4" y1="181" x2="334.4" y2="298.7" stroke="#000" stroke-width="1.4"/>
<line x1="333.7" y1="298" x2="508.7" y2="298" stroke="#000" stroke-width="1.5"/>
<line x1="331.1" y1="292.6" x2="334.4" y2="292.6" stroke="#111" stroke-width="1.1"/>
<text x="325.6" y="294.9" font-size="6.6" text-anchor="middle" stroke="#1a1a1a" stroke-width="0.2" fill="#1a1a1a">0</text>
<line x1="331.1" y1="260.9" x2="334.4" y2="260.9" stroke="#111" stroke-width="1.1"/>
<text x="325.6" y="263.2" font-size="6.6" text-anchor="middle" stroke="#1a1a1a" stroke-width="0.2" fill="#1a1a1a">2</text>
<line x1="331.1" y1="229.2" x2="334.4" y2="229.2" stroke="#111" stroke-width="1.1"/>
<text x="325.6" y="231.5" font-size="6.6" text-anchor="middle" stroke="#1a1a1a" stroke-width="0.2" fill="#1a1a1a">4</text>
<line x1="331.1" y1="197.5" x2="334.4" y2="197.5" stroke="#111" stroke-width="1.1"/>
<text x="325.6" y="199.8" font-size="6.6" text-anchor="middle" stroke="#1a1a1a" stroke-width="0.2" fill="#1a1a1a">6</text>
<line x1="342.2" y1="298" x2="342.2" y2="301.2" stroke="#111" stroke-width="1.1"/>
<text x="342.2" y="310.4" font-size="6.6" text-anchor="middle" stroke="#1a1a1a" stroke-width="0.2" fill="#1a1a1a">0</text>
<line x1="388.8" y1="298" x2="388.8" y2="301.2" stroke="#111" stroke-width="1.1"/>
<text x="388.8" y="310.4" font-size="6.6" text-anchor="middle" stroke="#1a1a1a" stroke-width="0.2" fill="#1a1a1a">2</text>
<line x1="435.4" y1="298" x2="435.4" y2="301.2" stroke="#111" stroke-width="1.1"/>
<text x="435.4" y="310.4" font-size="6.6" text-anchor="middle" stroke="#1a1a1a" stroke-width="0.2" fill="#1a1a1a">4</text>
<line x1="482" y1="298" x2="482" y2="301.2" stroke="#111" stroke-width="1.1"/>
<text x="482" y="310.4" font-size="6.6" text-anchor="middle" stroke="#1a1a1a" stroke-width="0.2" fill="#1a1a1a">6</text>
<text x="318.9" y="239.1" font-size="9.4" text-anchor="middle" textLength="24.8" lengthAdjust="spacingAndGlyphs" stroke="#1a1a1a" stroke-width="0.35" transform="rotate(-90 318.9 239.1)" fill="#1a1a1a">Cluster 1</text>
<text x="421.8" y="322.9" font-size="9" text-anchor="middle" textLength="24.5" lengthAdjust="spacingAndGlyphs" stroke="#1a1a1a" stroke-width="0.35" fill="#1a1a1a">Cluster 0</text>
<path d="M441 213.3L438.2 216.6M425.2 250.4L422.3 252.4M418.2 263.9L409.4 263.1M403.4 259.7L396 265.1M389.9 270.2L380.1 274.2M410 273.3L381.5 273.8M388.5 277L377.1 276.2M410.5 281L385.5 278.9M404.5 285.5L373.1 278.9M383 285.5L372.4 278.5M387 293.5L373.7 284.7M371 292L367 282.3M363 290.5L366.7 283M356 285.8L352 283.5M344.4 278.7L347.9 281.8M347.3 272.4L354.2 276.8M354.8 265.8L355.6 276.2M357.5 259.8L357.7 273.5M366.2 252.9L358.7 272.2M371.7 246.5L365.6 268.5M390.4 248.8L370.2 258.7M374 263L367.9 268.5M372 269.5L367 271" stroke="#2a2a2a" stroke-width="0.7" fill="none"/>
<path d="M438.2 216.6h0M422.3 252.4h0M409.4 263.1h0M396 265.1h0M380.1 274.2h0M381.5 273.8h0M377.1 276.2h0M385.5 278.9h0M373.1 278.9h0M372.4 278.5h0M373.7 284.7h0M367 282.3h0M366.7 283h0M352 283.5h0M347.9 281.8h0M354.2 276.8h0M355.6 276.2h0M357.7 273.5h0M358.7 272.2h0M365.6 268.5h0M370.2 258.7h0M367.9 268.5h0M367 271h0M365.5 271h0" stroke="#b0101e" stroke-width="2.1" stroke-linecap="round" fill="none"/>
<text x="441.3" y="212.2" font-size="5.6" font-style="italic" stroke="#2a2a2a" stroke-width="0.1" fill="#2a2a2a">FTH1</text>
<text x="425.8" y="250.2" font-size="5.6" font-style="italic" stroke="#2a2a2a" stroke-width="0.1" fill="#2a2a2a">CCL4</text>
<text x="418.8" y="266.4" font-size="5.6" font-style="italic" stroke="#2a2a2a" stroke-width="0.1" fill="#2a2a2a">CCL3</text>
<text x="398.6" y="258.7" font-size="5.6" font-style="italic" stroke="#2a2a2a" stroke-width="0.1" fill="#2a2a2a">FGFBP2</text>
<text x="390.6" y="270.9" font-size="5.6" font-style="italic" stroke="#2a2a2a" stroke-width="0.1" fill="#2a2a2a">PTGDS</text>
<text x="410.8" y="274.5" font-size="5.6" font-style="italic" stroke="#2a2a2a" stroke-width="0.1" fill="#2a2a2a">EVL</text>
<text x="389.2" y="278.7" font-size="5.6" font-style="italic" stroke="#2a2a2a" stroke-width="0.1" fill="#2a2a2a">RNF213</text>
<text x="411.4" y="283" font-size="5.6" font-style="italic" stroke="#2a2a2a" stroke-width="0.1" fill="#2a2a2a">CCL4L2</text>
<text x="405.4" y="287.7" font-size="5.6" font-style="italic" stroke="#2a2a2a" stroke-width="0.1" fill="#2a2a2a">PYHIN1</text>
<text x="383.8" y="288.4" font-size="5.6" font-style="italic" stroke="#2a2a2a" stroke-width="0.1" fill="#2a2a2a">TXNIP</text>
<text x="387.9" y="296.4" font-size="5.6" font-style="italic" stroke="#2a2a2a" stroke-width="0.1" fill="#2a2a2a">CCL3L3</text>
<text x="371.7" y="296.4" font-size="5.6" font-style="italic" stroke="#2a2a2a" stroke-width="0.1" fill="#2a2a2a">PLEK</text>
<text x="358.6" y="296" font-size="5.6" font-style="italic" stroke="#2a2a2a" stroke-width="0.1" fill="#2a2a2a">TXK</text>
<text x="336.9" y="290.3" font-size="5.6" font-style="italic" stroke="#2a2a2a" stroke-width="0.1" fill="#2a2a2a">TNFRSF9</text>
<text x="327.1" y="277.6" font-size="5.6" font-style="italic" stroke="#2a2a2a" stroke-width="0.1" fill="#2a2a2a">ZNF331</text>
<text x="336.4" y="270.5" font-size="5.6" font-style="italic" stroke="#2a2a2a" stroke-width="0.1" fill="#2a2a2a">TFDP1</text>
<text x="338.5" y="265" font-size="5.6" font-style="italic" stroke="#2a2a2a" stroke-width="0.1" fill="#2a2a2a">SATB1</text>
<text x="346" y="258.6" font-size="5.6" font-style="italic" stroke="#2a2a2a" stroke-width="0.1" fill="#2a2a2a">MT2A</text>
<text x="348.3" y="252.3" font-size="5.6" font-style="italic" stroke="#2a2a2a" stroke-width="0.1" fill="#2a2a2a">TSPYL2</text>
<text x="358.1" y="244.8" font-size="5.6" font-style="italic" stroke="#2a2a2a" stroke-width="0.1" fill="#2a2a2a">DUSP2</text>
<text x="382.9" y="247.7" font-size="5.6" font-style="italic" stroke="#2a2a2a" stroke-width="0.1" fill="#2a2a2a">CREM</text>
<text x="374.2" y="261.8" font-size="5.6" font-style="italic" stroke="#2a2a2a" stroke-width="0.1" fill="#2a2a2a">RGS1</text>
<text x="373.1" y="269.1" font-size="5.6" font-style="italic" stroke="#2a2a2a" stroke-width="0.1" fill="#2a2a2a">DDIT4</text>
<text x="364.3" y="275.3" font-size="5.6" font-style="italic" stroke="#2a2a2a" stroke-width="0.1" fill="#2a2a2a">LMNA</text>
<text x="126.8" y="446.2" font-size="8.6" text-anchor="middle" stroke="#1a1a1a" stroke-width="0.2" fill="#1a1a1a">Cluster 0</text>
<text x="340.2" y="446.2" font-size="8.6" text-anchor="middle" stroke="#1a1a1a" stroke-width="0.2" fill="#1a1a1a">Cluster 1</text>
<path d="M54.9 558.6h0M72.8 551h0M99 535h0M53.6 553.3h0M56 554.9h0M96.8 536h0M71.3 546.7h0M94 529.8h0M101.4 528.6h0M91.6 533.9h0M68.3 552.8h0M76.2 552.6h0M99.6 529.5h0M94.8 534.2h0M77 543.6h0M103.9 530.6h0M71.5 546.9h0M82.5 537.8h0M53.7 563.2h0M72.3 546.8h0M55.9 558h0M104 529.2h0M80.4 534.3h0M97 538.5h0M47.4 557.7h0M84.3 539.5h0M66.4 557.6h0M81.2 547.1h0M61.1 552.1h0M73.9 538.4h0M66.2 555.6h0M64.8 551.1h0M81.1 540.4h0M101 526.3h0M74.5 546h0M79 544.7h0M56.3 559.5h0M63.5 550.4h0M62.7 555.6h0M49.6 554.4h0M81.7 539.4h0M79.8 541.3h0M87.5 535.8h0M71.8 542.5h0M74 544.9h0M65.8 551.9h0M78.5 546.6h0M69.6 548.8h0M68 550.1h0M97.3 532.2h0M78.4 549.1h0M65.8 555.2h0M91.9 535h0M60.5 562.8h0M74.6 549.6h0M50 558.3h0M91.2 538.6h0M55 560.2h0M93.8 542.3h0M55.9 556h0M88 541h0M85.2 544h0M74.7 539.9h0M90 536.2h0M71.9 540.9h0M91.7 533.1h0M51.5 552.5h0M100.8 536.7h0M81.5 542h0M78.7 548.8h0M71.3 547.1h0M94.5 537.6h0M67.8 546.4h0M70.9 542.1h0M65.5 553.7h0M68.5 546.2h0M65.7 550.4h0M94.2 536.7h0M71.5 544.2h0M58.2 555.8h0M81.8 543.8h0M84.7 547.7h0M68.7 554.8h0M98.6 536.6h0M55.9 549.7h0M72.5 548h0M50.6 561.1h0M76.5 536.7h0M92.2 535.3h0M81 547.2h0M77.5 544.3h0M85.7 536.2h0M83 543.4h0M70.7 554.6h0M77 542.7h0M52.3 557.3h0M81.3 544.9h0M84.2 547.9h0M72.4 540.2h0M69.4 541.2h0M63.8 544.7h0M78.7 544.6h0M65.1 549.9h0M104.8 529.4h0M52.3 555.9h0M97.7 528.8h0M101.2 522.3h0M97.7 529.5h0M65 553.4h0M76 542.7h0M58.4 556.4h0M82.5 538.1h0M103.6 525.6h0M86.1 543h0M93.4 535.4h0M65.4 551.9h0M65.2 551.8h0M93.6 528.9h0M57.8 553.7h0M75 542.9h0M84.4 539h0M80.7 547.7h0M71.4 548.1h0M56.7 561.4h0M56.7 563.3h0M54.8 561.1h0M96.9 536.5h0M83.2 541.3h0M48.1 561.6h0M90.6 533.2h0M70.8 554.5h0M57.6 556.8h0M100.4 531.8h0M80 540.2h0M71.6 551.7h0M53 564.1h0M101.1 526h0M72 545.5h0M49.5 559.9h0M102.1 531.1h0M97.9 528.6h0M93.7 532.3h0M105.1 532.2h0M77.6 547.3h0M69.8 548.3h0M89.2 537.6h0M99.5 534h0M76 546.1h0M56.5 554.6h0M70.4 553.2h0M68.3 558.5h0M81.7 545.5h0M71.5 551.5h0M71.9 549.9h0M95.5 533.9h0M68.1 550.4h0M65.4 554.7h0M64.2 558.7h0M68.1 551.7h0M56.7 557h0M62.6 552h0M97 535.2h0M97.1 535.2h0M94.8 535.5h0M90.6 539.3h0M70.7 551.4h0M101.9 528.2h0M77.1 545.3h0M57.5 561.5h0M88 537.1h0M85.2 547.8h0M69 549.8h0M62.7 559.4h0M99.3 534.1h0M80.5 545.9h0M63.7 553.7h0M83.7 536.4h0M79.7 541.5h0M54.6 562.6h0M59.1 558.2h0M84.5 537h0M52.6 556.5h0M75.8 543.9h0M66.4 554.6h0M61.6 555.9h0M54.9 558h0M69.5 546.1h0M100.4 531.2h0M93.4 526.1h0M55.5 558.1h0M87.2 539.2h0M84.7 537.3h0M87.1 541.7h0M87.9 537.9h0M71.7 556.1h0M84.2 541h0M100.9 531.5h0M89.7 536.4h0M49.8 560.7h0M57.7 558h0M71.2 551.7h0M49.2 560h0M60.7 560.4h0M93.2 528.5h0M61.3 551.8h0M72.1 546.2h0M46.5 560.5h0M95.8 533.4h0M48.9 559.1h0M96.2 531.5h0M61.6 553.6h0M54.7 559.5h0M98.9 528.1h0M93.2 539.9h0M71.9 551.2h0M91.3 537.2h0M51.8 557.6h0M98.2 523h0M89.4 541.2h0M91.4 538.4h0M71.5 543.1h0M50.5 560h0M75.3 541.6h0M103.1 533.1h0M52.8 565h0M88.6 538.5h0M77.8 541.2h0M101.7 525.7h0M60.5 551.2h0M50.2 559h0M61 558.1h0M67.6 554.9h0M88.4 542.4h0M61.7 554.6h0M75.6 550.5h0M100.4 527.8h0M99.7 533.2h0M54.5 555.4h0M93.8 532.6h0M79.3 543.4h0M84.9 537.2h0M79 536.6h0M96.1 534.3h0M54.1 558.2h0M61.5 558.3h0M51.2 560.4h0M89.2 539.7h0M74.8 548.9h0M75.8 547.8h0M69 550.5h0M49.2 563.6h0M104.6 527.3h0M88.1 535.9h0M103 526.4h0M75.5 544.8h0M73.6 548.7h0M50.6 566.1h0M98.8 527.3h0M99.2 526.1h0M85.2 539.5h0M57.3 560.2h0M50.1 562.9h0M61.4 546.7h0M56.3 552.6h0M98.1 525.3h0M58.4 558.1h0M86.9 530.8h0M68 553.4h0M69.4 556.5h0M67.3 547h0M94.8 532.2h0M64 558.1h0M84.4 541.4h0M93.6 531.7h0M98.1 523.1h0M75.1 543.5h0M65.1 552.2h0M83.6 546h0M58.7 559.3h0M74.1 548.3h0M50.1 561.3h0M74.1 548.9h0M50.9 567.3h0M97.9 535.9h0M69.7 543.6h0M63 550.9h0M70.1 544.8h0M64.7 546.7h0M96.1 534.9h0M100.3 531.7h0M74.6 549.2h0M79.4 541.6h0M53.9 561.5h0M62.7 545.4h0M101 532.2h0M101.1 537.8h0M82.6 539.5h0M96.8 537.9h0M83.8 542.7h0M61.2 546.4h0M73.4 542.5h0M84.4 538.9h0M100.1 533.7h0M50.6 563.7h0M76.1 551h0M51.9 558.4h0M79.6 539.7h0M69.4 544.3h0M70.1 548h0M56.2 561.5h0M82.8 548.9h0M55.3 560.4h0M52.3 557.9h0M78.2 543.9h0M81.7 546.5h0M60.1 553.5h0M76.8 543.9h0M83.2 544.5h0M53.1 561.8h0M74.6 549.6h0M86.9 534.4h0M94.9 541.7h0M92.9 542.9h0M54.7 560.8h0M56.1 554.2h0M99.7 523.7h0M54.6 556.1h0M93.5 537.1h0M69.7 550.4h0M47.8 560.8h0M64.4 551.1h0M84.8 532h0M85.2 543.4h0M94 525.7h0M96 529.1h0M57.5 556.9h0M89.8 532.8h0M87.2 539.2h0M68.4 548.2h0M92.9 540.9h0M49.5 559.9h0M84.3 544.3h0M95.2 536.3h0M56.9 562.9h0M61.2 551.8h0M55.6 550.7h0M82.3 543.9h0M55.4 560.3h0M93.8 534.4h0M57.1 554h0M86.7 537.4h0M72.1 553h0M81.7 548.4h0M88.9 540.8h0M45 556.6h0M68.8 552.7h0M99.6 534.4h0M94.8 536h0M94.9 534h0M85.1 535.9h0M58.3 559.4h0M93.2 527.9h0M85.2 544.7h0M51.7 559.3h0M100.1 532.6h0M82.7 543.5h0M68.9 550.5h0M73 543.6h0M67.3 548.9h0M46.9 560.4h0M48.4 561h0M74.8 547.4h0M56.3 557.7h0M86 538.5h0M78 547.3h0M60.9 550.3h0M101.6 527h0M106.9 531h0M92.5 536.1h0M98.1 532.2h0M81.6 536h0M68 548.9h0M101 536.7h0M100.8 528.2h0M90.1 533.2h0M87.5 532.2h0M67.8 550.1h0M78.8 542.3h0M67.6 551.4h0M68.6 554.7h0M68.8 549.5h0M62 554.5h0M57.5 560.8h0M49.8 565h0M71.9 544.6h0M80 541.9h0M52.9 562.3h0M64.1 550.4h0M82.2 547.6h0M99.2 525.7h0M84.8 547.6h0M53.6 561.8h0M106.5 531h0M68.6 550.6h0M95.5 528.6h0M48.1 554.6h0M64.1 553.7h0M63.8 555.5h0M63.4 553.6h0M88.5 538.2h0M61.3 558.7h0M84.1 544.1h0M57.2 552.7h0M92.3 540.5h0M51.9 559.2h0M95.4 535.8h0M54.6 556.2h0M55 550.3h0M83.6 538.6h0M101 530.4h0M92.3 538.6h0M82.7 535.9h0M68.8 553.3h0M50.8 560.2h0M84 540.9h0M64.5 547h0M62.7 553.9h0M78.2 552.2h0M80.5 543.3h0M106.7 531.3h0M90.2 538.3h0M67.7 552.6h0M56.7 558.8h0M94.6 540h0M74 550.7h0M76.7 540.4h0M84.2 537.3h0M80.8 539h0M65.4 558h0M88.8 537.8h0M62.4 546.8h0M94.1 538.4h0M63.6 552.5h0M78.8 545.6h0M48.2 562.1h0M73.3 543h0M66 545.7h0M104.8 528.1h0M56.2 564.7h0M50 562.7h0M77.1 545.7h0M81.5 545.9h0M72.6 555.8h0M57.9 559.8h0M103.3 534.2h0M60.4 562.2h0M62.4 555.2h0M101.3 523.4h0M67.6 550.6h0M92 531.6h0M99.9 531.1h0M54.1 559h0M84.1 538.7h0M71.3 549.2h0M79.7 541.9h0M75.1 554.2h0M81.6 537h0M60.8 554.9h0M74.2 549.7h0M62.1 556.1h0M87.7 544.6h0M66.3 554.3h0M80.4 542.4h0M59.4 561.3h0M60.4 548.9h0M91.5 537h0M65.5 548.9h0M76.5 546.9h0M86.2 537.3h0M79.7 537.8h0M99 532.3h0M61.3 557.5h0M91.3 533.1h0M98.8 534.4h0M108.1 532.6h0M65.9 553.7h0M103.7 528.1h0M49.4 564.1h0M89.4 535.6h0M54.9 561.7h0M55.6 563.7h0M69.9 554.9h0M96.8 528.9h0M105.2 529.9h0M93.4 534.9h0M89.5 541.6h0M61.7 555.5h0M72.8 548h0M104.7 527.7h0M66.7 552.7h0M75.1 544.4h0M54.7 556.4h0M87.6 539.1h0M56.3 557.4h0M52.2 555.5h0M64.4 544.4h0M68 550.6h0M64 561.2h0M88.9 535.4h0M64.2 554.2h0M53.2 562.6h0M48.6 558.4h0M79.6 542.8h0M71.5 554.5h0M85.4 539.8h0M76.3 539.1h0M103.1 526.3h0M97.4 530.9h0M64.3 548.6h0M73.7 550.8h0M69.7 548.6h0M75.1 554.2h0M52 568.7h0M83.9 543.1h0M82.2 540h0M69.6 549.5h0M55.9 560.8h0M96.9 534h0M47.1 555.3h0M86.4 536.1h0M81.7 547h0M66.1 551.8h0M90.5 536.1h0M94.1 528.3h0M104.5 526.9h0M59.2 551.2h0M67.4 545.8h0M86.8 534.5h0M84.3 543.2h0M85.4 536.8h0M81.3 547.2h0M59.6 553.2h0M98.8 528.8h0M74.6 545.3h0M72.9 542.3h0M63.3 559.3h0M81.5 549.2h0M74.5 538.8h0M61 553.5h0M58.7 558.2h0M82.6 537h0M98.1 537.9h0M48.1 557.8h0M71.4 552h0M52 553.8h0M56.8 557.4h0M69.2 551.5h0M91.7 530.9h0M52.7 559.4h0M73.4 553.3h0M73.6 546.7h0M76.2 547.3h0M53.5 552.8h0M85.3 536.1h0M63.2 557.1h0M68.2 548.1h0M50.6 564.8h0M58.9 554.8h0M57.9 556.1h0M88.7 536.7h0M63.4 556.9h0M97.8 536.5h0M98.4 534.4h0M56.6 551.1h0M84.8 543.2h0M71.1 552.7h0M69.5 550.7h0M88.1 536.5h0M86.8 542.6h0M93.1 532.1h0M82.5 544.5h0M102.5 532.5h0M92.3 543.3h0M68.4 548.3h0M50.6 558.2h0M89.4 533.2h0M77.9 547.6h0M99.4 530.6h0M81.4 541h0M70.9 540.8h0M72.5 549.4h0M76.5 548.4h0M74.7 543.3h0M78.4 546.6h0M87.7 532.4h0M73.6 552.9h0M80.3 544.2h0M92 535.5h0M59.7 553.6h0M52.8 560.8h0" stroke="#c6c6c6" stroke-width="1.9" stroke-linecap="round" fill="none"/>
<path d="M104.9 527h0M142.8 502.5h0M138.8 505.2h0M140.4 504h0M139.4 505h0M123.1 513.9h0M145.9 499.3h0M149.9 498.5h0M129.8 511.7h0M100.6 530.7h0M114.9 520.8h0M117.8 518.9h0M132.4 511h0M129 511.4h0M117.4 519.3h0M149.6 498.8h0M114 520h0M111.9 523.7h0M121.4 516.9h0M126 512.6h0M120.9 517h0M145.9 501.2h0M132.4 511h0M102.7 528.3h0M123.7 516h0M132.1 509.4h0M145.6 501.4h0M116.5 519.5h0M133.1 507.6h0M126.3 514.2h0M149.9 497.8h0M102.8 527.7h0M103 529h0M149.6 499.2h0M110.5 524.2h0M152 495.5h0M128.2 511.7h0M138.3 505.4h0M111.8 522.3h0M148.3 500.2h0M112.4 523.8h0M106.3 527.6h0M154.5 495.9h0M123.5 514.9h0M151.4 496.6h0M139.2 505.2h0M139.8 504.9h0M102.5 529.2h0M113 521.5h0M133 508.7h0M109.2 525.4h0M151.7 496.3h0M109.3 525.8h0M145.9 501.5h0M101.8 529.2h0M121.5 516.2h0M130.9 510h0M104.8 526.2h0M124.6 514.8h0M139.2 506.2h0M107.4 526.7h0M153.3 497.4h0M130 511h0M116.2 519.2h0M128.8 512.9h0M153.3 496.6h0M149.5 498.9h0M133.9 508.2h0M107.9 525.3h0M116 521.3h0M112.5 521.4h0M153.2 497h0M155.2 494.9h0M120.1 518.5h0M102.7 528.4h0M118.7 517.8h0M142.4 503.2h0M110.3 524h0M103.7 527.5h0M132.2 510.4h0M145.2 501.7h0M133.9 508.3h0M129.3 511.5h0M105.4 526.7h0M132.8 508.9h0M119.7 516.9h0M109.7 525h0M110 524.7h0M147.9 499.2h0M149.6 497.9h0M105.4 527.1h0M150.4 498.4h0M130.8 511.1h0M106.5 525.8h0M130.6 510.8h0M128.7 511.5h0M123.2 515.8h0M111.8 523.3h0M149.9 498.5h0M128.7 512h0M153.7 495.5h0M128 512.6h0M138.8 504.3h0M113.1 522h0M114.9 520.4h0M101.4 528.8h0M116.9 520.1h0M151.2 498.2h0M113.6 522.2h0M134 508.7h0M103 527.4h0M113.3 520.3h0M101.8 528.1h0M135 507.3h0M118.9 516.9h0M145.5 499.4h0M100.8 530.4h0M153.3 495.2h0M105.2 527.5h0M113.9 521.4h0M108.1 524.1h0M119.8 518h0M112.7 522.7h0M119.6 519.3h0M144.9 500.9h0M126.7 511.8h0M151.8 496.9h0M142.7 502.5h0M135.5 507.1h0M148.2 499.3h0M140.7 503.7h0M120.4 518.3h0M139.1 506.7h0M142.9 503.6h0M153.9 496.6h0M151.6 497h0M145.1 499.8h0M133 507.7h0M145 501.9h0M149.4 497.9h0M131 511.9h0M154.6 496.6h0M145.5 502.3h0M114.5 521.4h0M111.1 522.8h0M126.1 513.6h0M152.2 497.5h0M139 505h0M144.3 501h0M144.9 500.6h0M146.4 498.9h0M123.6 516.1h0M147.9 500h0M118.8 517.1h0M144.8 500.6h0M100.2 530.2h0M106.3 526.4h0M145.9 499.8h0M126.3 513.9h0M119.2 518.2h0M148.5 499.7h0M135.3 507.5h0M115.6 520.7h0M139.5 503.8h0M146.2 500.9h0M106.8 526h0M146.8 499.9h0M110.4 523.5h0M121.4 518.2h0M113.2 522.8h0M145.5 497.3h0M94.9 525.1h0M109.2 523.3h0M156.8 494.7h0M78.1 548.5h0M112 523.4h0M151.7 495.9h0M104.5 527.2h0M93.2 531.5h0M67.2 544.7h0M109 521.5h0M99.1 535.5h0M123.4 511.4h0M66.3 548.6h0M151.9 493.5h0M94.1 530.8h0M94.8 529h0M109.3 520.3h0M159.5 487.7h0M171.3 482h0M205.9 457.4h0M162 488.5h0M150 491h0" stroke="#bdbdbd" stroke-width="1.5" stroke-linecap="round" fill="none"/>
<line x1="39.5" y1="451.1" x2="39.5" y2="569.2" stroke="#000" stroke-width="1.4"/>
<line x1="38.8" y1="568.5" x2="214" y2="568.5" stroke="#000" stroke-width="1.5"/>
<line x1="36.2" y1="564.3" x2="39.5" y2="564.3" stroke="#111" stroke-width="1.1"/>
<text x="31.3" y="566.6" font-size="6.6" text-anchor="middle" stroke="#1a1a1a" stroke-width="0.2" fill="#1a1a1a">0</text>
<line x1="36.2" y1="533.1" x2="39.5" y2="533.1" stroke="#111" stroke-width="1.1"/>
<text x="31.3" y="535.4" font-size="6.6" text-anchor="middle" stroke="#1a1a1a" stroke-width="0.2" fill="#1a1a1a">2</text>
<line x1="36.2" y1="501.9" x2="39.5" y2="501.9" stroke="#111" stroke-width="1.1"/>
<text x="31.3" y="504.2" font-size="6.6" text-anchor="middle" stroke="#1a1a1a" stroke-width="0.2" fill="#1a1a1a">4</text>
<line x1="36.2" y1="470.7" x2="39.5" y2="470.7" stroke="#111" stroke-width="1.1"/>
<text x="31.3" y="473" font-size="6.6" text-anchor="middle" stroke="#1a1a1a" stroke-width="0.2" fill="#1a1a1a">6</text>
<line x1="47.5" y1="568.5" x2="47.5" y2="571.7" stroke="#111" stroke-width="1.1"/>
<text x="47.5" y="580.9" font-size="6.6" text-anchor="middle" stroke="#1a1a1a" stroke-width="0.2" fill="#1a1a1a">0</text>
<line x1="94" y1="568.5" x2="94" y2="571.7" stroke="#111" stroke-width="1.1"/>
<text x="94" y="580.9" font-size="6.6" text-anchor="middle" stroke="#1a1a1a" stroke-width="0.2" fill="#1a1a1a">2</text>
<line x1="140.6" y1="568.5" x2="140.6" y2="571.7" stroke="#111" stroke-width="1.1"/>
<text x="140.6" y="580.9" font-size="6.6" text-anchor="middle" stroke="#1a1a1a" stroke-width="0.2" fill="#1a1a1a">4</text>
<line x1="187.1" y1="568.5" x2="187.1" y2="571.7" stroke="#111" stroke-width="1.1"/>
<text x="187.1" y="580.9" font-size="6.6" text-anchor="middle" stroke="#1a1a1a" stroke-width="0.2" fill="#1a1a1a">6</text>
<text x="24.3" y="510.4" font-size="9" text-anchor="middle" textLength="71.9" lengthAdjust="spacingAndGlyphs" stroke="#1a1a1a" stroke-width="0.35" transform="rotate(-90 24.3 510.4)" fill="#1a1a1a">IL-2 stimulated expression</text>
<text x="126.8" y="593.6" font-size="9" text-anchor="middle" textLength="66.3" lengthAdjust="spacingAndGlyphs" stroke="#1a1a1a" stroke-width="0.35" fill="#1a1a1a">Unstimulated expression</text>
<path d="M278.9 541.5h0M277.7 552.3h0M297.6 536.1h0M289 538.2h0M293.3 537.9h0M299.8 533.9h0M259.1 557.2h0M278.6 557.2h0M304.1 539.8h0M265.1 555.2h0M261.6 559.6h0M278.2 550.4h0M270.4 550h0M293.9 537.7h0M282 553h0M301.8 528.7h0M287.8 537.2h0M280.9 555.2h0M290.7 539.9h0M274.6 556.1h0M299.6 539.7h0M295.3 536.7h0M284.6 547.8h0M301.4 537.4h0M271.4 561.5h0M276.4 555.3h0M278.4 551.5h0M304.8 533.8h0M274.3 552.7h0M303.1 533.6h0M282 551.3h0M265.6 559.3h0M280 553.5h0M303.3 532h0M302.4 535.8h0M282.3 550.7h0M292.8 534.6h0M276.8 555.7h0M284.5 551.8h0M283.9 542.9h0M270.1 550h0M279.2 554.4h0M272.4 552.1h0M288.5 542.5h0M266.3 566.5h0M295.6 534.1h0M301.6 531.8h0M272.7 554.5h0M285.9 546.5h0M293.2 537.6h0M294.6 534.5h0M264.9 558h0M306.3 535.9h0M287.6 541h0M275 545.8h0M302.3 532.8h0M276.4 547.9h0M295.7 536.2h0M300.4 536.6h0M281.4 541.8h0M300.3 533.6h0M266.5 558.2h0M279.8 550.7h0M284.9 549.4h0M284 541.1h0M277.3 548.1h0M297.4 535h0M296.3 538.6h0M289.5 540.1h0M290.1 533.2h0M300.5 534.2h0M295 541h0M297 531.2h0M265.9 557.5h0M284.9 539.2h0M275.7 557.7h0M298.4 538.2h0M273.4 554.7h0M266.6 562h0M294.4 546.4h0M276.2 550.7h0M295.3 545.5h0M277 555h0M260.4 561.8h0M272.3 553.1h0M261.1 557.7h0M297.4 538.4h0M263.2 562.4h0M270 554.6h0M287.7 541.5h0M287.6 547h0M271 556.6h0M296.6 534.3h0M296.1 536.4h0M295.1 537.9h0M260.1 559.1h0M263.7 560.9h0M288.3 542.2h0M275.9 546.5h0M282.3 544.9h0M298.4 534.2h0M306.6 533.5h0M271.4 546.8h0M306.5 534.3h0M267.9 560.1h0M279.6 546.6h0M278.1 544.4h0M276.8 553.1h0M275.4 556.6h0M269.3 556.5h0M277.8 545.6h0M269.3 556.1h0M271.4 552.7h0M284 542.8h0M289.8 533.4h0M305.6 536.6h0M291.1 537.8h0M263.9 561.1h0M299.3 535.8h0M291.7 538.4h0M275.5 550h0M264.1 552.1h0M270.3 547.6h0M263.8 562.8h0M302.3 536.6h0M295.5 536h0M266 560h0M268.2 558.6h0M302.3 528.2h0M301.8 534.7h0M294.9 533.6h0M268.7 561.7h0M285 549h0M270.2 556.3h0M301.4 534.5h0M296.4 545.9h0M278.3 546.3h0M290.4 535.7h0M300.5 539.5h0M268.3 560.7h0M286.9 544.4h0M281.5 556.2h0M295.8 538.2h0M285.5 553.8h0M285.7 547.5h0M262.8 559h0M302.5 538.2h0M281.4 546.3h0M270.6 553.7h0M300.1 533h0M287.7 545h0M267.3 559.9h0M288.9 547.2h0M288.4 541.8h0M261.8 557.9h0M295.1 542.8h0M279.4 551.3h0M290.3 541h0M288.1 540.2h0M290.3 539.3h0M301.2 534.2h0M288.8 545.8h0M305 532.2h0M268.2 551.8h0M299.5 539.8h0M288.9 542.7h0M264.6 559.2h0M304.1 532h0M262.6 560.7h0M272.9 557.1h0M290 540.7h0M299 529.1h0M269 549.7h0M271.2 562.8h0M266 560.2h0M303.5 531.4h0M295.2 535.4h0M267.2 556.5h0M295.6 537.7h0M300.3 534.7h0M298.4 535.7h0M286.5 546.7h0M286.1 540.2h0M287.4 544.3h0M262.6 560.2h0M284.5 544.8h0M263.3 565.5h0M297.6 544.4h0M297.3 537.8h0M283.3 551.3h0M272.2 559.2h0M284 554.9h0M288.6 550.5h0M279.3 555.5h0M300.2 538.4h0M299.9 538h0M275.5 554.9h0M296.2 540.9h0M306.3 534.8h0M295.6 539.5h0M266 559.4h0M289.4 538.1h0M279.6 546.4h0M276.6 546.8h0M299.4 531h0M294.5 541.4h0M293.7 530.5h0M295.6 544.3h0M299 536.6h0M280.9 550.5h0M301.6 531.6h0M280 548.3h0M272.7 551.3h0M275.9 551.3h0M281.3 550h0M301.4 527.9h0M290.6 533.2h0M301.3 541h0M272.9 554.1h0M271.6 554.5h0M271.4 555.9h0M301.6 536.9h0M294 537.1h0M297.9 542.1h0M282.1 542.8h0M266.4 560.8h0M287 540.8h0M273 545.6h0M266.8 556.1h0M282.9 543.9h0M300.2 530.1h0M281.6 553.7h0M301.9 529.8h0M265.3 560.7h0M302.5 536.3h0M261.4 562.3h0M307.8 535.8h0M265.9 553.4h0M292.6 542.5h0M293.9 539.2h0M270.8 552.6h0M261.7 561.4h0M271.1 552.9h0M301.7 529.8h0M287.7 539h0M286.7 543.1h0M262.2 558.7h0M265.9 563.5h0M267.4 558.7h0M261.8 553.7h0M291.5 541.3h0M273.2 554.5h0M264.1 558h0M271.7 549.7h0M282.3 551.1h0M297 545.1h0M278.7 555.7h0M301.4 541.6h0M271.7 556.8h0M299.6 537h0M270.3 550.1h0M263.1 564.9h0M272.1 563.6h0M287.4 538.3h0M267.4 555.1h0M271.4 564.1h0M281.2 555.4h0M288.4 540.3h0M263.2 560.1h0M262.3 563.4h0M302.5 531h0M276.8 551.1h0M294.6 536.3h0M270.4 552.6h0M267.8 562h0M272.4 555.7h0M276.1 548.6h0M294.9 538.8h0M272 557.8h0M275.9 548h0M284 550.9h0M302.2 539.1h0M298.8 537.5h0M273.5 558.5h0M266.5 559.9h0M281 548h0M265.3 558h0M282.8 548.6h0M281.7 550.7h0M268 561.7h0M282.4 549.1h0M301.5 532h0M270.5 555.5h0M289.9 533.9h0M301.7 530h0M302.6 540.8h0M287.2 550.5h0M273.5 558h0M274 561.2h0M264.2 559.7h0M285.4 553.9h0M295.2 542.4h0M276 554.2h0M269 555h0M264.6 556.9h0M303 529.7h0M261.6 562.9h0M289.3 541.5h0M281.7 547.9h0M292.1 537.3h0M282.6 546.6h0M286.9 542.7h0M295.4 536h0M302.4 532.4h0M273.1 545.7h0M301.3 535h0M288.7 545.7h0M301.9 535.9h0M263.3 562.8h0M281.2 550.1h0M295 540.5h0M288.6 547h0M290.1 540.2h0M263 564.6h0M281.5 547.1h0M285.8 549.7h0M303.9 530.2h0M289.2 544.2h0M273.7 561.8h0M303.6 529.1h0M303.7 532.8h0M273.6 550.5h0M291.5 543h0M261.2 561.1h0M298.3 537.7h0M259.8 561.3h0M280 547.1h0M285.5 544.7h0M270.5 553.8h0M267.4 560.7h0M266.7 558.2h0M280.2 541.1h0M261.4 558.3h0M272.7 557.4h0M283.3 551.8h0M281.3 553.1h0M296.9 532.8h0M302.5 531.6h0M283.1 555.6h0M264.1 562.5h0M261.3 561.8h0M272.4 551.9h0M303.4 540.8h0M275.6 544.1h0M295.8 536.2h0M288.7 540.7h0M271.6 555.1h0M286.8 537.6h0M298.6 531.6h0M303.6 532.6h0M301.3 535.3h0M287.4 546.6h0M275.1 558.8h0M269.7 553.1h0M292.7 543.9h0M264.1 560.4h0M278.9 544h0M290.7 541.6h0M281.6 547.4h0M290.1 540.3h0M266.1 553.3h0M303.5 532.8h0M278.5 547.2h0M303.7 533.1h0M305.3 535h0M301 534.7h0M280.2 556.1h0M290.3 541.9h0M269.7 554.4h0M270.4 556h0M267.5 559.4h0M278.1 549h0M287 544.9h0M300.8 530.5h0M291.1 539.2h0M281.3 550.5h0M263.9 565.3h0M291.8 542.8h0M305 534.5h0M296.2 540.5h0M286.4 539.2h0M293.3 542.3h0M294.4 538.1h0M274.1 553.2h0M291.3 549h0M300.3 538.5h0M267.8 554h0M258.4 558.1h0M272.3 553.3h0M265.4 562.5h0M291.7 540.8h0M261.4 563.2h0M293.9 542.4h0M305.4 532.8h0M302.2 533.3h0M304.8 533.5h0M285.5 548.3h0M273 549.9h0M273.5 556.3h0M264.5 562.7h0M265.6 560.9h0M287.9 542.3h0M294.3 535.6h0M291.8 537.9h0M271.3 559.7h0M301.3 532.4h0M267.5 557.7h0M289 537.5h0M273.3 558.6h0M296.4 537.9h0M285.9 543h0M268.4 555.5h0M292.2 532.7h0M273.7 559.1h0M287.5 547.2h0M268 559.9h0M268.3 563h0M289 542.8h0M281.2 551.6h0M284.4 545.8h0M292.4 539.1h0M270 554.9h0M294.3 544.8h0M289.2 544.9h0M273.9 551.9h0M290.1 541.7h0M272.2 557.4h0M296.5 540.4h0M300.3 528.3h0M295.3 536.7h0M294.4 542.2h0M262.8 560.3h0M262.6 560.7h0M286.4 550.4h0M303.5 540.3h0M281.7 548.7h0M284.3 548.1h0M281.8 543.4h0M286.8 549.5h0M295.7 539h0M278.5 551.3h0M282.2 547.5h0M273.8 560.1h0M271.8 548.4h0M295.4 539h0M273.2 545.4h0M303.6 535.2h0M290 545.7h0M290.4 544.5h0M277.4 559.7h0M302.4 535.7h0M263.9 555h0M274.8 554.2h0M264 560.8h0M276.7 544.1h0M264.1 559.3h0M304 532.9h0M262.4 560.2h0M270.4 563.4h0M266.8 561.1h0M284.9 546.7h0M298.3 537.2h0M295.8 540h0M279.2 548.6h0M272.6 556.5h0M304.9 533.5h0M294.7 540.8h0M302.2 537.1h0M301.8 530.6h0M287 542.9h0M294.7 543.2h0M294.2 540.8h0M304.1 533.7h0M266.4 560.6h0M270.2 552.7h0M268.1 549.2h0M268.7 559.9h0M298.1 534.9h0M294.9 540.7h0M276.9 553.2h0M299.1 539.4h0M298.7 535h0M294.5 538.4h0M291.8 549.2h0M272.4 548.4h0M299 536.8h0M275.6 549.3h0M276.3 549.3h0M267.5 561.7h0M272.8 558.2h0M287.8 541.1h0M300.1 534.7h0M299.9 531.5h0M299.7 541.8h0M294 538.6h0M296.7 536.9h0M280.8 555h0M299.7 538.5h0M277.7 554.9h0M294.9 533.7h0M301.6 540.4h0M302.8 539.2h0M297.5 544.3h0M290.4 540.8h0M298.8 534.4h0M283.3 543h0M296 538.7h0M296.4 539.3h0M274.9 550.7h0M273.5 557.1h0M263.2 563.7h0M296.2 537.7h0M264.8 561.9h0M294.3 540.3h0M280.9 553.1h0M298 539.7h0M288.3 542.1h0M296.3 528.7h0M294.1 540.6h0M276.6 555.6h0M263.7 557h0M288 545.8h0M280.1 544.5h0M281.5 552.7h0M268.1 553.5h0M273.5 546.7h0M295.6 546.1h0M267 559.7h0M286.7 543.7h0M279.6 548.6h0M262.9 557.1h0M285.6 548.4h0M273.4 547.1h0M270.7 555.7h0M266.9 550.9h0M302 537.8h0M277.6 550.7h0M293.5 542h0M273.7 552.5h0M275.3 552.3h0M283.7 543.7h0M282.5 546.2h0M302.1 531h0M301.6 526.3h0M267.7 555.2h0M297.8 529.3h0M298.1 533.7h0M278.2 553.1h0M261.4 561.4h0M286.7 551.8h0M300.4 528.8h0M285.9 550h0M266.2 556.9h0M289.5 543.8h0M285.5 540.9h0M272.1 554.2h0M285.7 549.5h0M281.8 548.3h0M276.1 552.3h0M292.5 540h0M270.7 552.7h0M285 548.2h0M303.3 537.5h0M267.1 552.7h0M292.3 536.7h0M291.9 539.7h0M296.3 534h0M305.8 539.1h0M282.1 551h0M268.1 564.8h0" stroke="#c6c6c6" stroke-width="1.9" stroke-linecap="round" fill="none"/>
<path d="M348.1 504.7h0M307.2 528.2h0M371.9 489.8h0M322.2 520.1h0M311.7 525.9h0M308.7 527.4h0M320 522h0M309.2 528.1h0M311.6 526.8h0M320.5 520.6h0M333 513.4h0M330.4 515.9h0M367.8 491.9h0M332.5 514.1h0M308.3 529.5h0M310.2 528.5h0M369.8 491.4h0M327 516.6h0M323.7 519.8h0M348.7 503.5h0M361.9 495.9h0M340.6 510.2h0M351.7 502h0M323.1 518.3h0M326.6 516.1h0M329.3 515.4h0M347.1 505.7h0M352.3 502h0M324.4 518.6h0M361 496.5h0M347.4 503.6h0M322.9 520.5h0M327 516.7h0M311.2 528h0M357.5 499.5h0M298.8 534h0M334.5 513.3h0M324.5 519.2h0M336.7 510.7h0M366.5 492.3h0M321.6 519.7h0M325.6 516.9h0M316.2 522.9h0M324.5 518.1h0M365.7 493.8h0M337.4 510.6h0M358.9 498.2h0M309 528.1h0M311.4 526.5h0M301.5 532.9h0M313.9 524.7h0M301.3 532.8h0M351.6 503.3h0M365.7 494.3h0M366 492.9h0M304 531.9h0M311.3 526.4h0M353.3 501.4h0M303.7 530.8h0M362.5 495.4h0M369.8 489.8h0M300 534h0M298.7 534.6h0M350 502.7h0M309 527.8h0M310.2 526.5h0M369.4 490.4h0M324.4 519.5h0M326.3 517.4h0M316.1 524h0M372.3 490.8h0M350 503.2h0M308.6 528.8h0M323.3 519.3h0M336.6 510.9h0M348.4 504.8h0M356.4 499.2h0M339.5 507.9h0M342.3 508.2h0M321.6 518.9h0M362 496.8h0M365.4 493.1h0M310.1 527.3h0M325.7 517.8h0M357.1 498.6h0M355.9 499.3h0M356.9 498.8h0M327.8 516.1h0M351.2 501.4h0M328.3 517.8h0M366.5 492.4h0M343 507h0M317.5 523.6h0M364.9 494.2h0M358 496.8h0M371.2 489.7h0M353.5 500.2h0M316.5 523.2h0M361.2 495.8h0M333.5 512.8h0M303.9 532.8h0M366.8 492.7h0M353.9 500.2h0M340.4 509.7h0M328.8 515.4h0M367.5 493.4h0M305 531.3h0M318.3 523.6h0M330.6 515.9h0M351.5 502h0M346.2 506.6h0M303.8 530.1h0M313.1 525.7h0M346 505.3h0M366.3 493.7h0M368.1 492.7h0M339.9 509.2h0M357.7 498.3h0M361.4 495.2h0M327.5 517.6h0M305.8 529.9h0M353.5 501.6h0M301.4 533.7h0M370.6 489.2h0M306.7 529.2h0M344.6 505.9h0M358.3 498.3h0M299.4 533.7h0M360.9 496.4h0M364.4 495h0M332.3 514.1h0M350.9 502.4h0M366.6 492.1h0M311.3 527.6h0M306.5 530.7h0M310.6 526.4h0M309.3 528h0M366.2 491.8h0M315.9 524.2h0M365.6 493.7h0M343.6 508.4h0M369.9 490.9h0M336.5 510.2h0M361 495.9h0M365.6 493.6h0M357.2 498.1h0M313.9 524h0M332.1 514.8h0M365.6 491.9h0M308.9 527.8h0M327 516.2h0M309.8 528.2h0M334.3 513.3h0M316.8 522.7h0M354.5 501h0M341.6 509h0M325.2 519.6h0M369.2 491.7h0M340.7 508.7h0M369.2 490.5h0M320.8 521.5h0M299.2 534.3h0M318.5 522.7h0M343.5 505.4h0M348.1 503.4h0M324.6 519.6h0M337.6 510.3h0M361.5 495.6h0M342.1 507.2h0M319.8 522.1h0M369.9 490.7h0M302.3 533.2h0M312.5 526.1h0M335.5 512.9h0M347.6 505.4h0M349 505.1h0M347.4 503.5h0M350.6 502.9h0M329 515.9h0M369.5 490.6h0M298.1 535.8h0M328.6 517h0M358.6 497.2h0M298 535h0M359.6 497.5h0M304.9 531.2h0M362.9 494.8h0M335.3 511.1h0M328.1 518h0M349.9 504.4h0M340.1 510.7h0M286.6 540.9h0M287.6 537.5h0M299.8 528.2h0M336.3 502.8h0M338 505.6h0M288.1 536.4h0M322.2 515.9h0M333.5 510.9h0M295.9 536.5h0M289.7 540.6h0M315.6 523.7h0M309.3 525h0M313 521.3h0M312 523.9h0M282.4 546.9h0M294.8 537.2h0M325.6 517.2h0M297.4 540.8h0M284 539.1h0M300.4 532.9h0M326.3 517.3h0M332.4 517.9h0M303.6 522.5h0M316.2 522.5h0M291.4 539.3h0M300.2 533.2h0M284.3 540.1h0M297.2 531.4h0M311.8 527.8h0M376 487.6h0M389 479.4h0M420 456.5h0M380 485h0" stroke="#bdbdbd" stroke-width="1.5" stroke-linecap="round" fill="none"/>
<line x1="253.3" y1="452" x2="253.3" y2="569.2" stroke="#000" stroke-width="1.4"/>
<line x1="252.6" y1="568.5" x2="427.9" y2="568.5" stroke="#000" stroke-width="1.5"/>
<line x1="250" y1="563.3" x2="253.3" y2="563.3" stroke="#111" stroke-width="1.1"/>
<text x="245.1" y="565.6" font-size="6.6" text-anchor="middle" stroke="#1a1a1a" stroke-width="0.2" fill="#1a1a1a">0</text>
<line x1="250" y1="532.1" x2="253.3" y2="532.1" stroke="#111" stroke-width="1.1"/>
<text x="245.1" y="534.4" font-size="6.6" text-anchor="middle" stroke="#1a1a1a" stroke-width="0.2" fill="#1a1a1a">2</text>
<line x1="250" y1="500.9" x2="253.3" y2="500.9" stroke="#111" stroke-width="1.1"/>
<text x="245.1" y="503.2" font-size="6.6" text-anchor="middle" stroke="#1a1a1a" stroke-width="0.2" fill="#1a1a1a">4</text>
<line x1="250" y1="469.7" x2="253.3" y2="469.7" stroke="#111" stroke-width="1.1"/>
<text x="245.1" y="472" font-size="6.6" text-anchor="middle" stroke="#1a1a1a" stroke-width="0.2" fill="#1a1a1a">6</text>
<line x1="261.5" y1="568.5" x2="261.5" y2="571.7" stroke="#111" stroke-width="1.1"/>
<text x="261.5" y="580.9" font-size="6.6" text-anchor="middle" stroke="#1a1a1a" stroke-width="0.2" fill="#1a1a1a">0</text>
<line x1="308.5" y1="568.5" x2="308.5" y2="571.7" stroke="#111" stroke-width="1.1"/>
<text x="308.5" y="580.9" font-size="6.6" text-anchor="middle" stroke="#1a1a1a" stroke-width="0.2" fill="#1a1a1a">2</text>
<line x1="355.5" y1="568.5" x2="355.5" y2="571.7" stroke="#111" stroke-width="1.1"/>
<text x="355.5" y="580.9" font-size="6.6" text-anchor="middle" stroke="#1a1a1a" stroke-width="0.2" fill="#1a1a1a">4</text>
<line x1="402.5" y1="568.5" x2="402.5" y2="571.7" stroke="#111" stroke-width="1.1"/>
<text x="402.5" y="580.9" font-size="6.6" text-anchor="middle" stroke="#1a1a1a" stroke-width="0.2" fill="#1a1a1a">6</text>
<text x="238.1" y="510.4" font-size="9" text-anchor="middle" textLength="71.9" lengthAdjust="spacingAndGlyphs" stroke="#1a1a1a" stroke-width="0.35" transform="rotate(-90 238.1 510.4)" fill="#1a1a1a">IL-2 stimulated expression</text>
<text x="340.7" y="593.6" font-size="9" text-anchor="middle" textLength="66.3" lengthAdjust="spacingAndGlyphs" stroke="#1a1a1a" stroke-width="0.35" fill="#1a1a1a">Unstimulated expression</text>
<path d="M129.5 495.5L127.5 501.2M116.5 500.5L114.7 509.9M104 506L111.4 513.3M52.6 497.8L58.8 543.5M56.5 506.5L59.5 540.4M63.4 516.5L61.1 544.7M85.7 513L81.5 527.3M80.3 522L76.5 537M94.9 523.8L81.5 533M70 529L66.2 541.2M40.3 525.8L49.5 552.7M94 533L73.8 536.5M52.6 538L52.3 543.8M97 539L70.3 540.4M94.5 545L64.2 543.8M78 545.5L61.1 544.7M71 550.5L58 548M90 553.5L74.9 554.2M66 556L54.9 549.3M75.5 556.5L58.8 543.5M47 556L48.5 553M45 563.5L48.8 553.5M61.5 564.5L48.8 553.5" stroke="#2a2a2a" stroke-width="0.7" fill="none"/>
<path d="M127.5 501.2h0M114.7 509.9h0M111.4 513.3h0M58.8 543.5h0M59.5 540.4h0M61.1 544.7h0M81.5 527.3h0M76.5 537h0M81.5 533h0M66.2 541.2h0M49.5 552.7h0M73.8 536.5h0M52.3 543.8h0M70.3 540.4h0M64.2 543.8h0M61.1 544.7h0M58 548h0M74.9 554.2h0M54.9 549.3h0M58.8 543.5h0M48.5 553h0M48.8 553.5h0M48.8 553.5h0" stroke="#b0101e" stroke-width="2.1" stroke-linecap="round" fill="none"/>
<text x="128.2" y="494" font-size="5.6" font-style="italic" stroke="#2a2a2a" stroke-width="0.1" fill="#2a2a2a">CCL4</text>
<text x="111.4" y="499.1" font-size="5.6" font-style="italic" stroke="#2a2a2a" stroke-width="0.1" fill="#2a2a2a">CCL3</text>
<text x="94.9" y="504.7" font-size="5.6" font-style="italic" stroke="#2a2a2a" stroke-width="0.1" fill="#2a2a2a">GZMB</text>
<text x="51.4" y="497.3" font-size="5.6" font-style="italic" stroke="#2a2a2a" stroke-width="0.1" fill="#2a2a2a">PTGER2</text>
<text x="59.5" y="505.3" font-size="5.6" font-style="italic" stroke="#2a2a2a" stroke-width="0.1" fill="#2a2a2a">IVNS1ABP</text>
<text x="59.8" y="515.5" font-size="5.6" font-style="italic" stroke="#2a2a2a" stroke-width="0.1" fill="#2a2a2a">CCND2</text>
<text x="82.6" y="511.5" font-size="5.6" font-style="italic" stroke="#2a2a2a" stroke-width="0.1" fill="#2a2a2a">PRF1</text>
<text x="71.8" y="520.4" font-size="5.6" font-style="italic" stroke="#2a2a2a" stroke-width="0.1" fill="#2a2a2a">IL32</text>
<text x="90.3" y="522.7" font-size="5.6" font-style="italic" stroke="#2a2a2a" stroke-width="0.1" fill="#2a2a2a">KLF6</text>
<text x="64.9" y="528.1" font-size="5.6" font-style="italic" stroke="#2a2a2a" stroke-width="0.1" fill="#2a2a2a">IER3</text>
<text x="40.3" y="524.7" font-size="5.6" font-style="italic" stroke="#2a2a2a" stroke-width="0.1" fill="#2a2a2a">IL2RA</text>
<text x="94.5" y="534.2" font-size="5.6" font-style="italic" stroke="#2a2a2a" stroke-width="0.1" fill="#2a2a2a">IL2RB</text>
<text x="41.1" y="536.5" font-size="5.6" font-style="italic" stroke="#2a2a2a" stroke-width="0.1" fill="#2a2a2a">CDK6</text>
<text x="98" y="540.4" font-size="5.6" font-style="italic" stroke="#2a2a2a" stroke-width="0.1" fill="#2a2a2a">HAVCR2</text>
<text x="95.4" y="547.3" font-size="5.6" font-style="italic" stroke="#2a2a2a" stroke-width="0.1" fill="#2a2a2a">IFNG</text>
<text x="78.8" y="547.3" font-size="5.6" font-style="italic" stroke="#2a2a2a" stroke-width="0.1" fill="#2a2a2a">LCP2</text>
<text x="71.8" y="553" font-size="5.6" font-style="italic" stroke="#2a2a2a" stroke-width="0.1" fill="#2a2a2a">PIM1</text>
<text x="91.1" y="555" font-size="5.6" font-style="italic" stroke="#2a2a2a" stroke-width="0.1" fill="#2a2a2a">GCHFR</text>
<text x="57.2" y="559.6" font-size="5.6" font-style="italic" stroke="#2a2a2a" stroke-width="0.1" fill="#2a2a2a">BRGM</text>
<text x="76.5" y="559.6" font-size="5.6" font-style="italic" stroke="#2a2a2a" stroke-width="0.1" fill="#2a2a2a">SOCS1</text>
<text x="34.2" y="559.2" font-size="5.6" font-style="italic" stroke="#2a2a2a" stroke-width="0.1" fill="#2a2a2a">CISH</text>
<text x="40.3" y="566.8" font-size="5.6" font-style="italic" stroke="#2a2a2a" stroke-width="0.1" fill="#2a2a2a">SOCS2</text>
<text x="62.2" y="566.8" font-size="5.6" font-style="italic" stroke="#2a2a2a" stroke-width="0.1" fill="#2a2a2a">MIR155HG</text>
<path d="M317 506L320.8 509.7M330 507L323.8 513M308 517.5L305.1 520.8M266.9 516.9L274.6 543.8M288 522L289.2 530.8M275 527L275.4 539.2M270 537.5L274 545M285 536L285.7 538.9M295.5 533L291.2 533.5M290 541L285.7 538.9M265 545L266.2 548.2M287 547L275.8 544.2M277 551L276 545M294 552L275.8 544.2M270 557L268.8 548.2M258 563L265.1 551.5" stroke="#2a2a2a" stroke-width="0.7" fill="none"/>
<path d="M320.8 509.7h0M323.8 513h0M305.1 520.8h0M274.6 543.8h0M289.2 530.8h0M275.4 539.2h0M274 545h0M285.7 538.9h0M291.2 533.5h0M285.7 538.9h0M266.2 548.2h0M275.8 544.2h0M276 545h0M275.8 544.2h0M268.8 548.2h0M265.1 551.5h0" stroke="#b0101e" stroke-width="2.1" stroke-linecap="round" fill="none"/>
<text x="308.5" y="504.2" font-size="5.6" font-style="italic" stroke="#2a2a2a" stroke-width="0.1" fill="#2a2a2a">CCL4</text>
<text x="327.5" y="505" font-size="5.6" font-style="italic" stroke="#2a2a2a" stroke-width="0.1" fill="#2a2a2a">GZMB</text>
<text x="303.1" y="516.2" font-size="5.6" font-style="italic" stroke="#2a2a2a" stroke-width="0.1" fill="#2a2a2a">CCL3</text>
<text x="258" y="515.7" font-size="5.6" font-style="italic" stroke="#2a2a2a" stroke-width="0.1" fill="#2a2a2a">IVNS1ABP</text>
<text x="287.7" y="520.8" font-size="5.6" font-style="italic" stroke="#2a2a2a" stroke-width="0.1" fill="#2a2a2a">PRF1</text>
<text x="270.8" y="525.4" font-size="5.6" font-style="italic" stroke="#2a2a2a" stroke-width="0.1" fill="#2a2a2a">CDK6</text>
<text x="255.8" y="536.5" font-size="5.6" font-style="italic" stroke="#2a2a2a" stroke-width="0.1" fill="#2a2a2a">CCND2</text>
<text x="277.4" y="534.9" font-size="5.6" font-style="italic" stroke="#2a2a2a" stroke-width="0.1" fill="#2a2a2a">IL32</text>
<text x="296.2" y="534.6" font-size="5.6" font-style="italic" stroke="#2a2a2a" stroke-width="0.1" fill="#2a2a2a">KLF6</text>
<text x="290.8" y="543.1" font-size="5.6" font-style="italic" stroke="#2a2a2a" stroke-width="0.1" fill="#2a2a2a">HAVCR2</text>
<text x="254.6" y="543.4" font-size="5.6" font-style="italic" stroke="#2a2a2a" stroke-width="0.1" fill="#2a2a2a">IL2RA</text>
<text x="287.7" y="549.2" font-size="5.6" font-style="italic" stroke="#2a2a2a" stroke-width="0.1" fill="#2a2a2a">LCP2</text>
<text x="275.4" y="555.4" font-size="5.6" font-style="italic" stroke="#2a2a2a" stroke-width="0.1" fill="#2a2a2a">SOCS1</text>
<text x="294.9" y="556.5" font-size="5.6" font-style="italic" stroke="#2a2a2a" stroke-width="0.1" fill="#2a2a2a">IFNG</text>
<text x="269.2" y="561.1" font-size="5.6" font-style="italic" stroke="#2a2a2a" stroke-width="0.1" fill="#2a2a2a">PTGER2</text>
<text x="256.2" y="567.2" font-size="5.6" font-style="italic" stroke="#2a2a2a" stroke-width="0.1" fill="#2a2a2a">MIR155HG</text></svg></body></html>
